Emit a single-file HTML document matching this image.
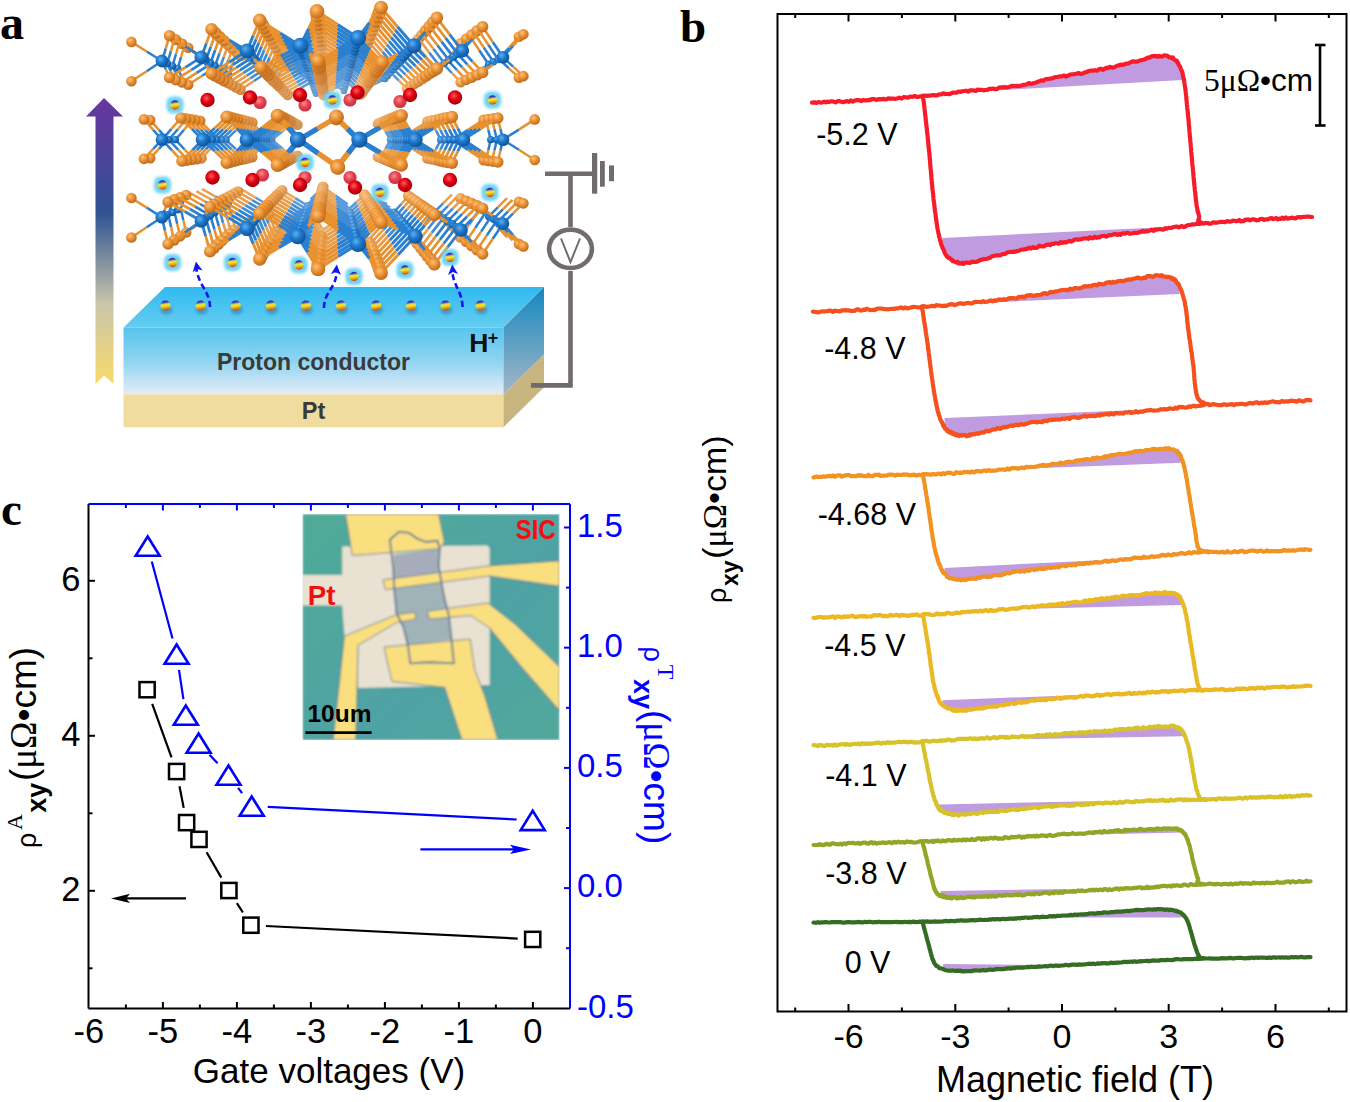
<!DOCTYPE html>
<html><head><meta charset="utf-8"><style>
html,body{margin:0;padding:0;background:#fff;width:1350px;height:1102px;overflow:hidden}
svg{display:block}
.s{font-family:"Liberation Sans",sans-serif}
.sb{font-family:"Liberation Sans",sans-serif;font-weight:bold}
.r{font-family:"Liberation Serif",serif}
.sbf{font-family:"Liberation Serif",serif;font-weight:bold}
text{font-family:"Liberation Sans",sans-serif}
</style></head><body>
<svg width="1350" height="1102" viewBox="0 0 1350 1102">
<defs><filter id="blur2" x="-50%" y="-50%" width="200%" height="200%"><feGaussianBlur stdDeviation="1.5"/></filter><radialGradient id="hp2" cx="0.5" cy="0.42" r="0.6"><stop offset="0" stop-color="#fff59a"/><stop offset="0.35" stop-color="#e8d020"/><stop offset="0.7" stop-color="#c89010"/><stop offset="1" stop-color="#7a3a10"/></radialGradient><linearGradient id="arr" x1="0" y1="0" x2="0" y2="1"><stop offset="0" stop-color="#6a35a0"/><stop offset="0.4" stop-color="#2e5292"/><stop offset="0.72" stop-color="#c9c6aa"/><stop offset="1" stop-color="#f8da6a"/></linearGradient><linearGradient id="topf" x1="0" y1="0" x2="0" y2="1"><stop offset="0" stop-color="#2fbaf0"/><stop offset="1" stop-color="#66cdf2"/></linearGradient><linearGradient id="frontf" x1="0" y1="0" x2="0" y2="1"><stop offset="0" stop-color="#56c4ee"/><stop offset="0.5" stop-color="#8fd4f1"/><stop offset="1" stop-color="#e6ecf6"/></linearGradient><linearGradient id="sidef" x1="0" y1="0" x2="0" y2="1"><stop offset="0" stop-color="#1288c0"/><stop offset="1" stop-color="#a6b6c6"/></linearGradient></defs>
<defs><radialGradient id="go0" cx="0.38" cy="0.35" r="0.7"><stop offset="0" stop-color="#fbc27a"/><stop offset="0.45" stop-color="#ec9336"/><stop offset="1" stop-color="#b8661a"/></radialGradient><radialGradient id="gb0" cx="0.38" cy="0.35" r="0.7"><stop offset="0" stop-color="#5db0f0"/><stop offset="0.45" stop-color="#1f78cc"/><stop offset="1" stop-color="#0f4f90"/></radialGradient><radialGradient id="go1" cx="0.38" cy="0.35" r="0.7"><stop offset="0" stop-color="#fbc888"/><stop offset="0.45" stop-color="#ee9f4c"/><stop offset="1" stop-color="#bf7733"/></radialGradient><radialGradient id="gb1" cx="0.38" cy="0.35" r="0.7"><stop offset="0" stop-color="#6fb8f1"/><stop offset="0.45" stop-color="#3887d1"/><stop offset="1" stop-color="#2a629c"/></radialGradient><radialGradient id="go2" cx="0.38" cy="0.35" r="0.7"><stop offset="0" stop-color="#fbcf97"/><stop offset="0.45" stop-color="#f0ab63"/><stop offset="1" stop-color="#c7884d"/></radialGradient><radialGradient id="gb2" cx="0.38" cy="0.35" r="0.7"><stop offset="0" stop-color="#81c1f3"/><stop offset="0.45" stop-color="#5196d7"/><stop offset="1" stop-color="#4576a8"/></radialGradient><radialGradient id="go3" cx="0.38" cy="0.35" r="0.7"><stop offset="0" stop-color="#fcd6a6"/><stop offset="0.45" stop-color="#f2b779"/><stop offset="1" stop-color="#cf9967"/></radialGradient><radialGradient id="gb3" cx="0.38" cy="0.35" r="0.7"><stop offset="0" stop-color="#93caf5"/><stop offset="0.45" stop-color="#6aa5dd"/><stop offset="1" stop-color="#608ab5"/></radialGradient><radialGradient id="go4" cx="0.38" cy="0.35" r="0.7"><stop offset="0" stop-color="#fcddb5"/><stop offset="0.45" stop-color="#f4c390"/><stop offset="1" stop-color="#d7aa81"/></radialGradient><radialGradient id="gb4" cx="0.38" cy="0.35" r="0.7"><stop offset="0" stop-color="#a5d3f6"/><stop offset="0.45" stop-color="#83b4e2"/><stop offset="1" stop-color="#7b9ec1"/></radialGradient><radialGradient id="gr" cx="0.42" cy="0.38" r="0.7"><stop offset="0" stop-color="#ff5a5a"/><stop offset="0.45" stop-color="#e00010"/><stop offset="1" stop-color="#8a0008"/></radialGradient><radialGradient id="grb" cx="0.42" cy="0.38" r="0.7"><stop offset="0" stop-color="#f89090"/><stop offset="0.45" stop-color="#e84050"/><stop offset="1" stop-color="#b83040"/></radialGradient><linearGradient id="hp" x1="0" y1="0" x2="0.15" y2="1"><stop offset="0" stop-color="#2020d0"/><stop offset="0.22" stop-color="#3a3ac8"/><stop offset="0.42" stop-color="#d8d850"/><stop offset="0.55" stop-color="#f2e62a"/><stop offset="0.78" stop-color="#d8a818"/><stop offset="1" stop-color="#e04818"/></linearGradient></defs>
<g fill="none">
<circle cx="324.8" cy="83.2" r="4.8" fill="url(#go4)"/>
<circle cx="324.4" cy="78.9" r="5.0" fill="url(#go4)"/>
<path d="M344.0,90.9L334.1,84.5" stroke="#71aadf" stroke-width="2.5"/><path d="M334.1,84.5L324.3,78.1" stroke="#efb675" stroke-width="2.5"/>
<circle cx="344.0" cy="90.9" r="3.3" fill="url(#gb3)"/>
<path d="M316.0,93.6L320.0,85.2" stroke="#71aadf" stroke-width="2.4"/><path d="M320.0,85.2L324.1,76.8" stroke="#efb675" stroke-width="2.4"/>
<circle cx="316.0" cy="93.6" r="3.4" fill="url(#gb3)"/>
<circle cx="323.9" cy="74.7" r="5.1" fill="url(#go3)"/>
<path d="M344.9,87.6L334.3,80.8" stroke="#71aadf" stroke-width="2.5"/><path d="M334.3,80.8L323.8,74.0" stroke="#efb675" stroke-width="2.5"/>
<circle cx="344.9" cy="87.6" r="3.4" fill="url(#gb3)"/>
<path d="M314.9,90.4L319.3,81.4" stroke="#71aadf" stroke-width="2.5"/><path d="M319.3,81.4L323.6,72.4" stroke="#efb675" stroke-width="2.5"/>
<circle cx="314.9" cy="90.4" r="3.4" fill="url(#gb3)"/>
<circle cx="323.4" cy="70.5" r="5.3" fill="url(#go3)"/>
<path d="M345.7,84.3L334.5,77.1" stroke="#71aadf" stroke-width="2.6"/><path d="M334.5,77.1L323.4,69.8" stroke="#efb675" stroke-width="2.6"/>
<circle cx="345.7" cy="84.3" r="3.5" fill="url(#gb3)"/>
<path d="M345.9,83.9L352.2,75.5" stroke="#71aadf" stroke-width="2.5"/><path d="M352.2,75.5L358.5,67.2" stroke="#efb675" stroke-width="2.5"/>
<circle cx="358.5" cy="67.2" r="5.0" fill="url(#go3)"/>
<path d="M313.9,87.2L318.5,77.6" stroke="#71aadf" stroke-width="2.5"/><path d="M318.5,77.6L323.2,68.0" stroke="#efb675" stroke-width="2.5"/>
<circle cx="313.9" cy="87.2" r="3.5" fill="url(#gb3)"/>
<path d="M313.6,86.3L318.6,90.6" stroke="#71aadf" stroke-width="2.6"/><path d="M318.6,90.6L323.6,95.0" stroke="#efb675" stroke-width="2.6"/>
<path d="M346.4,81.9L335.0,88.4" stroke="#71aadf" stroke-width="2.6"/><path d="M335.0,88.4L323.6,95.0" stroke="#efb675" stroke-width="2.6"/>
<circle cx="323.6" cy="95.0" r="5.4" fill="url(#go3)"/>
<circle cx="323.0" cy="66.3" r="5.4" fill="url(#go3)"/>
<path d="M346.6,81.0L334.8,73.3" stroke="#71aadf" stroke-width="2.6"/><path d="M334.8,73.3L322.9,65.6" stroke="#efb675" stroke-width="2.6"/>
<path d="M346.6,81.0L353.6,88.0" stroke="#71aadf" stroke-width="2.5"/><path d="M353.6,88.0L360.5,95.0" stroke="#efb675" stroke-width="2.5"/>
<circle cx="346.6" cy="81.0" r="3.6" fill="url(#gb3)"/>
<circle cx="360.5" cy="95.0" r="5.1" fill="url(#go3)"/>
<path d="M346.8,80.4L353.5,71.5" stroke="#71aadf" stroke-width="2.5"/><path d="M353.5,71.5L360.2,62.6" stroke="#efb675" stroke-width="2.5"/>
<circle cx="360.2" cy="62.6" r="5.2" fill="url(#go3)"/>
<path d="M312.8,84.0L317.8,73.9" stroke="#71aadf" stroke-width="2.6"/><path d="M317.8,73.9L322.7,63.7" stroke="#efb675" stroke-width="2.6"/>
<circle cx="312.8" cy="84.0" r="3.6" fill="url(#gb3)"/>
<path d="M312.6,83.2L317.9,87.8" stroke="#71aadf" stroke-width="2.6"/><path d="M317.9,87.8L323.2,92.4" stroke="#efb675" stroke-width="2.6"/>
<path d="M347.3,78.5L335.2,85.5" stroke="#71aadf" stroke-width="2.7"/><path d="M335.2,85.5L323.2,92.4" stroke="#efb675" stroke-width="2.7"/>
<circle cx="323.2" cy="92.4" r="5.5" fill="url(#go3)"/>
<circle cx="322.5" cy="62.1" r="5.6" fill="url(#go3)"/>
<path d="M347.5,77.7L335.0,69.6" stroke="#599bda" stroke-width="2.7"/><path d="M335.0,69.6L322.4,61.5" stroke="#eda95d" stroke-width="2.7"/>
<path d="M347.5,77.7L354.8,85.1" stroke="#599bda" stroke-width="2.6"/><path d="M354.8,85.1L362.2,92.5" stroke="#eda95d" stroke-width="2.6"/>
<circle cx="347.5" cy="77.7" r="3.7" fill="url(#gb2)"/>
<circle cx="362.2" cy="92.5" r="5.3" fill="url(#go2)"/>
<path d="M312.2,82.1L299.7,74.3" stroke="#599bda" stroke-width="2.5"/><path d="M299.7,74.3L287.2,66.5" stroke="#eda95d" stroke-width="2.5"/>
<circle cx="287.2" cy="66.5" r="5.1" fill="url(#go2)"/>
<path d="M310.5,199.6L316.7,193.3" stroke="#599bda" stroke-width="2.6"/><path d="M316.7,193.3L323.0,187.0" stroke="#eda95d" stroke-width="2.6"/>
<path d="M347.7,204.3L335.3,195.6" stroke="#599bda" stroke-width="2.7"/><path d="M335.3,195.6L323.0,187.0" stroke="#eda95d" stroke-width="2.7"/>
<circle cx="323.0" cy="187.0" r="5.6" fill="url(#go2)"/>
<path d="M312.1,81.6L299.9,88.3" stroke="#599bda" stroke-width="2.5"/><path d="M299.9,88.3L287.7,95.0" stroke="#eda95d" stroke-width="2.5"/>
<circle cx="287.7" cy="95.0" r="5.2" fill="url(#go2)"/>
<path d="M347.7,76.8L354.8,67.4" stroke="#599bda" stroke-width="2.6"/><path d="M354.8,67.4L362.0,58.0" stroke="#eda95d" stroke-width="2.6"/>
<circle cx="362.0" cy="58.0" r="5.3" fill="url(#go2)"/>
<circle cx="297.5" cy="124.7" r="5.3" fill="url(#go2)"/>
<circle cx="297.5" cy="155.7" r="5.3" fill="url(#go2)"/>
<path d="M311.8,80.8L317.0,70.1" stroke="#599bda" stroke-width="2.6"/><path d="M317.0,70.1L322.2,59.3" stroke="#eda95d" stroke-width="2.6"/>
<circle cx="311.8" cy="80.8" r="3.7" fill="url(#gb2)"/>
<path d="M311.5,80.0L317.1,84.9" stroke="#599bda" stroke-width="2.7"/><path d="M317.1,84.9L322.7,89.8" stroke="#eda95d" stroke-width="2.7"/>
<path d="M348.2,75.1L335.5,82.5" stroke="#599bda" stroke-width="2.7"/><path d="M335.5,82.5L322.7,89.8" stroke="#eda95d" stroke-width="2.7"/>
<circle cx="322.7" cy="89.8" r="5.7" fill="url(#go2)"/>
<circle cx="322.1" cy="57.8" r="5.7" fill="url(#go2)"/>
<path d="M348.4,74.4L335.2,65.8" stroke="#599bda" stroke-width="2.7"/><path d="M335.2,65.8L322.0,57.3" stroke="#eda95d" stroke-width="2.7"/>
<path d="M348.4,74.4L356.1,82.2" stroke="#599bda" stroke-width="2.6"/><path d="M356.1,82.2L363.8,90.0" stroke="#eda95d" stroke-width="2.6"/>
<circle cx="348.4" cy="74.4" r="3.8" fill="url(#gb2)"/>
<circle cx="363.8" cy="90.0" r="5.4" fill="url(#go2)"/>
<path d="M311.2,79.1L298.1,70.9" stroke="#599bda" stroke-width="2.6"/><path d="M298.1,70.9L284.9,62.7" stroke="#eda95d" stroke-width="2.6"/>
<circle cx="284.9" cy="62.7" r="5.2" fill="url(#go2)"/>
<path d="M384.9,78.8L374.2,66.4" stroke="#599bda" stroke-width="2.5"/><path d="M374.2,66.4L363.4,54.1" stroke="#eda95d" stroke-width="2.5"/>
<path d="M384.9,78.8L374.5,84.2" stroke="#599bda" stroke-width="2.5"/><path d="M374.5,84.2L364.1,89.5" stroke="#eda95d" stroke-width="2.5"/>
<circle cx="384.9" cy="78.8" r="3.5" fill="url(#gb2)"/>
<path d="M276.2,81.8L280.4,71.9" stroke="#599bda" stroke-width="2.5"/><path d="M280.4,71.9L284.5,62.0" stroke="#eda95d" stroke-width="2.5"/>
<path d="M276.2,81.8L280.8,87.2" stroke="#599bda" stroke-width="2.5"/><path d="M280.8,87.2L285.4,92.6" stroke="#eda95d" stroke-width="2.5"/>
<circle cx="276.2" cy="81.8" r="3.5" fill="url(#gb2)"/>
<path d="M309.3,202.9L315.9,196.3" stroke="#599bda" stroke-width="2.7"/><path d="M315.9,196.3L322.5,189.6" stroke="#eda95d" stroke-width="2.7"/>
<path d="M348.6,207.9L335.6,198.7" stroke="#599bda" stroke-width="2.7"/><path d="M335.6,198.7L322.5,189.6" stroke="#eda95d" stroke-width="2.7"/>
<circle cx="322.5" cy="189.6" r="5.8" fill="url(#go2)"/>
<path d="M311.0,78.4L298.1,85.4" stroke="#599bda" stroke-width="2.6"/><path d="M298.1,85.4L285.2,92.5" stroke="#eda95d" stroke-width="2.6"/>
<circle cx="285.2" cy="92.5" r="5.3" fill="url(#go2)"/>
<path d="M348.7,73.3L356.2,63.4" stroke="#599bda" stroke-width="2.6"/><path d="M356.2,63.4L363.7,53.4" stroke="#eda95d" stroke-width="2.6"/>
<circle cx="363.7" cy="53.4" r="5.5" fill="url(#go2)"/>
<circle cx="295.7" cy="123.9" r="5.5" fill="url(#go2)"/>
<circle cx="295.7" cy="156.5" r="5.5" fill="url(#go2)"/>
<path d="M310.8,77.6L316.3,66.3" stroke="#599bda" stroke-width="2.7"/><path d="M316.3,66.3L321.7,55.0" stroke="#eda95d" stroke-width="2.7"/>
<circle cx="310.8" cy="77.6" r="3.8" fill="url(#gb2)"/>
<path d="M349.0,209.3L356.7,202.0" stroke="#599bda" stroke-width="2.6"/><path d="M356.7,202.0L364.3,194.7" stroke="#eda95d" stroke-width="2.6"/>
<path d="M387.2,204.2L375.8,199.4" stroke="#599bda" stroke-width="2.5"/><path d="M375.8,199.4L364.3,194.7" stroke="#eda95d" stroke-width="2.5"/>
<circle cx="364.3" cy="194.7" r="5.5" fill="url(#go2)"/>
<path d="M310.5,76.9L316.4,82.0" stroke="#599bda" stroke-width="2.7"/><path d="M316.4,82.0L322.3,87.2" stroke="#eda95d" stroke-width="2.7"/>
<path d="M349.1,71.8L335.7,79.5" stroke="#599bda" stroke-width="2.8"/><path d="M335.7,79.5L322.3,87.2" stroke="#eda95d" stroke-width="2.8"/>
<circle cx="322.3" cy="87.2" r="5.8" fill="url(#go2)"/>
<circle cx="378.0" cy="123.7" r="5.4" fill="url(#go2)"/>
<circle cx="378.0" cy="156.7" r="5.4" fill="url(#go2)"/>
<circle cx="321.6" cy="53.6" r="5.8" fill="url(#go2)"/>
<path d="M349.2,71.1L335.4,62.1" stroke="#599bda" stroke-width="2.8"/><path d="M335.4,62.1L321.5,53.1" stroke="#eda95d" stroke-width="2.8"/>
<path d="M349.2,71.1L357.4,79.3" stroke="#599bda" stroke-width="2.7"/><path d="M357.4,79.3L365.5,87.4" stroke="#eda95d" stroke-width="2.7"/>
<circle cx="349.2" cy="71.1" r="3.9" fill="url(#gb2)"/>
<circle cx="365.5" cy="87.4" r="5.5" fill="url(#go2)"/>
<path d="M310.2,76.0L296.4,67.4" stroke="#599bda" stroke-width="2.6"/><path d="M296.4,67.4L282.6,58.8" stroke="#eda95d" stroke-width="2.6"/>
<circle cx="282.6" cy="58.8" r="5.4" fill="url(#go2)"/>
<path d="M387.5,75.8L376.3,62.8" stroke="#599bda" stroke-width="2.6"/><path d="M376.3,62.8L365.0,49.8" stroke="#eda95d" stroke-width="2.6"/>
<path d="M387.5,75.8L376.6,81.4" stroke="#599bda" stroke-width="2.6"/><path d="M376.6,81.4L365.7,87.0" stroke="#eda95d" stroke-width="2.6"/>
<circle cx="387.5" cy="75.8" r="3.6" fill="url(#gb2)"/>
<path d="M308.2,206.0L295.2,198.2" stroke="#599bda" stroke-width="2.6"/><path d="M295.2,198.2L282.1,190.3" stroke="#eda95d" stroke-width="2.6"/>
<path d="M308.2,206.0L295.2,213.8" stroke="#599bda" stroke-width="2.6"/><path d="M295.2,213.8L282.1,221.6" stroke="#eda95d" stroke-width="2.6"/>
<path d="M308.2,206.0L315.2,217.3" stroke="#599bda" stroke-width="2.7"/><path d="M315.2,217.3L322.1,228.5" stroke="#eda95d" stroke-width="2.7"/>
<circle cx="308.2" cy="206.0" r="3.9" fill="url(#gb2)"/>
<path d="M273.3,78.7L277.7,68.3" stroke="#599bda" stroke-width="2.5"/><path d="M277.7,68.3L282.0,57.8" stroke="#eda95d" stroke-width="2.5"/>
<path d="M273.3,78.7L278.1,84.4" stroke="#599bda" stroke-width="2.5"/><path d="M278.1,84.4L282.9,90.1" stroke="#eda95d" stroke-width="2.5"/>
<circle cx="273.3" cy="78.7" r="3.6" fill="url(#gb2)"/>
<path d="M273.3,201.0L277.6,195.7" stroke="#599bda" stroke-width="2.5"/><path d="M277.6,195.7L282.0,190.4" stroke="#eda95d" stroke-width="2.5"/>
<circle cx="282.0" cy="190.4" r="5.4" fill="url(#go2)"/>
<path d="M308.2,206.2L315.1,199.3" stroke="#599bda" stroke-width="2.7"/><path d="M315.1,199.3L322.1,192.3" stroke="#eda95d" stroke-width="2.7"/>
<path d="M349.6,211.5L335.8,201.9" stroke="#599bda" stroke-width="2.8"/><path d="M335.8,201.9L322.1,192.3" stroke="#eda95d" stroke-width="2.8"/>
<circle cx="322.1" cy="192.3" r="5.9" fill="url(#go2)"/>
<path d="M309.9,75.1L296.4,82.5" stroke="#599bda" stroke-width="2.6"/><path d="M296.4,82.5L282.8,90.0" stroke="#eda95d" stroke-width="2.6"/>
<circle cx="282.8" cy="90.0" r="5.4" fill="url(#go2)"/>
<path d="M349.6,69.8L357.5,59.3" stroke="#599bda" stroke-width="2.7"/><path d="M357.5,59.3L365.4,48.8" stroke="#eda95d" stroke-width="2.7"/>
<circle cx="365.4" cy="48.8" r="5.6" fill="url(#go2)"/>
<circle cx="293.9" cy="123.1" r="5.6" fill="url(#go2)"/>
<circle cx="293.9" cy="157.4" r="5.6" fill="url(#go2)"/>
<path d="M309.7,74.5L315.5,62.5" stroke="#599bda" stroke-width="2.8"/><path d="M315.5,62.5L321.3,50.6" stroke="#eda95d" stroke-width="2.8"/>
<circle cx="309.7" cy="74.5" r="3.9" fill="url(#gb2)"/>
<path d="M349.9,212.7L358.0,205.1" stroke="#599bda" stroke-width="2.7"/><path d="M358.0,205.1L366.0,197.4" stroke="#eda95d" stroke-width="2.7"/>
<path d="M390.0,207.4L378.0,202.4" stroke="#599bda" stroke-width="2.6"/><path d="M378.0,202.4L366.0,197.4" stroke="#eda95d" stroke-width="2.6"/>
<circle cx="366.0" cy="197.4" r="5.7" fill="url(#go2)"/>
<path d="M350.0,212.9L335.9,221.7" stroke="#599bda" stroke-width="2.8"/><path d="M335.9,221.7L321.9,230.5" stroke="#eda95d" stroke-width="2.8"/>
<path d="M350.0,212.9L358.0,223.1" stroke="#599bda" stroke-width="2.7"/><path d="M358.0,223.1L366.1,233.4" stroke="#eda95d" stroke-width="2.7"/>
<circle cx="350.0" cy="212.9" r="4.0" fill="url(#gb2)"/>
<path d="M309.5,73.8L315.7,79.2" stroke="#599bda" stroke-width="2.8"/><path d="M315.7,79.2L321.9,84.5" stroke="#eda95d" stroke-width="2.8"/>
<path d="M350.0,68.4L335.9,76.5" stroke="#599bda" stroke-width="2.8"/><path d="M335.9,76.5L321.9,84.5" stroke="#eda95d" stroke-width="2.8"/>
<circle cx="321.9" cy="84.5" r="6.0" fill="url(#go2)"/>
<circle cx="380.4" cy="122.9" r="5.5" fill="url(#go2)"/>
<circle cx="380.4" cy="157.6" r="5.5" fill="url(#go2)"/>
<path d="M271.8,139.8L282.6,131.3" stroke="#599bda" stroke-width="2.6"/><path d="M282.6,131.3L293.3,122.8" stroke="#eda95d" stroke-width="2.6"/>
<path d="M271.8,139.8L282.6,148.7" stroke="#599bda" stroke-width="2.6"/><path d="M282.6,148.7L293.3,157.6" stroke="#eda95d" stroke-width="2.6"/>
<circle cx="271.8" cy="139.8" r="3.6" fill="url(#gb2)"/>
<circle cx="321.1" cy="49.4" r="6.0" fill="url(#go2)"/>
<path d="M390.4,139.8L385.5,131.3" stroke="#599bda" stroke-width="2.5"/><path d="M385.5,131.3L380.6,122.8" stroke="#eda95d" stroke-width="2.5"/>
<path d="M390.4,139.8L385.5,148.7" stroke="#599bda" stroke-width="2.5"/><path d="M385.5,148.7L380.6,157.6" stroke="#eda95d" stroke-width="2.5"/>
<circle cx="390.4" cy="139.8" r="3.6" fill="url(#gb2)"/>
<path d="M350.1,67.8L335.6,58.4" stroke="#599bda" stroke-width="2.8"/><path d="M335.6,58.4L321.1,48.9" stroke="#eda95d" stroke-width="2.8"/>
<path d="M350.1,67.8L358.6,76.3" stroke="#599bda" stroke-width="2.7"/><path d="M358.6,76.3L367.1,84.9" stroke="#eda95d" stroke-width="2.7"/>
<circle cx="350.1" cy="67.8" r="4.0" fill="url(#gb2)"/>
<circle cx="367.1" cy="84.9" r="5.7" fill="url(#go2)"/>
<path d="M309.3,73.0L294.8,64.0" stroke="#599bda" stroke-width="2.7"/><path d="M294.8,64.0L280.3,55.0" stroke="#eda95d" stroke-width="2.7"/>
<circle cx="280.3" cy="55.0" r="5.5" fill="url(#go2)"/>
<path d="M390.2,72.8L378.4,59.2" stroke="#599bda" stroke-width="2.6"/><path d="M378.4,59.2L366.6,45.6" stroke="#eda95d" stroke-width="2.6"/>
<path d="M390.2,72.8L378.8,78.7" stroke="#599bda" stroke-width="2.6"/><path d="M378.8,78.7L367.4,84.5" stroke="#eda95d" stroke-width="2.6"/>
<circle cx="390.2" cy="72.8" r="3.7" fill="url(#gb2)"/>
<path d="M390.6,72.3L398.8,62.3" stroke="#599bda" stroke-width="2.5"/><path d="M398.8,62.3L407.0,52.3" stroke="#eda95d" stroke-width="2.5"/>
<path d="M390.6,72.3L398.8,80.5" stroke="#599bda" stroke-width="2.5"/><path d="M398.8,80.5L407.0,88.8" stroke="#eda95d" stroke-width="2.5"/>
<circle cx="407.0" cy="52.3" r="5.2" fill="url(#go2)"/>
<circle cx="407.0" cy="88.8" r="5.2" fill="url(#go2)"/>
<path d="M307.1,209.4L293.3,201.2" stroke="#599bda" stroke-width="2.7"/><path d="M293.3,201.2L279.6,192.9" stroke="#eda95d" stroke-width="2.7"/>
<path d="M307.1,209.4L293.3,217.6" stroke="#599bda" stroke-width="2.7"/><path d="M293.3,217.6L279.6,225.8" stroke="#eda95d" stroke-width="2.7"/>
<path d="M307.1,209.4L314.4,221.2" stroke="#599bda" stroke-width="2.8"/><path d="M314.4,221.2L321.6,233.0" stroke="#eda95d" stroke-width="2.8"/>
<circle cx="307.1" cy="209.4" r="4.0" fill="url(#gb2)"/>
<path d="M270.4,75.6L275.0,64.6" stroke="#599bda" stroke-width="2.6"/><path d="M275.0,64.6L279.5,53.6" stroke="#eda95d" stroke-width="2.6"/>
<path d="M270.4,75.6L275.4,81.6" stroke="#599bda" stroke-width="2.6"/><path d="M275.4,81.6L280.5,87.5" stroke="#eda95d" stroke-width="2.6"/>
<circle cx="270.4" cy="75.6" r="3.7" fill="url(#gb2)"/>
<path d="M270.3,204.0L274.9,198.5" stroke="#599bda" stroke-width="2.6"/><path d="M274.9,198.5L279.5,193.0" stroke="#eda95d" stroke-width="2.6"/>
<circle cx="279.5" cy="193.0" r="5.6" fill="url(#go2)"/>
<path d="M307.0,209.6L314.3,202.2" stroke="#599bda" stroke-width="2.8"/><path d="M314.3,202.2L321.6,194.9" stroke="#eda95d" stroke-width="2.8"/>
<path d="M350.5,215.1L336.1,205.0" stroke="#599bda" stroke-width="2.9"/><path d="M336.1,205.0L321.6,194.9" stroke="#eda95d" stroke-width="2.9"/>
<circle cx="321.6" cy="194.9" r="6.1" fill="url(#go2)"/>
<path d="M308.9,71.8L294.6,79.6" stroke="#599bda" stroke-width="2.7"/><path d="M294.6,79.6L280.4,87.4" stroke="#eda95d" stroke-width="2.7"/>
<circle cx="280.4" cy="87.4" r="5.6" fill="url(#go2)"/>
<path d="M350.5,66.2L358.8,55.3" stroke="#599bda" stroke-width="2.7"/><path d="M358.8,55.3L367.2,44.3" stroke="#eda95d" stroke-width="2.7"/>
<circle cx="367.2" cy="44.3" r="5.7" fill="url(#go2)"/>
<circle cx="292.0" cy="122.2" r="5.7" fill="url(#go2)"/>
<circle cx="292.0" cy="158.2" r="5.7" fill="url(#go2)"/>
<path d="M308.7,71.3L314.7,58.8" stroke="#599bda" stroke-width="2.8"/><path d="M314.7,58.8L320.8,46.3" stroke="#eda95d" stroke-width="2.8"/>
<circle cx="308.7" cy="71.3" r="4.0" fill="url(#gb2)"/>
<path d="M350.8,216.2L359.2,208.2" stroke="#599bda" stroke-width="2.8"/><path d="M359.2,208.2L367.7,200.1" stroke="#eda95d" stroke-width="2.8"/>
<path d="M392.8,210.6L380.3,205.4" stroke="#599bda" stroke-width="2.6"/><path d="M380.3,205.4L367.7,200.1" stroke="#eda95d" stroke-width="2.6"/>
<circle cx="367.7" cy="200.1" r="5.8" fill="url(#go2)"/>
<path d="M350.8,216.4L336.1,225.6" stroke="#599bda" stroke-width="2.9"/><path d="M336.1,225.6L321.4,234.8" stroke="#eda95d" stroke-width="2.9"/>
<path d="M350.8,216.4L359.3,227.1" stroke="#599bda" stroke-width="2.8"/><path d="M359.3,227.1L367.8,237.8" stroke="#eda95d" stroke-width="2.8"/>
<circle cx="350.8" cy="216.4" r="4.1" fill="url(#gb2)"/>
<path d="M308.5,70.7L315.0,76.3" stroke="#599bda" stroke-width="2.8"/><path d="M315.0,76.3L321.4,81.9" stroke="#eda95d" stroke-width="2.8"/>
<path d="M350.8,65.0L336.1,73.5" stroke="#599bda" stroke-width="2.9"/><path d="M336.1,73.5L321.4,81.9" stroke="#eda95d" stroke-width="2.9"/>
<circle cx="321.4" cy="81.9" r="6.1" fill="url(#go2)"/>
<circle cx="382.7" cy="122.1" r="5.6" fill="url(#go2)"/>
<circle cx="382.7" cy="158.4" r="5.6" fill="url(#go2)"/>
<path d="M269.1,139.8L280.3,130.9" stroke="#599bda" stroke-width="2.6"/><path d="M280.3,130.9L291.6,122.0" stroke="#eda95d" stroke-width="2.6"/>
<path d="M269.1,139.8L280.3,149.1" stroke="#599bda" stroke-width="2.6"/><path d="M280.3,149.1L291.6,158.4" stroke="#eda95d" stroke-width="2.6"/>
<circle cx="269.1" cy="139.8" r="3.7" fill="url(#gb2)"/>
<circle cx="320.7" cy="45.2" r="6.1" fill="url(#go2)"/>
<path d="M393.2,139.8L388.0,130.9" stroke="#599bda" stroke-width="2.6"/><path d="M388.0,130.9L382.9,122.0" stroke="#eda95d" stroke-width="2.6"/>
<path d="M393.2,139.8L388.0,149.1" stroke="#599bda" stroke-width="2.6"/><path d="M388.0,149.1L382.9,158.4" stroke="#eda95d" stroke-width="2.6"/>
<circle cx="393.2" cy="139.8" r="3.7" fill="url(#gb2)"/>
<path d="M269.0,205.5L255.3,197.5" stroke="#599bda" stroke-width="2.5"/><path d="M255.3,197.5L241.7,189.4" stroke="#eda95d" stroke-width="2.5"/>
<path d="M269.0,205.5L255.3,213.9" stroke="#599bda" stroke-width="2.5"/><path d="M255.3,213.9L241.7,222.3" stroke="#eda95d" stroke-width="2.5"/>
<path d="M269.0,205.5L273.7,216.6" stroke="#599bda" stroke-width="2.6"/><path d="M273.7,216.6L278.4,227.8" stroke="#eda95d" stroke-width="2.6"/>
<circle cx="269.0" cy="205.5" r="3.7" fill="url(#gb2)"/>
<path d="M351.0,64.5L335.8,54.6" stroke="#418dd5" stroke-width="2.9"/><path d="M335.8,54.6L320.6,44.8" stroke="#ea9d46" stroke-width="2.9"/>
<path d="M351.0,64.5L359.9,73.4" stroke="#418dd5" stroke-width="2.8"/><path d="M359.9,73.4L368.8,82.4" stroke="#ea9d46" stroke-width="2.8"/>
<circle cx="351.0" cy="64.5" r="4.1" fill="url(#gb1)"/>
<circle cx="368.8" cy="82.4" r="5.8" fill="url(#go1)"/>
<path d="M308.3,70.0L293.2,60.5" stroke="#418dd5" stroke-width="2.7"/><path d="M293.2,60.5L278.1,51.1" stroke="#ea9d46" stroke-width="2.7"/>
<circle cx="278.1" cy="51.1" r="5.6" fill="url(#go1)"/>
<path d="M392.8,69.8L380.5,55.6" stroke="#418dd5" stroke-width="2.7"/><path d="M380.5,55.6L368.2,41.4" stroke="#ea9d46" stroke-width="2.7"/>
<path d="M392.8,69.8L380.9,75.9" stroke="#418dd5" stroke-width="2.7"/><path d="M380.9,75.9L369.0,82.1" stroke="#ea9d46" stroke-width="2.7"/>
<circle cx="392.8" cy="69.8" r="3.8" fill="url(#gb1)"/>
<path d="M394.1,212.1L401.3,204.0" stroke="#418dd5" stroke-width="2.5"/><path d="M401.3,204.0L408.4,195.9" stroke="#ea9d46" stroke-width="2.5"/>
<path d="M428.4,207.4L418.4,201.7" stroke="#418dd5" stroke-width="2.4"/><path d="M418.4,201.7L408.4,195.9" stroke="#ea9d46" stroke-width="2.4"/>
<circle cx="408.4" cy="195.9" r="5.4" fill="url(#go1)"/>
<path d="M394.2,212.2L381.4,226.0" stroke="#418dd5" stroke-width="2.7"/><path d="M381.4,226.0L368.5,239.7" stroke="#ea9d46" stroke-width="2.7"/>
<path d="M394.2,212.2L401.3,222.7" stroke="#418dd5" stroke-width="2.5"/><path d="M401.3,222.7L408.5,233.1" stroke="#ea9d46" stroke-width="2.5"/>
<circle cx="394.2" cy="212.2" r="3.8" fill="url(#gb1)"/>
<path d="M393.5,69.0L402.1,58.5" stroke="#418dd5" stroke-width="2.5"/><path d="M402.1,58.5L410.7,48.0" stroke="#ea9d46" stroke-width="2.5"/>
<path d="M393.5,69.0L402.1,77.6" stroke="#418dd5" stroke-width="2.5"/><path d="M402.1,77.6L410.7,86.2" stroke="#ea9d46" stroke-width="2.5"/>
<circle cx="410.7" cy="48.0" r="5.4" fill="url(#go1)"/>
<circle cx="410.7" cy="86.2" r="5.4" fill="url(#go1)"/>
<circle cx="321.2" cy="237.2" r="6.2" fill="url(#go1)"/>
<path d="M305.9,212.8L291.5,204.1" stroke="#418dd5" stroke-width="2.7"/><path d="M291.5,204.1L277.1,195.5" stroke="#ea9d46" stroke-width="2.7"/>
<path d="M305.9,212.8L291.5,221.3" stroke="#418dd5" stroke-width="2.7"/><path d="M291.5,221.3L277.1,229.9" stroke="#ea9d46" stroke-width="2.7"/>
<path d="M305.9,212.8L313.5,225.1" stroke="#418dd5" stroke-width="2.9"/><path d="M313.5,225.1L321.2,237.5" stroke="#ea9d46" stroke-width="2.9"/>
<circle cx="305.9" cy="212.8" r="4.1" fill="url(#gb1)"/>
<path d="M267.5,139.8L259.8,131.2" stroke="#418dd5" stroke-width="2.6"/><path d="M259.8,131.2L252.2,122.5" stroke="#ea9d46" stroke-width="2.6"/>
<path d="M267.5,139.8L259.8,148.4" stroke="#418dd5" stroke-width="2.6"/><path d="M259.8,148.4L252.2,157.1" stroke="#ea9d46" stroke-width="2.6"/>
<circle cx="252.2" cy="122.5" r="5.4" fill="url(#go1)"/>
<circle cx="252.2" cy="157.1" r="5.4" fill="url(#go1)"/>
<path d="M267.5,72.5L272.3,61.0" stroke="#418dd5" stroke-width="2.6"/><path d="M272.3,61.0L277.1,49.5" stroke="#ea9d46" stroke-width="2.6"/>
<path d="M267.5,72.5L272.8,78.8" stroke="#418dd5" stroke-width="2.6"/><path d="M272.8,78.8L278.1,85.0" stroke="#ea9d46" stroke-width="2.6"/>
<circle cx="267.5" cy="72.5" r="3.8" fill="url(#gb1)"/>
<path d="M267.4,207.1L272.2,201.3" stroke="#418dd5" stroke-width="2.6"/><path d="M272.2,201.3L277.0,195.5" stroke="#ea9d46" stroke-width="2.6"/>
<circle cx="277.0" cy="195.5" r="5.7" fill="url(#go1)"/>
<path d="M305.9,212.9L313.5,205.2" stroke="#418dd5" stroke-width="2.9"/><path d="M313.5,205.2L321.2,197.5" stroke="#ea9d46" stroke-width="2.9"/>
<path d="M351.4,218.7L336.3,208.1" stroke="#418dd5" stroke-width="2.9"/><path d="M336.3,208.1L321.2,197.5" stroke="#ea9d46" stroke-width="2.9"/>
<circle cx="321.2" cy="197.5" r="6.2" fill="url(#go1)"/>
<path d="M307.8,68.6L292.9,76.7" stroke="#418dd5" stroke-width="2.7"/><path d="M292.9,76.7L278.0,84.9" stroke="#ea9d46" stroke-width="2.7"/>
<circle cx="278.0" cy="84.9" r="5.7" fill="url(#go1)"/>
<path d="M351.5,62.7L360.2,51.2" stroke="#418dd5" stroke-width="2.8"/><path d="M360.2,51.2L368.9,39.7" stroke="#ea9d46" stroke-width="2.8"/>
<circle cx="368.9" cy="39.7" r="5.9" fill="url(#go1)"/>
<path d="M267.3,72.3L253.8,64.1" stroke="#418dd5" stroke-width="2.5"/><path d="M253.8,64.1L240.4,56.0" stroke="#ea9d46" stroke-width="2.5"/>
<path d="M267.3,72.3L253.8,81.0" stroke="#418dd5" stroke-width="2.5"/><path d="M253.8,81.0L240.4,89.7" stroke="#ea9d46" stroke-width="2.5"/>
<circle cx="240.4" cy="56.0" r="5.3" fill="url(#go1)"/>
<circle cx="240.4" cy="89.7" r="5.3" fill="url(#go1)"/>
<circle cx="290.2" cy="121.4" r="5.9" fill="url(#go1)"/>
<circle cx="290.2" cy="159.1" r="5.9" fill="url(#go1)"/>
<path d="M307.7,68.1L314.0,55.0" stroke="#418dd5" stroke-width="2.9"/><path d="M314.0,55.0L320.3,41.9" stroke="#ea9d46" stroke-width="2.9"/>
<circle cx="307.7" cy="68.1" r="4.1" fill="url(#gb1)"/>
<path d="M351.7,219.7L360.5,211.3" stroke="#418dd5" stroke-width="2.8"/><path d="M360.5,211.3L369.3,202.9" stroke="#ea9d46" stroke-width="2.8"/>
<path d="M395.6,213.8L382.5,208.4" stroke="#418dd5" stroke-width="2.7"/><path d="M382.5,208.4L369.3,202.9" stroke="#ea9d46" stroke-width="2.7"/>
<circle cx="369.3" cy="202.9" r="5.9" fill="url(#go1)"/>
<path d="M351.7,219.8L336.4,229.5" stroke="#418dd5" stroke-width="2.9"/><path d="M336.4,229.5L321.0,239.1" stroke="#ea9d46" stroke-width="2.9"/>
<path d="M351.7,219.8L360.6,231.0" stroke="#418dd5" stroke-width="2.8"/><path d="M360.6,231.0L369.4,242.2" stroke="#ea9d46" stroke-width="2.8"/>
<circle cx="351.7" cy="219.8" r="4.2" fill="url(#gb1)"/>
<path d="M307.5,67.6L314.3,73.4" stroke="#418dd5" stroke-width="2.9"/><path d="M314.3,73.4L321.0,79.3" stroke="#ea9d46" stroke-width="2.9"/>
<path d="M351.7,61.6L336.4,70.5" stroke="#418dd5" stroke-width="2.9"/><path d="M336.4,70.5L321.0,79.3" stroke="#ea9d46" stroke-width="2.9"/>
<circle cx="321.0" cy="79.3" r="6.3" fill="url(#go1)"/>
<circle cx="385.0" cy="121.2" r="5.7" fill="url(#go1)"/>
<circle cx="385.0" cy="159.2" r="5.7" fill="url(#go1)"/>
<path d="M231.3,202.3L234.7,196.9" stroke="#418dd5" stroke-width="2.4"/><path d="M234.7,196.9L238.0,191.5" stroke="#ea9d46" stroke-width="2.4"/>
<circle cx="238.0" cy="191.5" r="5.3" fill="url(#go1)"/>
<circle cx="276.1" cy="231.6" r="5.7" fill="url(#go1)"/>
<path d="M266.3,139.8L278.1,130.5" stroke="#418dd5" stroke-width="2.7"/><path d="M278.1,130.5L289.8,121.2" stroke="#ea9d46" stroke-width="2.7"/>
<path d="M266.3,139.8L278.1,149.5" stroke="#418dd5" stroke-width="2.7"/><path d="M278.1,149.5L289.8,159.2" stroke="#ea9d46" stroke-width="2.7"/>
<circle cx="266.3" cy="139.8" r="3.8" fill="url(#gb1)"/>
<circle cx="320.2" cy="40.9" r="6.3" fill="url(#go1)"/>
<path d="M396.0,139.8L390.6,130.5" stroke="#418dd5" stroke-width="2.6"/><path d="M390.6,130.5L385.2,121.2" stroke="#ea9d46" stroke-width="2.6"/>
<path d="M396.0,139.8L390.6,149.5" stroke="#418dd5" stroke-width="2.6"/><path d="M390.6,149.5L385.2,159.3" stroke="#ea9d46" stroke-width="2.6"/>
<circle cx="396.0" cy="139.8" r="3.8" fill="url(#gb1)"/>
<path d="M266.3,208.4L252.0,200.0" stroke="#418dd5" stroke-width="2.5"/><path d="M252.0,200.0L237.7,191.6" stroke="#ea9d46" stroke-width="2.5"/>
<path d="M266.3,208.4L252.0,217.2" stroke="#418dd5" stroke-width="2.5"/><path d="M252.0,217.2L237.7,225.9" stroke="#ea9d46" stroke-width="2.5"/>
<path d="M266.3,208.4L271.1,220.0" stroke="#418dd5" stroke-width="2.6"/><path d="M271.1,220.0L276.0,231.7" stroke="#ea9d46" stroke-width="2.6"/>
<circle cx="266.3" cy="208.4" r="3.8" fill="url(#gb1)"/>
<path d="M351.9,61.2L336.0,50.9" stroke="#418dd5" stroke-width="3.0"/><path d="M336.0,50.9L320.2,40.6" stroke="#ea9d46" stroke-width="3.0"/>
<path d="M351.9,61.2L361.1,70.5" stroke="#418dd5" stroke-width="2.8"/><path d="M361.1,70.5L370.4,79.9" stroke="#ea9d46" stroke-width="2.8"/>
<circle cx="351.9" cy="61.2" r="4.2" fill="url(#gb1)"/>
<circle cx="370.4" cy="79.9" r="5.9" fill="url(#go1)"/>
<path d="M307.3,66.9L291.5,57.1" stroke="#418dd5" stroke-width="2.8"/><path d="M291.5,57.1L275.8,47.3" stroke="#ea9d46" stroke-width="2.8"/>
<circle cx="275.8" cy="47.3" r="5.8" fill="url(#go1)"/>
<circle cx="369.7" cy="243.0" r="6.0" fill="url(#go1)"/>
<path d="M395.5,66.8L382.6,52.0" stroke="#418dd5" stroke-width="2.7"/><path d="M382.6,52.0L369.8,37.2" stroke="#ea9d46" stroke-width="2.7"/>
<path d="M395.5,66.8L383.0,73.2" stroke="#418dd5" stroke-width="2.7"/><path d="M383.0,73.2L370.6,79.6" stroke="#ea9d46" stroke-width="2.7"/>
<circle cx="395.5" cy="66.8" r="3.8" fill="url(#gb1)"/>
<path d="M396.8,215.1L404.2,206.7" stroke="#418dd5" stroke-width="2.6"/><path d="M404.2,206.7L411.6,198.3" stroke="#ea9d46" stroke-width="2.6"/>
<path d="M432.4,210.2L422.0,204.3" stroke="#418dd5" stroke-width="2.5"/><path d="M422.0,204.3L411.6,198.3" stroke="#ea9d46" stroke-width="2.5"/>
<circle cx="411.6" cy="198.3" r="5.5" fill="url(#go1)"/>
<path d="M396.9,215.2L383.5,229.6" stroke="#418dd5" stroke-width="2.7"/><path d="M383.5,229.6L370.1,243.9" stroke="#ea9d46" stroke-width="2.7"/>
<path d="M396.9,215.2L404.3,226.1" stroke="#418dd5" stroke-width="2.6"/><path d="M404.3,226.1L411.7,237.0" stroke="#ea9d46" stroke-width="2.6"/>
<circle cx="396.9" cy="215.2" r="3.9" fill="url(#gb1)"/>
<path d="M396.4,65.7L405.5,54.7" stroke="#418dd5" stroke-width="2.6"/><path d="M405.5,54.7L414.5,43.7" stroke="#ea9d46" stroke-width="2.6"/>
<path d="M396.4,65.7L405.5,74.7" stroke="#418dd5" stroke-width="2.6"/><path d="M405.5,74.7L414.5,83.7" stroke="#ea9d46" stroke-width="2.6"/>
<circle cx="414.5" cy="43.7" r="5.5" fill="url(#go1)"/>
<circle cx="414.5" cy="83.7" r="5.5" fill="url(#go1)"/>
<circle cx="320.8" cy="241.7" r="6.4" fill="url(#go1)"/>
<path d="M228.7,74.7L232.7,63.6" stroke="#418dd5" stroke-width="2.5"/><path d="M232.7,63.6L236.7,52.6" stroke="#ea9d46" stroke-width="2.5"/>
<path d="M228.7,74.7L232.7,81.2" stroke="#418dd5" stroke-width="2.5"/><path d="M232.7,81.2L236.7,87.7" stroke="#ea9d46" stroke-width="2.5"/>
<circle cx="228.7" cy="74.7" r="3.6" fill="url(#gb1)"/>
<path d="M304.8,216.1L289.7,207.1" stroke="#418dd5" stroke-width="2.8"/><path d="M289.7,207.1L274.6,198.0" stroke="#ea9d46" stroke-width="2.8"/>
<path d="M304.8,216.1L289.7,225.1" stroke="#418dd5" stroke-width="2.8"/><path d="M289.7,225.1L274.6,234.1" stroke="#ea9d46" stroke-width="2.8"/>
<path d="M304.8,216.1L312.7,229.1" stroke="#418dd5" stroke-width="2.9"/><path d="M312.7,229.1L320.7,242.0" stroke="#ea9d46" stroke-width="2.9"/>
<circle cx="304.8" cy="216.1" r="4.2" fill="url(#gb1)"/>
<path d="M228.4,204.0L215.3,196.5" stroke="#418dd5" stroke-width="2.4"/><path d="M215.3,196.5L202.1,189.0" stroke="#ea9d46" stroke-width="2.4"/>
<path d="M228.4,204.0L215.3,213.1" stroke="#418dd5" stroke-width="2.4"/><path d="M215.3,213.1L202.1,222.2" stroke="#ea9d46" stroke-width="2.4"/>
<path d="M228.4,204.0L231.9,216.1" stroke="#418dd5" stroke-width="2.5"/><path d="M231.9,216.1L235.3,228.2" stroke="#ea9d46" stroke-width="2.5"/>
<path d="M264.6,139.8L256.5,130.7" stroke="#418dd5" stroke-width="2.6"/><path d="M256.5,130.7L248.5,121.7" stroke="#ea9d46" stroke-width="2.6"/>
<path d="M264.6,139.8L256.5,148.8" stroke="#418dd5" stroke-width="2.6"/><path d="M256.5,148.8L248.5,157.9" stroke="#ea9d46" stroke-width="2.6"/>
<circle cx="228.4" cy="204.0" r="3.6" fill="url(#gb1)"/>
<circle cx="248.5" cy="121.7" r="5.5" fill="url(#go1)"/>
<circle cx="248.5" cy="157.9" r="5.5" fill="url(#go1)"/>
<path d="M264.5,69.4L269.6,57.4" stroke="#418dd5" stroke-width="2.7"/><path d="M269.6,57.4L274.6,45.3" stroke="#ea9d46" stroke-width="2.7"/>
<path d="M264.5,69.4L270.1,76.0" stroke="#418dd5" stroke-width="2.7"/><path d="M270.1,76.0L275.6,82.5" stroke="#ea9d46" stroke-width="2.7"/>
<circle cx="264.5" cy="69.4" r="3.9" fill="url(#gb1)"/>
<path d="M264.5,210.2L269.5,204.2" stroke="#418dd5" stroke-width="2.7"/><path d="M269.5,204.2L274.6,198.1" stroke="#ea9d46" stroke-width="2.7"/>
<circle cx="274.6" cy="198.1" r="5.8" fill="url(#go1)"/>
<path d="M304.7,216.3L312.7,208.2" stroke="#418dd5" stroke-width="2.9"/><path d="M312.7,208.2L320.7,200.2" stroke="#ea9d46" stroke-width="2.9"/>
<path d="M352.4,222.3L336.5,211.2" stroke="#418dd5" stroke-width="3.0"/><path d="M336.5,211.2L320.7,200.2" stroke="#ea9d46" stroke-width="3.0"/>
<circle cx="320.7" cy="200.2" r="6.4" fill="url(#go1)"/>
<path d="M306.8,65.3L291.2,73.9" stroke="#418dd5" stroke-width="2.8"/><path d="M291.2,73.9L275.5,82.4" stroke="#ea9d46" stroke-width="2.8"/>
<circle cx="275.5" cy="82.4" r="5.8" fill="url(#go1)"/>
<path d="M352.4,59.2L361.5,47.1" stroke="#418dd5" stroke-width="2.8"/><path d="M361.5,47.1L370.6,35.1" stroke="#ea9d46" stroke-width="2.8"/>
<circle cx="370.6" cy="35.1" r="6.0" fill="url(#go1)"/>
<path d="M264.4,69.3L250.3,60.7" stroke="#418dd5" stroke-width="2.6"/><path d="M250.3,60.7L236.2,52.1" stroke="#ea9d46" stroke-width="2.6"/>
<path d="M264.4,69.3L250.3,78.3" stroke="#418dd5" stroke-width="2.6"/><path d="M250.3,78.3L236.2,87.4" stroke="#ea9d46" stroke-width="2.6"/>
<circle cx="236.2" cy="52.1" r="5.4" fill="url(#go1)"/>
<circle cx="236.2" cy="87.4" r="5.4" fill="url(#go1)"/>
<path d="M435.2,69.2L425.2,56.1" stroke="#418dd5" stroke-width="2.5"/><path d="M425.2,56.1L415.1,43.0" stroke="#ea9d46" stroke-width="2.5"/>
<path d="M435.2,69.2L425.2,76.2" stroke="#418dd5" stroke-width="2.5"/><path d="M425.2,76.2L415.1,83.3" stroke="#ea9d46" stroke-width="2.5"/>
<circle cx="435.2" cy="69.2" r="3.6" fill="url(#gb1)"/>
<circle cx="288.4" cy="120.6" r="6.0" fill="url(#go1)"/>
<circle cx="288.4" cy="159.9" r="6.0" fill="url(#go1)"/>
<path d="M306.6,64.9L313.2,51.2" stroke="#418dd5" stroke-width="2.9"/><path d="M313.2,51.2L319.8,37.5" stroke="#ea9d46" stroke-width="2.9"/>
<circle cx="306.6" cy="64.9" r="4.2" fill="url(#gb1)"/>
<path d="M434.7,211.8L443.3,203.1" stroke="#418dd5" stroke-width="2.4"/><path d="M443.3,203.1L451.9,194.5" stroke="#ea9d46" stroke-width="2.4"/>
<path d="M434.7,211.8L424.0,225.4" stroke="#418dd5" stroke-width="2.5"/><path d="M424.0,225.4L413.4,239.1" stroke="#ea9d46" stroke-width="2.5"/>
<path d="M434.7,211.8L443.3,221.4" stroke="#418dd5" stroke-width="2.4"/><path d="M443.3,221.4L451.9,230.9" stroke="#ea9d46" stroke-width="2.4"/>
<circle cx="434.7" cy="211.8" r="3.6" fill="url(#gb1)"/>
<path d="M398.3,139.8L413.0,130.7" stroke="#418dd5" stroke-width="2.6"/><path d="M413.0,130.7L427.6,121.6" stroke="#ea9d46" stroke-width="2.6"/>
<path d="M398.3,139.8L413.0,149.1" stroke="#418dd5" stroke-width="2.6"/><path d="M413.0,149.1L427.6,158.4" stroke="#ea9d46" stroke-width="2.6"/>
<circle cx="427.6" cy="121.6" r="5.4" fill="url(#go1)"/>
<circle cx="427.6" cy="158.4" r="5.4" fill="url(#go1)"/>
<path d="M352.6,223.1L361.8,214.4" stroke="#418dd5" stroke-width="2.9"/><path d="M361.8,214.4L371.0,205.6" stroke="#ea9d46" stroke-width="2.9"/>
<path d="M398.4,217.0L384.7,211.3" stroke="#418dd5" stroke-width="2.7"/><path d="M384.7,211.3L371.0,205.6" stroke="#ea9d46" stroke-width="2.7"/>
<circle cx="371.0" cy="205.6" r="6.1" fill="url(#go1)"/>
<path d="M352.6,223.3L336.6,233.3" stroke="#418dd5" stroke-width="3.0"/><path d="M336.6,233.3L320.6,243.4" stroke="#ea9d46" stroke-width="3.0"/>
<path d="M352.6,223.3L361.8,234.9" stroke="#418dd5" stroke-width="2.9"/><path d="M361.8,234.9L371.1,246.6" stroke="#ea9d46" stroke-width="2.9"/>
<path d="M306.5,64.4L313.5,70.6" stroke="#418dd5" stroke-width="2.9"/><path d="M313.5,70.6L320.6,76.7" stroke="#ea9d46" stroke-width="2.9"/>
<path d="M352.6,58.3L336.6,67.5" stroke="#418dd5" stroke-width="3.0"/><path d="M336.6,67.5L320.6,76.7" stroke="#ea9d46" stroke-width="3.0"/>
<circle cx="352.6" cy="223.3" r="4.3" fill="url(#gb1)"/>
<circle cx="320.6" cy="76.7" r="6.4" fill="url(#go1)"/>
<circle cx="387.3" cy="120.4" r="5.9" fill="url(#go1)"/>
<circle cx="387.3" cy="160.0" r="5.9" fill="url(#go1)"/>
<path d="M227.0,204.9L230.5,199.3" stroke="#418dd5" stroke-width="2.5"/><path d="M230.5,199.3L234.0,193.7" stroke="#ea9d46" stroke-width="2.5"/>
<circle cx="234.0" cy="193.7" r="5.4" fill="url(#go1)"/>
<circle cx="413.8" cy="239.6" r="5.6" fill="url(#go1)"/>
<circle cx="273.8" cy="235.5" r="5.9" fill="url(#go1)"/>
<path d="M263.6,139.8L275.8,130.1" stroke="#418dd5" stroke-width="2.7"/><path d="M275.8,130.1L288.1,120.4" stroke="#ea9d46" stroke-width="2.7"/>
<path d="M263.6,139.8L275.8,149.9" stroke="#418dd5" stroke-width="2.7"/><path d="M275.8,149.9L288.1,160.1" stroke="#ea9d46" stroke-width="2.7"/>
<circle cx="263.6" cy="139.8" r="3.9" fill="url(#gb1)"/>
<circle cx="319.8" cy="36.7" r="6.4" fill="url(#go1)"/>
<path d="M398.7,139.8L393.1,130.1" stroke="#418dd5" stroke-width="2.7"/><path d="M393.1,130.1L387.5,120.4" stroke="#ea9d46" stroke-width="2.7"/>
<path d="M398.7,139.8L393.1,149.9" stroke="#418dd5" stroke-width="2.7"/><path d="M393.1,149.9L387.5,160.1" stroke="#ea9d46" stroke-width="2.7"/>
<circle cx="398.7" cy="139.8" r="3.9" fill="url(#gb1)"/>
<path d="M263.5,211.3L248.6,202.6" stroke="#418dd5" stroke-width="2.6"/><path d="M248.6,202.6L233.8,193.8" stroke="#ea9d46" stroke-width="2.6"/>
<path d="M263.5,211.3L248.6,220.4" stroke="#418dd5" stroke-width="2.6"/><path d="M248.6,220.4L233.8,229.6" stroke="#ea9d46" stroke-width="2.6"/>
<path d="M263.5,211.3L268.6,223.4" stroke="#418dd5" stroke-width="2.7"/><path d="M268.6,223.4L273.7,235.6" stroke="#ea9d46" stroke-width="2.7"/>
<circle cx="263.5" cy="211.3" r="3.9" fill="url(#gb1)"/>
<path d="M352.7,57.9L336.2,47.1" stroke="#418dd5" stroke-width="3.0"/><path d="M336.2,47.1L319.7,36.4" stroke="#ea9d46" stroke-width="3.0"/>
<path d="M352.7,57.8L362.4,67.6" stroke="#418dd5" stroke-width="2.9"/><path d="M362.4,67.6L372.1,77.3" stroke="#ea9d46" stroke-width="2.9"/>
<circle cx="352.7" cy="57.9" r="4.3" fill="url(#gb1)"/>
<circle cx="372.1" cy="77.3" r="6.1" fill="url(#go1)"/>
<circle cx="233.5" cy="229.8" r="5.4" fill="url(#go1)"/>
<path d="M306.3,63.9L289.9,53.7" stroke="#418dd5" stroke-width="2.8"/><path d="M289.9,53.7L273.5,43.4" stroke="#ea9d46" stroke-width="2.8"/>
<circle cx="273.5" cy="43.4" r="5.9" fill="url(#go1)"/>
<circle cx="371.3" cy="247.3" r="6.1" fill="url(#go1)"/>
<path d="M398.1,63.8L384.8,48.4" stroke="#418dd5" stroke-width="2.7"/><path d="M384.8,48.4L371.4,32.9" stroke="#ea9d46" stroke-width="2.7"/>
<path d="M398.1,63.8L385.2,70.4" stroke="#418dd5" stroke-width="2.7"/><path d="M385.2,70.4L372.2,77.1" stroke="#ea9d46" stroke-width="2.7"/>
<circle cx="398.1" cy="63.8" r="3.9" fill="url(#gb1)"/>
<path d="M399.4,218.2L407.1,209.4" stroke="#418dd5" stroke-width="2.6"/><path d="M407.1,209.4L414.9,200.6" stroke="#ea9d46" stroke-width="2.6"/>
<path d="M436.5,213.1L425.7,206.8" stroke="#418dd5" stroke-width="2.5"/><path d="M425.7,206.8L414.9,200.6" stroke="#ea9d46" stroke-width="2.5"/>
<circle cx="414.9" cy="200.6" r="5.6" fill="url(#go1)"/>
<path d="M399.5,218.2L385.6,233.2" stroke="#418dd5" stroke-width="2.8"/><path d="M385.6,233.2L371.6,248.1" stroke="#ea9d46" stroke-width="2.8"/>
<path d="M399.5,218.2L407.2,229.6" stroke="#418dd5" stroke-width="2.6"/><path d="M407.2,229.6L414.9,240.9" stroke="#ea9d46" stroke-width="2.6"/>
<circle cx="399.5" cy="218.2" r="3.9" fill="url(#gb1)"/>
<path d="M226.0,139.8L235.9,130.4" stroke="#418dd5" stroke-width="2.5"/><path d="M235.9,130.4L245.7,121.1" stroke="#ea9d46" stroke-width="2.5"/>
<path d="M226.0,139.8L235.9,149.1" stroke="#418dd5" stroke-width="2.5"/><path d="M235.9,149.1L245.7,158.5" stroke="#ea9d46" stroke-width="2.5"/>
<circle cx="226.0" cy="139.8" r="3.7" fill="url(#gb1)"/>
<path d="M399.4,62.3L408.8,50.8" stroke="#418dd5" stroke-width="2.7"/><path d="M408.8,50.8L418.2,39.4" stroke="#ea9d46" stroke-width="2.7"/>
<path d="M399.4,62.3L408.8,71.8" stroke="#418dd5" stroke-width="2.7"/><path d="M408.8,71.8L418.2,81.2" stroke="#ea9d46" stroke-width="2.7"/>
<circle cx="418.2" cy="39.4" r="5.6" fill="url(#go1)"/>
<circle cx="418.2" cy="81.2" r="5.6" fill="url(#go1)"/>
<circle cx="320.3" cy="246.3" r="6.5" fill="url(#go1)"/>
<path d="M224.1,71.8L228.3,60.2" stroke="#418dd5" stroke-width="2.5"/><path d="M228.3,60.2L232.5,48.7" stroke="#ea9d46" stroke-width="2.5"/>
<path d="M224.1,71.8L228.3,78.6" stroke="#418dd5" stroke-width="2.5"/><path d="M228.3,78.6L232.5,85.4" stroke="#ea9d46" stroke-width="2.5"/>
<circle cx="224.1" cy="71.8" r="3.7" fill="url(#gb1)"/>
<path d="M303.6,219.5L287.9,210.0" stroke="#418dd5" stroke-width="2.8"/><path d="M287.9,210.0L272.1,200.6" stroke="#ea9d46" stroke-width="2.8"/>
<path d="M303.6,219.5L287.9,228.9" stroke="#418dd5" stroke-width="2.8"/><path d="M287.9,228.9L272.1,238.2" stroke="#ea9d46" stroke-width="2.8"/>
<path d="M303.6,219.5L311.9,233.0" stroke="#418dd5" stroke-width="3.0"/><path d="M311.9,233.0L320.3,246.5" stroke="#ea9d46" stroke-width="3.0"/>
<circle cx="303.6" cy="219.5" r="4.3" fill="url(#gb1)"/>
<path d="M223.9,206.9L210.2,199.0" stroke="#418dd5" stroke-width="2.4"/><path d="M210.2,199.0L196.4,191.2" stroke="#ea9d46" stroke-width="2.4"/>
<path d="M223.9,206.9L210.2,216.4" stroke="#418dd5" stroke-width="2.4"/><path d="M210.2,216.4L196.4,225.9" stroke="#ea9d46" stroke-width="2.4"/>
<path d="M223.9,206.9L227.5,219.5" stroke="#418dd5" stroke-width="2.5"/><path d="M227.5,219.5L231.1,232.1" stroke="#ea9d46" stroke-width="2.5"/>
<path d="M261.6,139.8L253.3,130.3" stroke="#418dd5" stroke-width="2.7"/><path d="M253.3,130.3L244.9,120.9" stroke="#ea9d46" stroke-width="2.7"/>
<path d="M261.6,139.8L253.3,149.2" stroke="#418dd5" stroke-width="2.7"/><path d="M253.3,149.2L244.9,158.7" stroke="#ea9d46" stroke-width="2.7"/>
<circle cx="223.9" cy="206.9" r="3.7" fill="url(#gb1)"/>
<circle cx="244.9" cy="120.9" r="5.7" fill="url(#go1)"/>
<circle cx="244.9" cy="158.7" r="5.7" fill="url(#go1)"/>
<path d="M261.6,66.3L266.9,53.7" stroke="#418dd5" stroke-width="2.7"/><path d="M266.9,53.7L272.1,41.1" stroke="#ea9d46" stroke-width="2.7"/>
<path d="M261.6,66.3L267.4,73.1" stroke="#418dd5" stroke-width="2.7"/><path d="M267.4,73.1L273.2,79.9" stroke="#ea9d46" stroke-width="2.7"/>
<circle cx="261.6" cy="66.3" r="4.0" fill="url(#gb1)"/>
<path d="M261.6,213.3L266.8,207.0" stroke="#418dd5" stroke-width="2.7"/><path d="M266.8,207.0L272.1,200.6" stroke="#ea9d46" stroke-width="2.7"/>
<circle cx="272.1" cy="200.6" r="6.0" fill="url(#go1)"/>
<path d="M303.6,219.6L311.9,211.2" stroke="#418dd5" stroke-width="3.0"/><path d="M311.9,211.2L320.3,202.8" stroke="#ea9d46" stroke-width="3.0"/>
<path d="M353.3,225.9L336.8,214.3" stroke="#418dd5" stroke-width="3.0"/><path d="M336.8,214.3L320.3,202.8" stroke="#ea9d46" stroke-width="3.0"/>
<circle cx="320.3" cy="202.8" r="6.5" fill="url(#go1)"/>
<path d="M305.7,62.0L289.4,71.0" stroke="#418dd5" stroke-width="2.8"/><path d="M289.4,71.0L273.1,79.9" stroke="#ea9d46" stroke-width="2.8"/>
<circle cx="273.1" cy="79.9" r="6.0" fill="url(#go1)"/>
<path d="M353.3,55.7L362.8,43.1" stroke="#418dd5" stroke-width="2.9"/><path d="M362.8,43.1L372.3,30.5" stroke="#ea9d46" stroke-width="2.9"/>
<circle cx="372.3" cy="30.5" r="6.2" fill="url(#go1)"/>
<path d="M261.5,66.2L246.8,57.2" stroke="#418dd5" stroke-width="2.6"/><path d="M246.8,57.2L232.1,48.3" stroke="#ea9d46" stroke-width="2.6"/>
<path d="M261.5,66.2L246.8,75.7" stroke="#418dd5" stroke-width="2.6"/><path d="M246.8,75.7L232.1,85.1" stroke="#ea9d46" stroke-width="2.6"/>
<circle cx="232.1" cy="48.3" r="5.5" fill="url(#go1)"/>
<circle cx="232.1" cy="85.1" r="5.5" fill="url(#go1)"/>
<path d="M440.7,139.8L435.9,130.3" stroke="#418dd5" stroke-width="2.5"/><path d="M435.9,130.3L431.2,120.9" stroke="#ea9d46" stroke-width="2.5"/>
<path d="M440.7,139.8L435.9,149.4" stroke="#418dd5" stroke-width="2.5"/><path d="M435.9,149.4L431.2,159.0" stroke="#ea9d46" stroke-width="2.5"/>
<circle cx="440.7" cy="139.8" r="3.7" fill="url(#gb1)"/>
<path d="M439.7,66.1L429.2,52.5" stroke="#418dd5" stroke-width="2.6"/><path d="M429.2,52.5L418.7,38.8" stroke="#ea9d46" stroke-width="2.6"/>
<path d="M439.7,66.1L429.2,73.5" stroke="#418dd5" stroke-width="2.6"/><path d="M429.2,73.5L418.7,80.9" stroke="#ea9d46" stroke-width="2.6"/>
<circle cx="439.7" cy="66.1" r="3.7" fill="url(#gb1)"/>
<circle cx="286.6" cy="119.7" r="6.2" fill="url(#go1)"/>
<circle cx="286.6" cy="160.8" r="6.2" fill="url(#go1)"/>
<path d="M305.6,61.7L312.5,47.4" stroke="#418dd5" stroke-width="3.0"/><path d="M312.5,47.4L319.4,33.2" stroke="#ea9d46" stroke-width="3.0"/>
<circle cx="305.6" cy="61.7" r="4.3" fill="url(#gb1)"/>
<path d="M439.1,214.8L448.1,205.8" stroke="#418dd5" stroke-width="2.5"/><path d="M448.1,205.8L457.0,196.8" stroke="#ea9d46" stroke-width="2.5"/>
<path d="M439.1,214.8L428.0,229.0" stroke="#418dd5" stroke-width="2.6"/><path d="M428.0,229.0L416.9,243.3" stroke="#ea9d46" stroke-width="2.6"/>
<path d="M439.1,214.8L448.1,224.8" stroke="#418dd5" stroke-width="2.5"/><path d="M448.1,224.8L457.0,234.8" stroke="#ea9d46" stroke-width="2.5"/>
<circle cx="439.1" cy="214.8" r="3.7" fill="url(#gb1)"/>
<path d="M401.1,139.8L416.4,130.3" stroke="#418dd5" stroke-width="2.6"/><path d="M416.4,130.3L431.7,120.8" stroke="#ea9d46" stroke-width="2.6"/>
<path d="M401.1,139.8L416.4,149.4" stroke="#418dd5" stroke-width="2.6"/><path d="M416.4,149.4L431.7,159.1" stroke="#ea9d46" stroke-width="2.6"/>
<circle cx="431.7" cy="120.8" r="5.5" fill="url(#go1)"/>
<circle cx="431.7" cy="159.1" r="5.5" fill="url(#go1)"/>
<path d="M353.5,226.6L363.1,217.5" stroke="#418dd5" stroke-width="2.9"/><path d="M363.1,217.5L372.7,208.3" stroke="#ea9d46" stroke-width="2.9"/>
<path d="M401.3,220.3L387.0,214.3" stroke="#418dd5" stroke-width="2.8"/><path d="M387.0,214.3L372.7,208.3" stroke="#ea9d46" stroke-width="2.8"/>
<circle cx="372.7" cy="208.3" r="6.2" fill="url(#go1)"/>
<path d="M353.5,226.7L336.8,237.2" stroke="#418dd5" stroke-width="3.1"/><path d="M336.8,237.2L320.2,247.6" stroke="#ea9d46" stroke-width="3.1"/>
<path d="M353.5,226.7L363.1,238.8" stroke="#418dd5" stroke-width="2.9"/><path d="M363.1,238.8L372.7,251.0" stroke="#ea9d46" stroke-width="2.9"/>
<path d="M305.5,61.3L312.8,67.7" stroke="#418dd5" stroke-width="3.0"/><path d="M312.8,67.7L320.2,74.1" stroke="#ea9d46" stroke-width="3.0"/>
<path d="M353.5,54.9L336.8,64.5" stroke="#418dd5" stroke-width="3.1"/><path d="M336.8,64.5L320.2,74.1" stroke="#ea9d46" stroke-width="3.1"/>
<circle cx="353.5" cy="226.7" r="4.4" fill="url(#gb1)"/>
<circle cx="320.2" cy="74.1" r="6.6" fill="url(#go1)"/>
<circle cx="389.7" cy="119.6" r="6.0" fill="url(#go1)"/>
<circle cx="389.7" cy="160.9" r="6.0" fill="url(#go1)"/>
<path d="M222.7,207.6L226.4,201.8" stroke="#418dd5" stroke-width="2.5"/><path d="M226.4,201.8L230.0,195.9" stroke="#ea9d46" stroke-width="2.5"/>
<circle cx="230.0" cy="195.9" r="5.5" fill="url(#go1)"/>
<circle cx="417.2" cy="243.7" r="5.7" fill="url(#go1)"/>
<circle cx="271.4" cy="239.4" r="6.0" fill="url(#go1)"/>
<path d="M260.8,139.7L273.5,129.7" stroke="#418dd5" stroke-width="2.8"/><path d="M273.5,129.7L286.3,119.6" stroke="#ea9d46" stroke-width="2.8"/>
<path d="M260.8,139.7L273.5,150.3" stroke="#418dd5" stroke-width="2.8"/><path d="M273.5,150.3L286.3,160.9" stroke="#ea9d46" stroke-width="2.8"/>
<circle cx="260.8" cy="139.7" r="4.0" fill="url(#gb1)"/>
<circle cx="319.3" cy="32.5" r="6.6" fill="url(#go1)"/>
<path d="M401.5,139.7L395.6,129.7" stroke="#418dd5" stroke-width="2.7"/><path d="M395.6,129.7L389.8,119.6" stroke="#ea9d46" stroke-width="2.7"/>
<path d="M401.5,139.7L395.6,150.3" stroke="#418dd5" stroke-width="2.7"/><path d="M395.6,150.3L389.8,160.9" stroke="#ea9d46" stroke-width="2.7"/>
<circle cx="401.5" cy="139.7" r="4.0" fill="url(#gb1)"/>
<path d="M260.8,214.2L245.3,205.1" stroke="#418dd5" stroke-width="2.6"/><path d="M245.3,205.1L229.8,196.0" stroke="#ea9d46" stroke-width="2.6"/>
<path d="M260.8,214.2L245.3,223.7" stroke="#418dd5" stroke-width="2.6"/><path d="M245.3,223.7L229.8,233.2" stroke="#ea9d46" stroke-width="2.6"/>
<path d="M260.8,214.2L266.1,226.8" stroke="#418dd5" stroke-width="2.7"/><path d="M266.1,226.8L271.4,239.5" stroke="#ea9d46" stroke-width="2.7"/>
<circle cx="260.8" cy="214.2" r="4.0" fill="url(#gb1)"/>
<path d="M353.6,54.5L336.4,43.4" stroke="#418dd5" stroke-width="3.1"/><path d="M336.4,43.4L319.3,32.3" stroke="#ea9d46" stroke-width="3.1"/>
<path d="M353.6,54.5L363.7,64.7" stroke="#418dd5" stroke-width="2.9"/><path d="M363.7,64.7L373.7,74.8" stroke="#ea9d46" stroke-width="2.9"/>
<circle cx="353.6" cy="54.5" r="4.4" fill="url(#gb1)"/>
<circle cx="373.7" cy="74.8" r="6.2" fill="url(#go1)"/>
<circle cx="229.6" cy="233.4" r="5.5" fill="url(#go1)"/>
<path d="M305.3,60.9L288.2,50.2" stroke="#418dd5" stroke-width="2.9"/><path d="M288.2,50.2L271.2,39.6" stroke="#ea9d46" stroke-width="2.9"/>
<circle cx="271.2" cy="39.6" r="6.0" fill="url(#go1)"/>
<circle cx="373.0" cy="251.6" r="6.2" fill="url(#go1)"/>
<path d="M400.8,60.7L386.9,44.7" stroke="#418dd5" stroke-width="2.8"/><path d="M386.9,44.7L373.0,28.7" stroke="#ea9d46" stroke-width="2.8"/>
<path d="M400.8,60.7L387.3,67.7" stroke="#418dd5" stroke-width="2.8"/><path d="M387.3,67.7L373.9,74.6" stroke="#ea9d46" stroke-width="2.8"/>
<circle cx="400.8" cy="60.7" r="4.0" fill="url(#gb1)"/>
<path d="M402.1,221.2L410.1,212.1" stroke="#418dd5" stroke-width="2.7"/><path d="M410.1,212.1L418.1,203.0" stroke="#ea9d46" stroke-width="2.7"/>
<path d="M440.6,215.9L429.3,209.4" stroke="#418dd5" stroke-width="2.6"/><path d="M429.3,209.4L418.1,203.0" stroke="#ea9d46" stroke-width="2.6"/>
<circle cx="418.1" cy="203.0" r="5.7" fill="url(#go1)"/>
<path d="M402.1,221.3L387.7,236.7" stroke="#418dd5" stroke-width="2.8"/><path d="M387.7,236.7L373.2,252.2" stroke="#ea9d46" stroke-width="2.8"/>
<path d="M402.1,221.3L410.1,233.0" stroke="#418dd5" stroke-width="2.7"/><path d="M410.1,233.0L418.2,244.8" stroke="#ea9d46" stroke-width="2.7"/>
<circle cx="402.1" cy="221.3" r="4.0" fill="url(#gb1)"/>
<path d="M221.4,139.7L231.6,130.0" stroke="#418dd5" stroke-width="2.6"/><path d="M231.6,130.0L241.9,120.3" stroke="#ea9d46" stroke-width="2.6"/>
<path d="M221.4,139.7L231.6,149.5" stroke="#418dd5" stroke-width="2.6"/><path d="M231.6,149.5L241.9,159.3" stroke="#ea9d46" stroke-width="2.6"/>
<circle cx="221.4" cy="139.7" r="3.8" fill="url(#gb1)"/>
<path d="M443.2,63.8L451.9,53.5" stroke="#418dd5" stroke-width="2.5"/><path d="M451.9,53.5L460.6,43.2" stroke="#ea9d46" stroke-width="2.5"/>
<path d="M443.2,63.8L451.9,73.0" stroke="#418dd5" stroke-width="2.5"/><path d="M451.9,73.0L460.6,82.2" stroke="#ea9d46" stroke-width="2.5"/>
<path d="M478.0,211.5L469.3,204.9" stroke="#418dd5" stroke-width="2.4"/><path d="M469.3,204.9L460.6,198.4" stroke="#ea9d46" stroke-width="2.4"/>
<path d="M478.0,211.5L469.3,224.5" stroke="#418dd5" stroke-width="2.4"/><path d="M469.3,224.5L460.6,237.4" stroke="#ea9d46" stroke-width="2.4"/>
<circle cx="460.6" cy="43.2" r="5.3" fill="url(#go1)"/>
<circle cx="460.6" cy="82.2" r="5.3" fill="url(#go1)"/>
<circle cx="460.6" cy="198.4" r="5.3" fill="url(#go1)"/>
<circle cx="460.6" cy="237.4" r="5.3" fill="url(#go1)"/>
<path d="M402.3,59.0L412.1,47.0" stroke="#418dd5" stroke-width="2.7"/><path d="M412.1,47.0L422.0,35.0" stroke="#ea9d46" stroke-width="2.7"/>
<path d="M402.3,59.0L412.1,68.8" stroke="#418dd5" stroke-width="2.7"/><path d="M412.1,68.8L422.0,78.7" stroke="#ea9d46" stroke-width="2.7"/>
<circle cx="422.0" cy="35.0" r="5.8" fill="url(#go1)"/>
<circle cx="422.0" cy="78.7" r="5.8" fill="url(#go1)"/>
<circle cx="319.8" cy="250.8" r="6.7" fill="url(#go1)"/>
<path d="M219.5,68.8L223.9,56.8" stroke="#418dd5" stroke-width="2.6"/><path d="M223.9,56.8L228.3,44.8" stroke="#ea9d46" stroke-width="2.6"/>
<path d="M219.5,68.8L223.9,75.9" stroke="#418dd5" stroke-width="2.6"/><path d="M223.9,75.9L228.3,83.0" stroke="#ea9d46" stroke-width="2.6"/>
<circle cx="219.5" cy="68.8" r="3.8" fill="url(#gb1)"/>
<path d="M302.4,222.9L286.0,213.0" stroke="#418dd5" stroke-width="2.9"/><path d="M286.0,213.0L269.7,203.2" stroke="#ea9d46" stroke-width="2.9"/>
<path d="M302.4,222.9L286.0,232.6" stroke="#418dd5" stroke-width="2.9"/><path d="M286.0,232.6L269.7,242.4" stroke="#ea9d46" stroke-width="2.9"/>
<path d="M302.4,222.9L311.1,236.9" stroke="#418dd5" stroke-width="3.0"/><path d="M311.1,236.9L319.8,251.0" stroke="#ea9d46" stroke-width="3.0"/>
<circle cx="302.4" cy="222.9" r="4.4" fill="url(#gb1)"/>
<path d="M219.4,209.7L205.1,201.5" stroke="#418dd5" stroke-width="2.5"/><path d="M205.1,201.5L190.7,193.4" stroke="#ea9d46" stroke-width="2.5"/>
<path d="M219.4,209.7L205.1,219.6" stroke="#418dd5" stroke-width="2.5"/><path d="M205.1,219.6L190.7,229.5" stroke="#ea9d46" stroke-width="2.5"/>
<path d="M219.4,209.7L223.1,222.8" stroke="#418dd5" stroke-width="2.6"/><path d="M223.1,222.8L226.9,235.9" stroke="#ea9d46" stroke-width="2.6"/>
<path d="M258.7,139.7L250.0,129.9" stroke="#418dd5" stroke-width="2.7"/><path d="M250.0,129.9L241.2,120.1" stroke="#ea9d46" stroke-width="2.7"/>
<path d="M258.7,139.7L250.0,149.6" stroke="#418dd5" stroke-width="2.7"/><path d="M250.0,149.6L241.2,159.4" stroke="#ea9d46" stroke-width="2.7"/>
<circle cx="219.4" cy="209.7" r="3.8" fill="url(#gb1)"/>
<circle cx="241.2" cy="120.1" r="5.8" fill="url(#go1)"/>
<circle cx="241.2" cy="159.4" r="5.8" fill="url(#go1)"/>
<path d="M258.7,63.2L264.2,50.1" stroke="#418dd5" stroke-width="2.8"/><path d="M264.2,50.1L269.6,37.0" stroke="#ea9d46" stroke-width="2.8"/>
<path d="M258.7,63.2L264.7,70.3" stroke="#418dd5" stroke-width="2.8"/><path d="M264.7,70.3L270.7,77.4" stroke="#ea9d46" stroke-width="2.8"/>
<circle cx="258.7" cy="63.2" r="4.1" fill="url(#gb1)"/>
<path d="M258.7,216.4L264.1,209.8" stroke="#418dd5" stroke-width="2.8"/><path d="M264.1,209.8L269.6,203.2" stroke="#ea9d46" stroke-width="2.8"/>
<circle cx="269.6" cy="203.2" r="6.1" fill="url(#go1)"/>
<path d="M302.4,222.9L311.1,214.2" stroke="#418dd5" stroke-width="3.0"/><path d="M311.1,214.2L319.8,205.5" stroke="#ea9d46" stroke-width="3.0"/>
<path d="M354.3,229.5L337.0,217.5" stroke="#418dd5" stroke-width="3.1"/><path d="M337.0,217.5L319.8,205.5" stroke="#ea9d46" stroke-width="3.1"/>
<circle cx="319.8" cy="205.5" r="6.7" fill="url(#go1)"/>
<path d="M304.6,58.8L287.7,68.1" stroke="#418dd5" stroke-width="2.9"/><path d="M287.7,68.1L270.7,77.4" stroke="#ea9d46" stroke-width="2.9"/>
<path d="M354.3,52.1L364.2,39.0" stroke="#418dd5" stroke-width="3.0"/><path d="M364.2,39.0L374.1,25.9" stroke="#ea9d46" stroke-width="3.0"/>
<circle cx="270.7" cy="77.4" r="6.1" fill="url(#go1)"/>
<circle cx="374.1" cy="25.9" r="6.3" fill="url(#go1)"/>
<path d="M258.6,63.1L243.3,53.8" stroke="#418dd5" stroke-width="2.7"/><path d="M243.3,53.8L228.0,44.5" stroke="#ea9d46" stroke-width="2.7"/>
<path d="M258.6,63.1L243.3,73.0" stroke="#418dd5" stroke-width="2.7"/><path d="M243.3,73.0L228.0,82.8" stroke="#ea9d46" stroke-width="2.7"/>
<circle cx="228.0" cy="44.5" r="5.6" fill="url(#go1)"/>
<circle cx="228.0" cy="82.8" r="5.6" fill="url(#go1)"/>
<path d="M445.3,139.7L440.3,129.9" stroke="#418dd5" stroke-width="2.6"/><path d="M440.3,129.9L435.3,120.1" stroke="#ea9d46" stroke-width="2.6"/>
<path d="M445.3,139.7L440.3,149.8" stroke="#418dd5" stroke-width="2.6"/><path d="M440.3,149.8L435.3,159.8" stroke="#ea9d46" stroke-width="2.6"/>
<circle cx="445.3" cy="139.7" r="3.7" fill="url(#gb1)"/>
<path d="M444.3,63.1L433.3,48.8" stroke="#418dd5" stroke-width="2.6"/><path d="M433.3,48.8L422.3,34.6" stroke="#ea9d46" stroke-width="2.6"/>
<path d="M444.3,63.1L433.3,70.7" stroke="#418dd5" stroke-width="2.6"/><path d="M433.3,70.7L422.3,78.4" stroke="#ea9d46" stroke-width="2.6"/>
<circle cx="444.3" cy="63.1" r="3.8" fill="url(#gb1)"/>
<circle cx="284.8" cy="118.9" r="6.3" fill="url(#go1)"/>
<circle cx="284.8" cy="161.6" r="6.3" fill="url(#go1)"/>
<path d="M304.5,58.5L311.7,43.7" stroke="#418dd5" stroke-width="3.0"/><path d="M311.7,43.7L318.9,28.8" stroke="#ea9d46" stroke-width="3.0"/>
<circle cx="304.5" cy="58.5" r="4.4" fill="url(#gb1)"/>
<path d="M443.5,217.9L452.8,208.5" stroke="#418dd5" stroke-width="2.5"/><path d="M452.8,208.5L462.1,199.1" stroke="#ea9d46" stroke-width="2.5"/>
<path d="M443.5,217.9L431.9,232.6" stroke="#418dd5" stroke-width="2.6"/><path d="M431.9,232.6L420.4,247.4" stroke="#ea9d46" stroke-width="2.6"/>
<path d="M443.5,217.9L452.8,228.2" stroke="#418dd5" stroke-width="2.5"/><path d="M452.8,228.2L462.1,238.6" stroke="#ea9d46" stroke-width="2.5"/>
<circle cx="443.5" cy="217.9" r="3.8" fill="url(#gb1)"/>
<path d="M404.0,139.7L419.9,129.9" stroke="#418dd5" stroke-width="2.7"/><path d="M419.9,129.9L435.7,120.0" stroke="#ea9d46" stroke-width="2.7"/>
<path d="M404.0,139.7L419.9,149.8" stroke="#418dd5" stroke-width="2.7"/><path d="M419.9,149.8L435.7,159.9" stroke="#ea9d46" stroke-width="2.7"/>
<circle cx="435.7" cy="120.0" r="5.6" fill="url(#go1)"/>
<circle cx="435.7" cy="159.9" r="5.6" fill="url(#go1)"/>
<path d="M354.4,230.1L364.4,220.6" stroke="#418dd5" stroke-width="3.0"/><path d="M364.4,220.6L374.3,211.1" stroke="#ea9d46" stroke-width="3.0"/>
<path d="M404.1,223.5L389.2,217.3" stroke="#418dd5" stroke-width="2.8"/><path d="M389.2,217.3L374.3,211.1" stroke="#ea9d46" stroke-width="2.8"/>
<circle cx="374.3" cy="211.1" r="6.3" fill="url(#go1)"/>
<path d="M354.4,230.1L337.1,241.0" stroke="#418dd5" stroke-width="3.1"/><path d="M337.1,241.0L319.7,251.9" stroke="#ea9d46" stroke-width="3.1"/>
<path d="M354.4,230.1L364.4,242.8" stroke="#418dd5" stroke-width="3.0"/><path d="M364.4,242.8L374.4,255.4" stroke="#ea9d46" stroke-width="3.0"/>
<path d="M304.5,58.2L312.1,64.8" stroke="#418dd5" stroke-width="3.0"/><path d="M312.1,64.8L319.7,71.5" stroke="#ea9d46" stroke-width="3.0"/>
<path d="M354.4,51.5L337.1,61.5" stroke="#418dd5" stroke-width="3.1"/><path d="M337.1,61.5L319.7,71.5" stroke="#ea9d46" stroke-width="3.1"/>
<circle cx="354.4" cy="230.1" r="4.5" fill="url(#gb1)"/>
<circle cx="319.7" cy="71.5" r="6.7" fill="url(#go1)"/>
<path d="M218.4,210.3L222.2,204.2" stroke="#418dd5" stroke-width="2.6"/><path d="M222.2,204.2L226.0,198.1" stroke="#ea9d46" stroke-width="2.6"/>
<circle cx="392.0" cy="118.8" r="6.1" fill="url(#go1)"/>
<circle cx="392.0" cy="161.7" r="6.1" fill="url(#go1)"/>
<circle cx="226.0" cy="198.1" r="5.7" fill="url(#go1)"/>
<circle cx="420.7" cy="247.8" r="5.8" fill="url(#go1)"/>
<circle cx="269.1" cy="243.3" r="6.1" fill="url(#go1)"/>
<path d="M258.0,139.7L271.3,129.3" stroke="#418dd5" stroke-width="2.8"/><path d="M271.3,129.3L284.5,118.8" stroke="#ea9d46" stroke-width="2.8"/>
<path d="M258.0,139.7L271.3,150.7" stroke="#418dd5" stroke-width="2.8"/><path d="M271.3,150.7L284.5,161.7" stroke="#ea9d46" stroke-width="2.8"/>
<circle cx="258.0" cy="139.7" r="4.1" fill="url(#gb1)"/>
<circle cx="318.8" cy="28.3" r="6.7" fill="url(#go1)"/>
<path d="M404.2,139.7L398.2,129.3" stroke="#418dd5" stroke-width="2.8"/><path d="M398.2,129.3L392.1,118.8" stroke="#ea9d46" stroke-width="2.8"/>
<path d="M404.2,139.7L398.2,150.7" stroke="#418dd5" stroke-width="2.8"/><path d="M398.2,150.7L392.1,161.7" stroke="#ea9d46" stroke-width="2.8"/>
<circle cx="404.2" cy="139.7" r="4.1" fill="url(#gb1)"/>
<path d="M258.0,217.1L241.9,207.7" stroke="#418dd5" stroke-width="2.7"/><path d="M241.9,207.7L225.8,198.2" stroke="#ea9d46" stroke-width="2.7"/>
<path d="M258.0,217.1L241.9,227.0" stroke="#418dd5" stroke-width="2.7"/><path d="M241.9,227.0L225.8,236.9" stroke="#ea9d46" stroke-width="2.7"/>
<path d="M258.0,217.1L263.5,230.2" stroke="#418dd5" stroke-width="2.8"/><path d="M263.5,230.2L269.0,243.4" stroke="#ea9d46" stroke-width="2.8"/>
<circle cx="258.0" cy="217.1" r="4.1" fill="url(#gb1)"/>
<path d="M219.3,139.7L210.3,149.0" stroke="#418dd5" stroke-width="2.5"/><path d="M210.3,149.0L201.4,158.3" stroke="#ea9d46" stroke-width="2.5"/>
<circle cx="201.4" cy="158.3" r="5.4" fill="url(#go1)"/>
<path d="M354.5,51.2L336.7,39.7" stroke="#2a7fd0" stroke-width="3.1"/><path d="M336.7,39.7L318.8,28.1" stroke="#e8912f" stroke-width="3.1"/>
<path d="M354.5,51.2L364.9,61.8" stroke="#2a7fd0" stroke-width="3.0"/><path d="M364.9,61.8L375.4,72.3" stroke="#e8912f" stroke-width="3.0"/>
<circle cx="354.5" cy="51.2" r="4.5" fill="url(#gb0)"/>
<circle cx="375.4" cy="72.3" r="6.3" fill="url(#go0)"/>
<circle cx="225.7" cy="237.0" r="5.7" fill="url(#go0)"/>
<path d="M304.3,57.8L286.6,46.8" stroke="#2a7fd0" stroke-width="2.9"/><path d="M286.6,46.8L268.9,35.7" stroke="#e8912f" stroke-width="2.9"/>
<circle cx="268.9" cy="35.7" r="6.1" fill="url(#go0)"/>
<circle cx="374.6" cy="255.9" r="6.4" fill="url(#go0)"/>
<path d="M403.4,57.7L389.0,41.1" stroke="#2a7fd0" stroke-width="2.8"/><path d="M389.0,41.1L374.6,24.5" stroke="#e8912f" stroke-width="2.8"/>
<path d="M403.4,57.7L389.4,64.9" stroke="#2a7fd0" stroke-width="2.8"/><path d="M389.4,64.9L375.5,72.1" stroke="#e8912f" stroke-width="2.8"/>
<circle cx="403.4" cy="57.7" r="4.1" fill="url(#gb0)"/>
<path d="M219.0,139.7L209.5,130.3" stroke="#2a7fd0" stroke-width="2.5"/><path d="M209.5,130.3L200.1,120.8" stroke="#e8912f" stroke-width="2.5"/>
<circle cx="200.1" cy="120.8" r="5.4" fill="url(#go0)"/>
<path d="M404.7,224.2L413.0,214.8" stroke="#2a7fd0" stroke-width="2.7"/><path d="M413.0,214.8L421.3,205.3" stroke="#e8912f" stroke-width="2.7"/>
<path d="M444.7,218.7L433.0,212.0" stroke="#2a7fd0" stroke-width="2.6"/><path d="M433.0,212.0L421.3,205.3" stroke="#e8912f" stroke-width="2.6"/>
<circle cx="421.3" cy="205.3" r="5.8" fill="url(#go0)"/>
<path d="M404.8,224.3L389.8,240.3" stroke="#2a7fd0" stroke-width="2.8"/><path d="M389.8,240.3L374.7,256.4" stroke="#e8912f" stroke-width="2.8"/>
<path d="M404.8,224.3L413.1,236.5" stroke="#2a7fd0" stroke-width="2.7"/><path d="M413.1,236.5L421.4,248.7" stroke="#e8912f" stroke-width="2.7"/>
<circle cx="404.8" cy="224.3" r="4.1" fill="url(#gb0)"/>
<path d="M216.3,66.8L202.2,57.2" stroke="#2a7fd0" stroke-width="2.5"/><path d="M202.2,57.2L188.2,47.7" stroke="#e8912f" stroke-width="2.5"/>
<path d="M216.3,66.8L202.2,75.7" stroke="#2a7fd0" stroke-width="2.5"/><path d="M202.2,75.7L188.2,84.7" stroke="#e8912f" stroke-width="2.5"/>
<circle cx="188.2" cy="47.7" r="5.3" fill="url(#go0)"/>
<circle cx="188.2" cy="84.7" r="5.3" fill="url(#go0)"/>
<path d="M180.7,208.6L183.4,201.9" stroke="#2a7fd0" stroke-width="2.4"/><path d="M183.4,201.9L186.1,195.1" stroke="#e8912f" stroke-width="2.4"/>
<path d="M180.7,208.6L183.4,220.5" stroke="#2a7fd0" stroke-width="2.4"/><path d="M183.4,220.5L186.1,232.5" stroke="#e8912f" stroke-width="2.4"/>
<circle cx="186.1" cy="195.1" r="5.3" fill="url(#go0)"/>
<circle cx="186.1" cy="232.5" r="5.3" fill="url(#go0)"/>
<path d="M216.7,139.7L227.4,129.6" stroke="#2a7fd0" stroke-width="2.6"/><path d="M227.4,129.6L238.1,119.4" stroke="#e8912f" stroke-width="2.6"/>
<path d="M216.7,139.7L227.4,149.9" stroke="#2a7fd0" stroke-width="2.6"/><path d="M227.4,149.9L238.1,160.1" stroke="#e8912f" stroke-width="2.6"/>
<circle cx="216.7" cy="139.7" r="3.8" fill="url(#gb0)"/>
<path d="M448.0,60.5L457.0,49.8" stroke="#2a7fd0" stroke-width="2.5"/><path d="M457.0,49.8L466.1,39.0" stroke="#e8912f" stroke-width="2.5"/>
<path d="M448.0,60.5L457.0,70.1" stroke="#2a7fd0" stroke-width="2.5"/><path d="M457.0,70.1L466.1,79.8" stroke="#e8912f" stroke-width="2.5"/>
<path d="M484.3,214.5L475.2,207.7" stroke="#2a7fd0" stroke-width="2.4"/><path d="M475.2,207.7L466.1,200.9" stroke="#e8912f" stroke-width="2.4"/>
<path d="M484.3,214.5L475.2,228.0" stroke="#2a7fd0" stroke-width="2.4"/><path d="M475.2,228.0L466.1,241.6" stroke="#e8912f" stroke-width="2.4"/>
<circle cx="466.1" cy="39.0" r="5.4" fill="url(#go0)"/>
<circle cx="466.1" cy="79.8" r="5.4" fill="url(#go0)"/>
<circle cx="466.1" cy="200.9" r="5.4" fill="url(#go0)"/>
<circle cx="466.1" cy="241.6" r="5.4" fill="url(#go0)"/>
<path d="M405.2,55.7L415.5,43.2" stroke="#2a7fd0" stroke-width="2.8"/><path d="M415.5,43.2L425.7,30.7" stroke="#e8912f" stroke-width="2.8"/>
<path d="M405.2,55.7L415.5,65.9" stroke="#2a7fd0" stroke-width="2.8"/><path d="M415.5,65.9L425.7,76.2" stroke="#e8912f" stroke-width="2.8"/>
<circle cx="425.7" cy="30.7" r="5.9" fill="url(#go0)"/>
<circle cx="425.7" cy="76.2" r="5.9" fill="url(#go0)"/>
<circle cx="319.4" cy="255.4" r="6.8" fill="url(#go0)"/>
<path d="M215.0,65.9L219.5,53.4" stroke="#2a7fd0" stroke-width="2.6"/><path d="M219.5,53.4L224.1,40.9" stroke="#e8912f" stroke-width="2.6"/>
<path d="M215.0,65.9L219.5,73.3" stroke="#2a7fd0" stroke-width="2.6"/><path d="M219.5,73.3L224.1,80.7" stroke="#e8912f" stroke-width="2.6"/>
<circle cx="215.0" cy="65.9" r="3.8" fill="url(#gb0)"/>
<path d="M301.3,226.2L284.2,216.0" stroke="#2a7fd0" stroke-width="2.9"/><path d="M284.2,216.0L267.2,205.7" stroke="#e8912f" stroke-width="2.9"/>
<path d="M301.3,226.2L284.2,236.4" stroke="#2a7fd0" stroke-width="2.9"/><path d="M284.2,236.4L267.2,246.5" stroke="#e8912f" stroke-width="2.9"/>
<path d="M301.3,226.2L310.3,240.9" stroke="#2a7fd0" stroke-width="3.1"/><path d="M310.3,240.9L319.4,255.5" stroke="#e8912f" stroke-width="3.1"/>
<path d="M214.9,212.5L200.0,204.0" stroke="#2a7fd0" stroke-width="2.5"/><path d="M200.0,204.0L185.1,195.5" stroke="#e8912f" stroke-width="2.5"/>
<path d="M214.9,212.5L200.0,222.8" stroke="#2a7fd0" stroke-width="2.5"/><path d="M200.0,222.8L185.1,233.1" stroke="#e8912f" stroke-width="2.5"/>
<path d="M214.9,212.5L218.8,226.2" stroke="#2a7fd0" stroke-width="2.6"/><path d="M218.8,226.2L222.7,239.8" stroke="#e8912f" stroke-width="2.6"/>
<circle cx="301.3" cy="226.2" r="4.5" fill="url(#gb0)"/>
<path d="M255.8,139.7L246.7,129.5" stroke="#2a7fd0" stroke-width="2.8"/><path d="M246.7,129.5L237.6,119.3" stroke="#e8912f" stroke-width="2.8"/>
<path d="M255.8,139.7L246.7,150.0" stroke="#2a7fd0" stroke-width="2.8"/><path d="M246.7,150.0L237.6,160.2" stroke="#e8912f" stroke-width="2.8"/>
<circle cx="214.9" cy="212.5" r="3.8" fill="url(#gb0)"/>
<circle cx="237.6" cy="119.3" r="5.9" fill="url(#go0)"/>
<circle cx="237.6" cy="160.2" r="5.9" fill="url(#go0)"/>
<path d="M255.8,60.1L261.5,46.5" stroke="#2a7fd0" stroke-width="2.8"/><path d="M261.5,46.5L267.1,32.8" stroke="#e8912f" stroke-width="2.8"/>
<path d="M255.8,60.1L262.0,67.5" stroke="#2a7fd0" stroke-width="2.8"/><path d="M262.0,67.5L268.3,74.9" stroke="#e8912f" stroke-width="2.8"/>
<circle cx="255.8" cy="60.1" r="4.2" fill="url(#gb0)"/>
<path d="M255.8,219.5L261.4,212.6" stroke="#2a7fd0" stroke-width="2.8"/><path d="M261.4,212.6L267.1,205.7" stroke="#e8912f" stroke-width="2.8"/>
<circle cx="267.1" cy="205.7" r="6.2" fill="url(#go0)"/>
<path d="M301.3,226.3L310.3,217.2" stroke="#2a7fd0" stroke-width="3.1"/><path d="M310.3,217.2L319.4,208.1" stroke="#e8912f" stroke-width="3.1"/>
<path d="M355.2,233.1L337.3,220.6" stroke="#2a7fd0" stroke-width="3.2"/><path d="M337.3,220.6L319.4,208.1" stroke="#e8912f" stroke-width="3.2"/>
<circle cx="319.4" cy="208.1" r="6.8" fill="url(#go0)"/>
<path d="M303.6,55.5L285.9,65.2" stroke="#2a7fd0" stroke-width="3.0"/><path d="M285.9,65.2L268.3,74.9" stroke="#e8912f" stroke-width="3.0"/>
<path d="M355.2,48.6L365.5,35.0" stroke="#2a7fd0" stroke-width="3.0"/><path d="M365.5,35.0L375.8,21.3" stroke="#e8912f" stroke-width="3.0"/>
<circle cx="268.3" cy="74.9" r="6.3" fill="url(#go0)"/>
<circle cx="375.8" cy="21.3" r="6.5" fill="url(#go0)"/>
<path d="M255.7,60.0L239.8,50.3" stroke="#2a7fd0" stroke-width="2.7"/><path d="M239.8,50.3L223.9,40.7" stroke="#e8912f" stroke-width="2.7"/>
<path d="M255.7,60.0L239.8,70.3" stroke="#2a7fd0" stroke-width="2.7"/><path d="M239.8,70.3L223.9,80.6" stroke="#e8912f" stroke-width="2.7"/>
<circle cx="223.9" cy="40.7" r="5.8" fill="url(#go0)"/>
<circle cx="223.9" cy="80.6" r="5.8" fill="url(#go0)"/>
<path d="M449.8,139.7L444.7,129.5" stroke="#2a7fd0" stroke-width="2.6"/><path d="M444.7,129.5L439.5,119.3" stroke="#e8912f" stroke-width="2.6"/>
<path d="M449.8,139.7L444.7,150.2" stroke="#2a7fd0" stroke-width="2.6"/><path d="M444.7,150.2L439.5,160.6" stroke="#e8912f" stroke-width="2.6"/>
<circle cx="449.8" cy="139.7" r="3.8" fill="url(#gb0)"/>
<path d="M448.8,60.0L437.4,45.2" stroke="#2a7fd0" stroke-width="2.6"/><path d="M437.4,45.2L426.0,30.4" stroke="#e8912f" stroke-width="2.6"/>
<path d="M448.8,60.0L437.4,68.0" stroke="#2a7fd0" stroke-width="2.6"/><path d="M437.4,68.0L426.0,76.0" stroke="#e8912f" stroke-width="2.6"/>
<circle cx="448.8" cy="60.0" r="3.8" fill="url(#gb0)"/>
<circle cx="283.0" cy="118.1" r="6.4" fill="url(#go0)"/>
<circle cx="283.0" cy="162.5" r="6.4" fill="url(#go0)"/>
<path d="M303.5,55.3L311.0,39.9" stroke="#2a7fd0" stroke-width="3.1"/><path d="M311.0,39.9L318.4,24.5" stroke="#e8912f" stroke-width="3.1"/>
<circle cx="303.5" cy="55.3" r="4.5" fill="url(#gb0)"/>
<path d="M447.8,220.9L457.6,211.1" stroke="#2a7fd0" stroke-width="2.5"/><path d="M457.6,211.1L467.3,201.4" stroke="#e8912f" stroke-width="2.5"/>
<path d="M447.8,220.9L435.8,236.3" stroke="#2a7fd0" stroke-width="2.7"/><path d="M435.8,236.3L423.8,251.6" stroke="#e8912f" stroke-width="2.7"/>
<path d="M447.8,220.9L457.6,231.7" stroke="#2a7fd0" stroke-width="2.5"/><path d="M457.6,231.7L467.3,242.5" stroke="#e8912f" stroke-width="2.5"/>
<circle cx="447.8" cy="220.9" r="3.9" fill="url(#gb0)"/>
<path d="M406.8,139.7L423.3,129.5" stroke="#2a7fd0" stroke-width="2.7"/><path d="M423.3,129.5L439.8,119.2" stroke="#e8912f" stroke-width="2.7"/>
<path d="M406.8,139.7L423.3,150.2" stroke="#2a7fd0" stroke-width="2.7"/><path d="M423.3,150.2L439.8,160.7" stroke="#e8912f" stroke-width="2.7"/>
<circle cx="439.8" cy="119.2" r="5.8" fill="url(#go0)"/>
<circle cx="439.8" cy="160.7" r="5.8" fill="url(#go0)"/>
<path d="M355.3,233.5L365.7,223.7" stroke="#2a7fd0" stroke-width="3.0"/><path d="M365.7,223.7L376.0,213.8" stroke="#e8912f" stroke-width="3.0"/>
<path d="M406.9,226.7L391.4,220.2" stroke="#2a7fd0" stroke-width="2.9"/><path d="M391.4,220.2L376.0,213.8" stroke="#e8912f" stroke-width="2.9"/>
<circle cx="376.0" cy="213.8" r="6.5" fill="url(#go0)"/>
<path d="M355.3,233.6L337.3,244.9" stroke="#2a7fd0" stroke-width="3.2"/><path d="M337.3,244.9L319.3,256.2" stroke="#e8912f" stroke-width="3.2"/>
<path d="M355.3,233.6L365.7,246.7" stroke="#2a7fd0" stroke-width="3.0"/><path d="M365.7,246.7L376.0,259.8" stroke="#e8912f" stroke-width="3.0"/>
<path d="M303.4,55.1L311.4,62.0" stroke="#2a7fd0" stroke-width="3.1"/><path d="M311.4,62.0L319.3,68.8" stroke="#e8912f" stroke-width="3.1"/>
<path d="M355.3,48.1L337.3,58.5" stroke="#2a7fd0" stroke-width="3.2"/><path d="M337.3,58.5L319.3,68.8" stroke="#e8912f" stroke-width="3.2"/>
<circle cx="355.3" cy="233.6" r="4.6" fill="url(#gb0)"/>
<circle cx="319.3" cy="68.8" r="6.8" fill="url(#go0)"/>
<path d="M214.2,213.0L218.1,206.7" stroke="#2a7fd0" stroke-width="2.6"/><path d="M218.1,206.7L222.0,200.4" stroke="#e8912f" stroke-width="2.6"/>
<circle cx="394.3" cy="118.0" r="6.3" fill="url(#go0)"/>
<circle cx="394.3" cy="162.5" r="6.3" fill="url(#go0)"/>
<circle cx="222.0" cy="200.4" r="5.8" fill="url(#go0)"/>
<circle cx="424.1" cy="251.9" r="5.9" fill="url(#go0)"/>
<circle cx="266.7" cy="247.2" r="6.3" fill="url(#go0)"/>
<path d="M255.3,139.7L269.0,128.9" stroke="#2a7fd0" stroke-width="2.9"/><path d="M269.0,128.9L282.8,118.0" stroke="#e8912f" stroke-width="2.9"/>
<path d="M255.3,139.7L269.0,151.1" stroke="#2a7fd0" stroke-width="2.9"/><path d="M269.0,151.1L282.8,162.5" stroke="#e8912f" stroke-width="2.9"/>
<circle cx="255.3" cy="139.7" r="4.2" fill="url(#gb0)"/>
<circle cx="318.4" cy="24.1" r="6.8" fill="url(#go0)"/>
<path d="M407.0,139.7L400.7,128.9" stroke="#2a7fd0" stroke-width="2.8"/><path d="M400.7,128.9L394.4,118.0" stroke="#e8912f" stroke-width="2.8"/>
<path d="M407.0,139.7L400.7,151.1" stroke="#2a7fd0" stroke-width="2.8"/><path d="M400.7,151.1L394.4,162.5" stroke="#e8912f" stroke-width="2.8"/>
<circle cx="407.0" cy="139.7" r="4.2" fill="url(#gb0)"/>
<path d="M255.3,220.0L238.6,210.2" stroke="#2a7fd0" stroke-width="2.7"/><path d="M238.6,210.2L221.9,200.4" stroke="#e8912f" stroke-width="2.7"/>
<path d="M255.3,220.0L238.6,230.3" stroke="#2a7fd0" stroke-width="2.7"/><path d="M238.6,230.3L221.9,240.5" stroke="#e8912f" stroke-width="2.7"/>
<path d="M255.3,220.0L261.0,233.6" stroke="#2a7fd0" stroke-width="2.8"/><path d="M261.0,233.6L266.7,247.3" stroke="#e8912f" stroke-width="2.8"/>
<circle cx="255.3" cy="220.0" r="4.2" fill="url(#gb0)"/>
<path d="M215.1,139.7L205.8,149.3" stroke="#2a7fd0" stroke-width="2.6"/><path d="M205.8,149.3L196.5,159.0" stroke="#e8912f" stroke-width="2.6"/>
<circle cx="196.5" cy="159.0" r="5.5" fill="url(#go0)"/>
<path d="M355.4,47.9L336.9,35.9" stroke="#2a7fd0" stroke-width="3.2"/><path d="M336.9,35.9L318.4,23.9" stroke="#e8912f" stroke-width="3.2"/>
<path d="M355.4,47.9L366.2,58.8" stroke="#2a7fd0" stroke-width="3.0"/><path d="M366.2,58.8L377.0,69.8" stroke="#e8912f" stroke-width="3.0"/>
<circle cx="355.4" cy="47.9" r="4.6" fill="url(#gb0)"/>
<circle cx="377.0" cy="69.8" r="6.5" fill="url(#go0)"/>
<circle cx="221.8" cy="240.7" r="5.8" fill="url(#go0)"/>
<path d="M303.4,54.8L285.0,43.3" stroke="#2a7fd0" stroke-width="3.0"/><path d="M285.0,43.3L266.6,31.9" stroke="#e8912f" stroke-width="3.0"/>
<circle cx="266.6" cy="31.9" r="6.3" fill="url(#go0)"/>
<circle cx="376.2" cy="260.2" r="6.5" fill="url(#go0)"/>
<path d="M406.1,54.7L391.1,37.5" stroke="#2a7fd0" stroke-width="2.9"/><path d="M391.1,37.5L376.2,20.3" stroke="#e8912f" stroke-width="2.9"/>
<path d="M406.1,54.7L391.6,62.2" stroke="#2a7fd0" stroke-width="2.9"/><path d="M391.6,62.2L377.1,69.6" stroke="#e8912f" stroke-width="2.9"/>
<circle cx="406.1" cy="54.7" r="4.2" fill="url(#gb0)"/>
<path d="M214.9,139.7L205.1,129.9" stroke="#2a7fd0" stroke-width="2.6"/><path d="M205.1,129.9L195.3,120.1" stroke="#e8912f" stroke-width="2.6"/>
<circle cx="195.3" cy="120.1" r="5.5" fill="url(#go0)"/>
<path d="M407.4,227.2L416.0,217.5" stroke="#2a7fd0" stroke-width="2.8"/><path d="M416.0,217.5L424.6,207.7" stroke="#e8912f" stroke-width="2.8"/>
<path d="M448.8,221.5L436.7,214.6" stroke="#2a7fd0" stroke-width="2.7"/><path d="M436.7,214.6L424.6,207.7" stroke="#e8912f" stroke-width="2.7"/>
<circle cx="424.6" cy="207.7" r="6.0" fill="url(#go0)"/>
<path d="M407.4,227.3L391.9,243.9" stroke="#2a7fd0" stroke-width="2.9"/><path d="M391.9,243.9L376.3,260.5" stroke="#e8912f" stroke-width="2.9"/>
<path d="M407.4,227.3L416.0,239.9" stroke="#2a7fd0" stroke-width="2.8"/><path d="M416.0,239.9L424.6,252.6" stroke="#e8912f" stroke-width="2.8"/>
<circle cx="407.4" cy="227.3" r="4.2" fill="url(#gb0)"/>
<path d="M177.7,68.3L181.1,56.8" stroke="#2a7fd0" stroke-width="2.4"/><path d="M181.1,56.8L184.5,45.3" stroke="#e8912f" stroke-width="2.4"/>
<path d="M177.7,68.3L181.1,75.8" stroke="#2a7fd0" stroke-width="2.4"/><path d="M181.1,75.8L184.5,83.3" stroke="#e8912f" stroke-width="2.4"/>
<circle cx="177.7" cy="68.3" r="3.6" fill="url(#gb0)"/>
<circle cx="177.6" cy="210.0" r="3.6" fill="url(#gb0)"/>
<path d="M452.3,139.7L468.0,129.8" stroke="#2a7fd0" stroke-width="2.5"/><path d="M468.0,129.8L483.7,119.9" stroke="#e8912f" stroke-width="2.5"/>
<path d="M452.3,139.7L468.0,149.9" stroke="#2a7fd0" stroke-width="2.5"/><path d="M468.0,149.9L483.7,160.1" stroke="#e8912f" stroke-width="2.5"/>
<circle cx="483.7" cy="119.9" r="5.4" fill="url(#go0)"/>
<circle cx="483.7" cy="160.1" r="5.4" fill="url(#go0)"/>
<path d="M488.6,64.2L479.2,50.2" stroke="#2a7fd0" stroke-width="2.5"/><path d="M479.2,50.2L469.9,36.2" stroke="#e8912f" stroke-width="2.5"/>
<path d="M488.6,64.2L479.2,71.1" stroke="#2a7fd0" stroke-width="2.5"/><path d="M479.2,71.1L469.9,78.1" stroke="#e8912f" stroke-width="2.5"/>
<path d="M488.6,216.6L497.8,207.3" stroke="#2a7fd0" stroke-width="2.4"/><path d="M497.8,207.3L507.1,198.0" stroke="#e8912f" stroke-width="2.4"/>
<path d="M488.6,216.6L497.8,227.0" stroke="#2a7fd0" stroke-width="2.4"/><path d="M497.8,227.0L507.1,237.5" stroke="#e8912f" stroke-width="2.4"/>
<circle cx="488.6" cy="64.2" r="3.6" fill="url(#gb0)"/>
<circle cx="488.6" cy="216.6" r="3.6" fill="url(#gb0)"/>
<path d="M175.4,139.7L184.1,129.7" stroke="#2a7fd0" stroke-width="2.5"/><path d="M184.1,129.7L192.9,119.7" stroke="#e8912f" stroke-width="2.5"/>
<path d="M175.4,139.7L184.6,149.5" stroke="#2a7fd0" stroke-width="2.5"/><path d="M184.6,149.5L193.8,159.3" stroke="#e8912f" stroke-width="2.5"/>
<circle cx="175.4" cy="139.7" r="3.6" fill="url(#gb0)"/>
<path d="M211.3,63.6L196.6,53.6" stroke="#2a7fd0" stroke-width="2.6"/><path d="M196.6,53.6L181.9,43.6" stroke="#e8912f" stroke-width="2.6"/>
<path d="M211.3,63.6L196.6,72.9" stroke="#2a7fd0" stroke-width="2.6"/><path d="M196.6,72.9L181.9,82.3" stroke="#e8912f" stroke-width="2.6"/>
<circle cx="181.9" cy="43.6" r="5.4" fill="url(#go0)"/>
<circle cx="181.9" cy="82.3" r="5.4" fill="url(#go0)"/>
<path d="M174.4,211.5L177.2,204.4" stroke="#2a7fd0" stroke-width="2.5"/><path d="M177.2,204.4L180.1,197.4" stroke="#e8912f" stroke-width="2.5"/>
<path d="M174.4,211.5L177.2,223.9" stroke="#2a7fd0" stroke-width="2.5"/><path d="M177.2,223.9L180.1,236.3" stroke="#e8912f" stroke-width="2.5"/>
<circle cx="180.1" cy="197.4" r="5.4" fill="url(#go0)"/>
<circle cx="180.1" cy="236.3" r="5.4" fill="url(#go0)"/>
<path d="M212.0,139.7L223.1,129.2" stroke="#2a7fd0" stroke-width="2.7"/><path d="M223.1,129.2L234.3,118.6" stroke="#e8912f" stroke-width="2.7"/>
<path d="M212.0,139.7L223.1,150.3" stroke="#2a7fd0" stroke-width="2.7"/><path d="M223.1,150.3L234.3,160.9" stroke="#e8912f" stroke-width="2.7"/>
<circle cx="212.0" cy="139.7" r="3.9" fill="url(#gb0)"/>
<path d="M452.8,57.3L462.2,46.1" stroke="#2a7fd0" stroke-width="2.6"/><path d="M462.2,46.1L471.6,34.9" stroke="#e8912f" stroke-width="2.6"/>
<path d="M452.8,57.3L462.2,67.3" stroke="#2a7fd0" stroke-width="2.6"/><path d="M462.2,67.3L471.6,77.3" stroke="#e8912f" stroke-width="2.6"/>
<path d="M490.5,217.5L481.1,210.4" stroke="#2a7fd0" stroke-width="2.5"/><path d="M481.1,210.4L471.6,203.3" stroke="#e8912f" stroke-width="2.5"/>
<path d="M490.5,217.5L481.1,231.6" stroke="#2a7fd0" stroke-width="2.5"/><path d="M481.1,231.6L471.6,245.7" stroke="#e8912f" stroke-width="2.5"/>
<circle cx="471.6" cy="34.9" r="5.6" fill="url(#go0)"/>
<circle cx="471.6" cy="77.3" r="5.6" fill="url(#go0)"/>
<circle cx="471.6" cy="203.3" r="5.6" fill="url(#go0)"/>
<circle cx="471.6" cy="245.7" r="5.6" fill="url(#go0)"/>
<path d="M490.7,139.7L488.3,129.6" stroke="#2a7fd0" stroke-width="2.5"/><path d="M488.3,129.6L485.9,119.6" stroke="#e8912f" stroke-width="2.5"/>
<path d="M490.7,139.7L488.3,150.1" stroke="#2a7fd0" stroke-width="2.5"/><path d="M488.3,150.1L485.9,160.4" stroke="#e8912f" stroke-width="2.5"/>
<circle cx="490.7" cy="139.7" r="3.6" fill="url(#gb0)"/>
<path d="M408.1,52.4L418.8,39.4" stroke="#2a7fd0" stroke-width="2.8"/><path d="M418.8,39.4L429.4,26.4" stroke="#e8912f" stroke-width="2.8"/>
<path d="M408.1,52.4L418.8,63.0" stroke="#2a7fd0" stroke-width="2.8"/><path d="M418.8,63.0L429.4,73.6" stroke="#e8912f" stroke-width="2.8"/>
<circle cx="429.4" cy="26.4" r="6.0" fill="url(#go0)"/>
<circle cx="429.4" cy="73.6" r="6.0" fill="url(#go0)"/>
<circle cx="318.9" cy="259.9" r="7.0" fill="url(#go0)"/>
<path d="M210.4,63.0L215.2,50.0" stroke="#2a7fd0" stroke-width="2.7"/><path d="M215.2,50.0L219.9,37.0" stroke="#e8912f" stroke-width="2.7"/>
<path d="M210.4,63.0L215.2,70.7" stroke="#2a7fd0" stroke-width="2.7"/><path d="M215.2,70.7L219.9,78.4" stroke="#e8912f" stroke-width="2.7"/>
<circle cx="210.4" cy="63.0" r="3.9" fill="url(#gb0)"/>
<path d="M300.1,229.6L282.4,218.9" stroke="#2a7fd0" stroke-width="3.0"/><path d="M282.4,218.9L264.7,208.3" stroke="#e8912f" stroke-width="3.0"/>
<path d="M300.1,229.6L282.4,240.1" stroke="#2a7fd0" stroke-width="3.0"/><path d="M282.4,240.1L264.7,250.7" stroke="#e8912f" stroke-width="3.0"/>
<path d="M300.1,229.6L309.5,244.8" stroke="#2a7fd0" stroke-width="3.1"/><path d="M309.5,244.8L318.9,260.0" stroke="#e8912f" stroke-width="3.1"/>
<path d="M210.3,215.3L194.9,206.5" stroke="#2a7fd0" stroke-width="2.6"/><path d="M194.9,206.5L179.4,197.7" stroke="#e8912f" stroke-width="2.6"/>
<path d="M210.3,215.3L194.9,226.0" stroke="#2a7fd0" stroke-width="2.6"/><path d="M194.9,226.0L179.4,236.7" stroke="#e8912f" stroke-width="2.6"/>
<path d="M210.3,215.3L214.4,229.5" stroke="#2a7fd0" stroke-width="2.7"/><path d="M214.4,229.5L218.4,243.7" stroke="#e8912f" stroke-width="2.7"/>
<path d="M252.9,139.7L243.4,129.1" stroke="#2a7fd0" stroke-width="2.8"/><path d="M243.4,129.1L234.0,118.5" stroke="#e8912f" stroke-width="2.8"/>
<path d="M252.9,139.7L243.4,150.4" stroke="#2a7fd0" stroke-width="2.8"/><path d="M243.4,150.4L234.0,161.0" stroke="#e8912f" stroke-width="2.8"/>
<circle cx="300.1" cy="229.6" r="4.6" fill="url(#gb0)"/>
<circle cx="210.3" cy="215.3" r="3.9" fill="url(#gb0)"/>
<circle cx="234.0" cy="118.5" r="6.1" fill="url(#go0)"/>
<circle cx="234.0" cy="161.0" r="6.1" fill="url(#go0)"/>
<path d="M252.8,57.0L258.8,42.8" stroke="#2a7fd0" stroke-width="2.9"/><path d="M258.8,42.8L264.7,28.6" stroke="#e8912f" stroke-width="2.9"/>
<path d="M252.8,57.0L259.4,64.7" stroke="#2a7fd0" stroke-width="2.9"/><path d="M259.4,64.7L265.9,72.4" stroke="#e8912f" stroke-width="2.9"/>
<circle cx="252.8" cy="57.0" r="4.2" fill="url(#gb0)"/>
<path d="M252.8,222.5L258.7,215.4" stroke="#2a7fd0" stroke-width="2.9"/><path d="M258.7,215.4L264.7,208.3" stroke="#e8912f" stroke-width="2.9"/>
<circle cx="264.7" cy="208.3" r="6.4" fill="url(#go0)"/>
<path d="M300.1,229.6L309.5,220.2" stroke="#2a7fd0" stroke-width="3.1"/><path d="M309.5,220.2L318.9,210.7" stroke="#e8912f" stroke-width="3.1"/>
<path d="M356.1,236.7L337.5,223.7" stroke="#2a7fd0" stroke-width="3.2"/><path d="M337.5,223.7L318.9,210.7" stroke="#e8912f" stroke-width="3.2"/>
<circle cx="318.9" cy="210.7" r="7.0" fill="url(#go0)"/>
<path d="M302.5,52.2L284.2,62.3" stroke="#2a7fd0" stroke-width="3.0"/><path d="M284.2,62.3L265.8,72.3" stroke="#e8912f" stroke-width="3.0"/>
<path d="M356.1,45.1L366.8,30.9" stroke="#2a7fd0" stroke-width="3.1"/><path d="M366.8,30.9L377.5,16.8" stroke="#e8912f" stroke-width="3.1"/>
<circle cx="265.8" cy="72.3" r="6.4" fill="url(#go0)"/>
<circle cx="377.5" cy="16.8" r="6.6" fill="url(#go0)"/>
<path d="M252.8,57.0L236.3,46.9" stroke="#2a7fd0" stroke-width="2.8"/><path d="M236.3,46.9L219.7,36.8" stroke="#e8912f" stroke-width="2.8"/>
<path d="M252.8,57.0L236.3,67.6" stroke="#2a7fd0" stroke-width="2.8"/><path d="M236.3,67.6L219.7,78.3" stroke="#e8912f" stroke-width="2.8"/>
<circle cx="219.7" cy="36.8" r="5.9" fill="url(#go0)"/>
<circle cx="219.7" cy="78.3" r="5.9" fill="url(#go0)"/>
<path d="M454.4,139.7L449.0,129.1" stroke="#2a7fd0" stroke-width="2.7"/><path d="M449.0,129.1L443.7,118.5" stroke="#e8912f" stroke-width="2.7"/>
<path d="M454.4,139.7L449.0,150.6" stroke="#2a7fd0" stroke-width="2.7"/><path d="M449.0,150.6L443.7,161.4" stroke="#e8912f" stroke-width="2.7"/>
<circle cx="454.4" cy="139.7" r="3.9" fill="url(#gb0)"/>
<path d="M453.3,56.9L441.5,41.6" stroke="#2a7fd0" stroke-width="2.7"/><path d="M441.5,41.6L429.6,26.2" stroke="#e8912f" stroke-width="2.7"/>
<path d="M453.3,56.9L441.5,65.2" stroke="#2a7fd0" stroke-width="2.7"/><path d="M441.5,65.2L429.6,73.5" stroke="#e8912f" stroke-width="2.7"/>
<circle cx="453.3" cy="56.9" r="3.9" fill="url(#gb0)"/>
<circle cx="281.1" cy="117.3" r="6.6" fill="url(#go0)"/>
<circle cx="281.1" cy="163.3" r="6.6" fill="url(#go0)"/>
<path d="M302.5,52.1L310.2,36.1" stroke="#2a7fd0" stroke-width="3.1"/><path d="M310.2,36.1L317.9,20.1" stroke="#e8912f" stroke-width="3.1"/>
<circle cx="302.5" cy="52.1" r="4.6" fill="url(#gb0)"/>
<path d="M452.2,223.9L462.3,213.8" stroke="#2a7fd0" stroke-width="2.6"/><path d="M462.3,213.8L472.4,203.7" stroke="#e8912f" stroke-width="2.6"/>
<path d="M452.2,223.9L439.8,239.9" stroke="#2a7fd0" stroke-width="2.7"/><path d="M439.8,239.9L427.3,255.8" stroke="#e8912f" stroke-width="2.7"/>
<path d="M452.2,223.9L462.3,235.1" stroke="#2a7fd0" stroke-width="2.6"/><path d="M462.3,235.1L472.4,246.3" stroke="#e8912f" stroke-width="2.6"/>
<circle cx="452.2" cy="223.9" r="3.9" fill="url(#gb0)"/>
<path d="M409.6,139.7L426.8,129.1" stroke="#2a7fd0" stroke-width="2.8"/><path d="M426.8,129.1L443.9,118.5" stroke="#e8912f" stroke-width="2.8"/>
<path d="M409.6,139.7L426.8,150.6" stroke="#2a7fd0" stroke-width="2.8"/><path d="M426.8,150.6L443.9,161.5" stroke="#e8912f" stroke-width="2.8"/>
<circle cx="443.9" cy="118.5" r="5.9" fill="url(#go0)"/>
<circle cx="443.9" cy="161.5" r="5.9" fill="url(#go0)"/>
<path d="M356.2,237.0L366.9,226.8" stroke="#2a7fd0" stroke-width="3.1"/><path d="M366.9,226.8L377.7,216.5" stroke="#e8912f" stroke-width="3.1"/>
<path d="M409.7,229.9L393.7,223.2" stroke="#2a7fd0" stroke-width="2.9"/><path d="M393.7,223.2L377.7,216.5" stroke="#e8912f" stroke-width="2.9"/>
<circle cx="377.7" cy="216.5" r="6.6" fill="url(#go0)"/>
<path d="M356.2,237.0L337.5,248.7" stroke="#2a7fd0" stroke-width="3.2"/><path d="M337.5,248.7L318.9,260.5" stroke="#e8912f" stroke-width="3.2"/>
<path d="M356.2,237.0L366.9,250.6" stroke="#2a7fd0" stroke-width="3.1"/><path d="M366.9,250.6L377.7,264.2" stroke="#e8912f" stroke-width="3.1"/>
<path d="M302.4,51.9L310.6,59.1" stroke="#2a7fd0" stroke-width="3.1"/><path d="M310.6,59.1L318.9,66.2" stroke="#e8912f" stroke-width="3.1"/>
<path d="M356.2,44.8L337.5,55.5" stroke="#2a7fd0" stroke-width="3.2"/><path d="M337.5,55.5L318.9,66.2" stroke="#e8912f" stroke-width="3.2"/>
<circle cx="356.2" cy="237.0" r="4.7" fill="url(#gb0)"/>
<circle cx="318.9" cy="66.2" r="7.0" fill="url(#go0)"/>
<path d="M209.9,215.6L213.9,209.1" stroke="#2a7fd0" stroke-width="2.7"/><path d="M213.9,209.1L218.0,202.6" stroke="#e8912f" stroke-width="2.7"/>
<circle cx="396.6" cy="117.2" r="6.4" fill="url(#go0)"/>
<circle cx="396.6" cy="163.3" r="6.4" fill="url(#go0)"/>
<circle cx="218.0" cy="202.6" r="5.9" fill="url(#go0)"/>
<circle cx="427.5" cy="256.0" r="6.1" fill="url(#go0)"/>
<circle cx="264.4" cy="251.2" r="6.4" fill="url(#go0)"/>
<path d="M252.5,139.7L266.8,128.5" stroke="#2a7fd0" stroke-width="2.9"/><path d="M266.8,128.5L281.0,117.2" stroke="#e8912f" stroke-width="2.9"/>
<path d="M252.5,139.7L266.8,151.5" stroke="#2a7fd0" stroke-width="2.9"/><path d="M266.8,151.5L281.0,163.4" stroke="#e8912f" stroke-width="2.9"/>
<circle cx="252.5" cy="139.7" r="4.3" fill="url(#gb0)"/>
<path d="M409.8,139.7L403.2,128.5" stroke="#2a7fd0" stroke-width="2.9"/><path d="M403.2,128.5L396.7,117.2" stroke="#e8912f" stroke-width="2.9"/>
<path d="M409.8,139.7L403.2,151.5" stroke="#2a7fd0" stroke-width="2.9"/><path d="M403.2,151.5L396.7,163.4" stroke="#e8912f" stroke-width="2.9"/>
<circle cx="317.9" cy="19.8" r="7.0" fill="url(#go0)"/>
<path d="M252.5,222.9L235.2,212.8" stroke="#2a7fd0" stroke-width="2.8"/><path d="M235.2,212.8L217.9,202.6" stroke="#e8912f" stroke-width="2.8"/>
<path d="M252.5,222.9L235.2,233.5" stroke="#2a7fd0" stroke-width="2.8"/><path d="M235.2,233.5L217.9,244.2" stroke="#e8912f" stroke-width="2.8"/>
<path d="M252.5,222.9L258.4,237.0" stroke="#2a7fd0" stroke-width="2.9"/><path d="M258.4,237.0L264.4,251.2" stroke="#e8912f" stroke-width="2.9"/>
<circle cx="409.8" cy="139.7" r="4.3" fill="url(#gb0)"/>
<circle cx="252.5" cy="222.9" r="4.3" fill="url(#gb0)"/>
<path d="M210.9,139.7L201.3,149.7" stroke="#2a7fd0" stroke-width="2.6"/><path d="M201.3,149.7L191.7,159.6" stroke="#e8912f" stroke-width="2.6"/>
<circle cx="191.7" cy="159.6" r="5.6" fill="url(#go0)"/>
<path d="M356.2,44.6L337.1,32.2" stroke="#2a7fd0" stroke-width="3.2"/><path d="M337.1,32.2L317.9,19.7" stroke="#e8912f" stroke-width="3.2"/>
<path d="M356.2,44.6L367.5,55.9" stroke="#2a7fd0" stroke-width="3.1"/><path d="M367.5,55.9L378.7,67.2" stroke="#e8912f" stroke-width="3.1"/>
<circle cx="356.2" cy="44.6" r="4.7" fill="url(#gb0)"/>
<circle cx="378.7" cy="67.2" r="6.6" fill="url(#go0)"/>
<circle cx="217.8" cy="244.3" r="5.9" fill="url(#go0)"/>
<path d="M302.4,51.8L283.3,39.9" stroke="#2a7fd0" stroke-width="3.0"/><path d="M283.3,39.9L264.3,28.0" stroke="#e8912f" stroke-width="3.0"/>
<circle cx="264.3" cy="28.0" r="6.4" fill="url(#go0)"/>
<circle cx="377.8" cy="264.4" r="6.6" fill="url(#go0)"/>
<path d="M408.7,51.7L393.3,33.9" stroke="#2a7fd0" stroke-width="2.9"/><path d="M393.3,33.9L377.8,16.0" stroke="#e8912f" stroke-width="2.9"/>
<path d="M408.7,51.7L393.7,59.4" stroke="#2a7fd0" stroke-width="2.9"/><path d="M393.7,59.4L378.7,67.2" stroke="#e8912f" stroke-width="2.9"/>
<path d="M210.8,139.7L200.7,129.6" stroke="#2a7fd0" stroke-width="2.6"/><path d="M200.7,129.6L190.6,119.4" stroke="#e8912f" stroke-width="2.6"/>
<circle cx="408.7" cy="51.7" r="4.3" fill="url(#gb0)"/>
<circle cx="190.6" cy="119.4" r="5.6" fill="url(#go0)"/>
<path d="M410.0,230.3L418.9,220.1" stroke="#2a7fd0" stroke-width="2.8"/><path d="M418.9,220.1L427.8,210.0" stroke="#e8912f" stroke-width="2.8"/>
<path d="M452.8,224.4L440.3,217.2" stroke="#2a7fd0" stroke-width="2.7"/><path d="M440.3,217.2L427.8,210.0" stroke="#e8912f" stroke-width="2.7"/>
<circle cx="427.8" cy="210.0" r="6.1" fill="url(#go0)"/>
<path d="M410.0,230.3L394.0,247.5" stroke="#2a7fd0" stroke-width="2.9"/><path d="M394.0,247.5L377.9,264.7" stroke="#e8912f" stroke-width="2.9"/>
<path d="M410.0,230.3L418.9,243.4" stroke="#2a7fd0" stroke-width="2.8"/><path d="M418.9,243.4L427.8,256.4" stroke="#e8912f" stroke-width="2.8"/>
<circle cx="410.0" cy="230.3" r="4.3" fill="url(#gb0)"/>
<path d="M172.5,65.9L176.0,54.0" stroke="#2a7fd0" stroke-width="2.5"/><path d="M176.0,54.0L179.5,42.1" stroke="#e8912f" stroke-width="2.5"/>
<path d="M172.5,65.9L176.0,73.6" stroke="#2a7fd0" stroke-width="2.5"/><path d="M176.0,73.6L179.5,81.4" stroke="#e8912f" stroke-width="2.5"/>
<circle cx="172.5" cy="65.9" r="3.7" fill="url(#gb0)"/>
<circle cx="172.4" cy="212.4" r="3.7" fill="url(#gb0)"/>
<path d="M299.8,139.7L290.3,128.4" stroke="#2a7fd0" stroke-width="4.2"/><path d="M290.3,128.4L280.7,117.1" stroke="#e8912f" stroke-width="4.2"/>
<path d="M299.8,139.7L318.0,129.0" stroke="#2a7fd0" stroke-width="4.2"/><path d="M318.0,129.0L336.2,118.3" stroke="#e8912f" stroke-width="4.2"/>
<path d="M299.8,139.7L290.3,151.6" stroke="#2a7fd0" stroke-width="4.2"/><path d="M290.3,151.6L280.7,163.5" stroke="#e8912f" stroke-width="4.2"/>
<path d="M299.8,139.7L318.6,152.9" stroke="#2a7fd0" stroke-width="4.2"/><path d="M318.6,152.9L337.4,166.0" stroke="#e8912f" stroke-width="4.2"/>
<path d="M357.7,139.7L346.9,129.0" stroke="#2a7fd0" stroke-width="4.2"/><path d="M346.9,129.0L336.2,118.3" stroke="#e8912f" stroke-width="4.2"/>
<path d="M357.7,139.7L377.4,128.4" stroke="#2a7fd0" stroke-width="4.2"/><path d="M377.4,128.4L397.1,117.1" stroke="#e8912f" stroke-width="4.2"/>
<path d="M357.7,139.7L347.5,152.9" stroke="#2a7fd0" stroke-width="4.2"/><path d="M347.5,152.9L337.4,166.0" stroke="#e8912f" stroke-width="4.2"/>
<path d="M357.7,139.7L377.4,151.6" stroke="#2a7fd0" stroke-width="4.2"/><path d="M377.4,151.6L397.1,163.5" stroke="#e8912f" stroke-width="4.2"/>
<circle cx="299.8" cy="139.7" r="4.6" fill="url(#gb0)"/>
<circle cx="357.7" cy="139.7" r="4.7" fill="url(#gb0)"/>
<circle cx="336.2" cy="118.3" r="7.1" fill="url(#go0)"/>
<circle cx="337.4" cy="166.0" r="7.1" fill="url(#go0)"/>
<path d="M456.0,139.7L472.2,129.5" stroke="#2a7fd0" stroke-width="2.6"/><path d="M472.2,129.5L488.4,119.2" stroke="#e8912f" stroke-width="2.6"/>
<path d="M456.0,139.7L472.2,150.2" stroke="#2a7fd0" stroke-width="2.6"/><path d="M472.2,150.2L488.4,160.8" stroke="#e8912f" stroke-width="2.6"/>
<circle cx="488.4" cy="119.2" r="5.5" fill="url(#go0)"/>
<circle cx="488.4" cy="160.8" r="5.5" fill="url(#go0)"/>
<path d="M493.4,61.8L483.7,47.4" stroke="#2a7fd0" stroke-width="2.5"/><path d="M483.7,47.4L474.1,33.0" stroke="#e8912f" stroke-width="2.5"/>
<path d="M493.4,61.8L483.7,69.0" stroke="#2a7fd0" stroke-width="2.5"/><path d="M483.7,69.0L474.1,76.2" stroke="#e8912f" stroke-width="2.5"/>
<path d="M493.4,218.9L502.9,209.3" stroke="#2a7fd0" stroke-width="2.4"/><path d="M502.9,209.3L512.5,199.8" stroke="#e8912f" stroke-width="2.4"/>
<path d="M493.4,218.9L502.9,229.7" stroke="#2a7fd0" stroke-width="2.4"/><path d="M502.9,229.7L512.5,240.4" stroke="#e8912f" stroke-width="2.4"/>
<circle cx="493.4" cy="61.8" r="3.7" fill="url(#gb0)"/>
<circle cx="493.4" cy="218.9" r="3.7" fill="url(#gb0)"/>
<path d="M168.7,139.7L177.8,129.3" stroke="#2a7fd0" stroke-width="2.5"/><path d="M177.8,129.3L186.9,118.9" stroke="#e8912f" stroke-width="2.5"/>
<path d="M168.7,139.7L178.3,149.9" stroke="#2a7fd0" stroke-width="2.5"/><path d="M178.3,149.9L187.9,160.2" stroke="#e8912f" stroke-width="2.5"/>
<circle cx="168.7" cy="139.7" r="3.7" fill="url(#gb0)"/>
<path d="M206.3,60.4L191.0,50.0" stroke="#2a7fd0" stroke-width="2.6"/><path d="M191.0,50.0L175.7,39.6" stroke="#e8912f" stroke-width="2.6"/>
<path d="M206.3,60.4L191.0,70.1" stroke="#2a7fd0" stroke-width="2.6"/><path d="M191.0,70.1L175.7,79.9" stroke="#e8912f" stroke-width="2.6"/>
<circle cx="175.7" cy="39.6" r="5.6" fill="url(#go0)"/>
<circle cx="175.7" cy="79.9" r="5.6" fill="url(#go0)"/>
<path d="M168.2,214.3L171.1,207.0" stroke="#2a7fd0" stroke-width="2.5"/><path d="M171.1,207.0L174.0,199.7" stroke="#e8912f" stroke-width="2.5"/>
<path d="M168.2,214.3L171.1,227.2" stroke="#2a7fd0" stroke-width="2.5"/><path d="M171.1,227.2L174.0,240.2" stroke="#e8912f" stroke-width="2.5"/>
<circle cx="174.0" cy="199.7" r="5.6" fill="url(#go0)"/>
<circle cx="174.0" cy="240.2" r="5.6" fill="url(#go0)"/>
<path d="M207.3,139.7L218.9,128.7" stroke="#2a7fd0" stroke-width="2.8"/><path d="M218.9,128.7L230.5,117.7" stroke="#e8912f" stroke-width="2.8"/>
<path d="M207.3,139.7L218.9,150.7" stroke="#2a7fd0" stroke-width="2.8"/><path d="M218.9,150.7L230.5,161.8" stroke="#e8912f" stroke-width="2.8"/>
<circle cx="207.3" cy="139.7" r="4.0" fill="url(#gb0)"/>
<path d="M457.5,54.0L467.3,42.4" stroke="#2a7fd0" stroke-width="2.6"/><path d="M467.3,42.4L477.1,30.8" stroke="#e8912f" stroke-width="2.6"/>
<path d="M457.5,54.0L467.3,64.4" stroke="#2a7fd0" stroke-width="2.6"/><path d="M467.3,64.4L477.1,74.9" stroke="#e8912f" stroke-width="2.6"/>
<path d="M496.8,220.6L486.9,213.2" stroke="#2a7fd0" stroke-width="2.5"/><path d="M486.9,213.2L477.1,205.8" stroke="#e8912f" stroke-width="2.5"/>
<path d="M496.8,220.6L486.9,235.2" stroke="#2a7fd0" stroke-width="2.5"/><path d="M486.9,235.2L477.1,249.9" stroke="#e8912f" stroke-width="2.5"/>
<circle cx="477.1" cy="30.8" r="5.7" fill="url(#go0)"/>
<circle cx="477.1" cy="74.9" r="5.7" fill="url(#go0)"/>
<circle cx="477.1" cy="205.8" r="5.7" fill="url(#go0)"/>
<circle cx="477.1" cy="249.9" r="5.7" fill="url(#go0)"/>
<path d="M496.9,139.7L494.4,129.2" stroke="#2a7fd0" stroke-width="2.5"/><path d="M494.4,129.2L491.8,118.8" stroke="#e8912f" stroke-width="2.5"/>
<path d="M496.9,139.7L494.4,150.5" stroke="#2a7fd0" stroke-width="2.5"/><path d="M494.4,150.5L491.8,161.2" stroke="#e8912f" stroke-width="2.5"/>
<circle cx="496.9" cy="139.7" r="3.7" fill="url(#gb0)"/>
<path d="M411.1,49.0L422.1,35.6" stroke="#2a7fd0" stroke-width="2.9"/><path d="M422.1,35.6L433.2,22.1" stroke="#e8912f" stroke-width="2.9"/>
<path d="M411.1,49.0L422.1,60.1" stroke="#2a7fd0" stroke-width="2.9"/><path d="M422.1,60.1L433.2,71.1" stroke="#e8912f" stroke-width="2.9"/>
<circle cx="433.2" cy="22.1" r="6.2" fill="url(#go0)"/>
<circle cx="433.2" cy="71.1" r="6.2" fill="url(#go0)"/>
<circle cx="318.5" cy="264.5" r="7.1" fill="url(#go0)"/>
<path d="M205.9,60.1L210.8,46.6" stroke="#2a7fd0" stroke-width="2.7"/><path d="M210.8,46.6L215.7,33.1" stroke="#e8912f" stroke-width="2.7"/>
<path d="M205.9,60.1L210.8,68.1" stroke="#2a7fd0" stroke-width="2.7"/><path d="M210.8,68.1L215.7,76.0" stroke="#e8912f" stroke-width="2.7"/>
<circle cx="205.9" cy="60.1" r="4.0" fill="url(#gb0)"/>
<path d="M299.0,232.9L280.6,221.9" stroke="#2a7fd0" stroke-width="3.1"/><path d="M280.6,221.9L262.2,210.8" stroke="#e8912f" stroke-width="3.1"/>
<path d="M299.0,232.9L280.6,243.9" stroke="#2a7fd0" stroke-width="3.1"/><path d="M280.6,243.9L262.2,254.8" stroke="#e8912f" stroke-width="3.1"/>
<path d="M299.0,232.9L308.7,248.7" stroke="#2a7fd0" stroke-width="3.2"/><path d="M308.7,248.7L318.5,264.5" stroke="#e8912f" stroke-width="3.2"/>
<path d="M205.8,218.2L189.8,209.0" stroke="#2a7fd0" stroke-width="2.6"/><path d="M189.8,209.0L173.7,199.8" stroke="#e8912f" stroke-width="2.6"/>
<path d="M205.8,218.2L189.8,229.3" stroke="#2a7fd0" stroke-width="2.6"/><path d="M189.8,229.3L173.7,240.4" stroke="#e8912f" stroke-width="2.6"/>
<path d="M205.8,218.2L210.0,232.9" stroke="#2a7fd0" stroke-width="2.7"/><path d="M210.0,232.9L214.2,247.6" stroke="#e8912f" stroke-width="2.7"/>
<path d="M249.9,139.7L240.1,128.7" stroke="#2a7fd0" stroke-width="2.9"/><path d="M240.1,128.7L230.3,117.7" stroke="#e8912f" stroke-width="2.9"/>
<path d="M249.9,139.7L240.1,150.8" stroke="#2a7fd0" stroke-width="2.9"/><path d="M240.1,150.8L230.3,161.8" stroke="#e8912f" stroke-width="2.9"/>
<circle cx="299.0" cy="232.9" r="4.7" fill="url(#gb0)"/>
<path d="M249.9,53.9L256.1,39.2" stroke="#2a7fd0" stroke-width="2.9"/><path d="M256.1,39.2L262.2,24.5" stroke="#e8912f" stroke-width="2.9"/>
<path d="M249.9,53.9L256.7,61.9" stroke="#2a7fd0" stroke-width="2.9"/><path d="M256.7,61.9L263.4,69.8" stroke="#e8912f" stroke-width="2.9"/>
<circle cx="205.8" cy="218.2" r="4.0" fill="url(#gb0)"/>
<circle cx="230.3" cy="117.7" r="6.2" fill="url(#go0)"/>
<circle cx="230.3" cy="161.8" r="6.2" fill="url(#go0)"/>
<path d="M249.9,225.6L256.0,218.2" stroke="#2a7fd0" stroke-width="2.9"/><path d="M256.0,218.2L262.2,210.8" stroke="#e8912f" stroke-width="2.9"/>
<circle cx="249.9" cy="53.9" r="4.3" fill="url(#gb0)"/>
<path d="M299.0,233.0L308.7,223.2" stroke="#2a7fd0" stroke-width="3.2"/><path d="M308.7,223.2L318.5,213.4" stroke="#e8912f" stroke-width="3.2"/>
<path d="M357.1,240.3L337.8,226.8" stroke="#2a7fd0" stroke-width="3.3"/><path d="M337.8,226.8L318.5,213.4" stroke="#e8912f" stroke-width="3.3"/>
<circle cx="262.2" cy="210.8" r="6.5" fill="url(#go0)"/>
<path d="M301.5,49.0L282.4,59.4" stroke="#2a7fd0" stroke-width="3.1"/><path d="M282.4,59.4L263.4,69.8" stroke="#e8912f" stroke-width="3.1"/>
<path d="M357.1,41.5L368.2,26.9" stroke="#2a7fd0" stroke-width="3.1"/><path d="M368.2,26.9L379.3,12.2" stroke="#e8912f" stroke-width="3.1"/>
<circle cx="318.5" cy="213.4" r="7.1" fill="url(#go0)"/>
<circle cx="263.4" cy="69.8" r="6.5" fill="url(#go0)"/>
<circle cx="379.3" cy="12.2" r="6.7" fill="url(#go0)"/>
<path d="M249.9,53.9L232.8,43.4" stroke="#2a7fd0" stroke-width="2.8"/><path d="M232.8,43.4L215.6,33.0" stroke="#e8912f" stroke-width="2.8"/>
<path d="M249.9,53.9L232.8,64.9" stroke="#2a7fd0" stroke-width="2.8"/><path d="M232.8,64.9L215.6,76.0" stroke="#e8912f" stroke-width="2.8"/>
<path d="M458.9,139.7L453.4,128.7" stroke="#2a7fd0" stroke-width="2.7"/><path d="M453.4,128.7L447.8,117.7" stroke="#e8912f" stroke-width="2.7"/>
<path d="M458.9,139.7L453.4,151.0" stroke="#2a7fd0" stroke-width="2.7"/><path d="M453.4,151.0L447.8,162.2" stroke="#e8912f" stroke-width="2.7"/>
<circle cx="215.6" cy="33.0" r="6.0" fill="url(#go0)"/>
<circle cx="215.6" cy="76.0" r="6.0" fill="url(#go0)"/>
<path d="M457.8,53.9L445.5,37.9" stroke="#2a7fd0" stroke-width="2.7"/><path d="M445.5,37.9L433.3,22.0" stroke="#e8912f" stroke-width="2.7"/>
<path d="M457.8,53.9L445.5,62.5" stroke="#2a7fd0" stroke-width="2.7"/><path d="M445.5,62.5L433.3,71.1" stroke="#e8912f" stroke-width="2.7"/>
<circle cx="458.9" cy="139.7" r="4.0" fill="url(#gb0)"/>
<circle cx="457.8" cy="53.9" r="4.0" fill="url(#gb0)"/>
<path d="M301.4,48.9L309.5,32.3" stroke="#2a7fd0" stroke-width="3.2"/><path d="M309.5,32.3L317.5,15.8" stroke="#e8912f" stroke-width="3.2"/>
<circle cx="279.3" cy="116.4" r="6.7" fill="url(#go0)"/>
<circle cx="279.3" cy="164.2" r="6.7" fill="url(#go0)"/>
<circle cx="301.4" cy="48.9" r="4.7" fill="url(#gb0)"/>
<path d="M456.6,227.0L467.1,216.5" stroke="#2a7fd0" stroke-width="2.6"/><path d="M467.1,216.5L477.5,206.0" stroke="#e8912f" stroke-width="2.6"/>
<path d="M456.6,227.0L443.7,243.5" stroke="#2a7fd0" stroke-width="2.8"/><path d="M443.7,243.5L430.8,260.0" stroke="#e8912f" stroke-width="2.8"/>
<path d="M456.6,227.0L467.1,238.6" stroke="#2a7fd0" stroke-width="2.6"/><path d="M467.1,238.6L477.5,250.2" stroke="#e8912f" stroke-width="2.6"/>
<circle cx="456.6" cy="227.0" r="4.0" fill="url(#gb0)"/>
<path d="M412.5,139.7L430.2,128.7" stroke="#2a7fd0" stroke-width="2.8"/><path d="M430.2,128.7L447.9,117.7" stroke="#e8912f" stroke-width="2.8"/>
<path d="M412.5,139.7L430.2,151.0" stroke="#2a7fd0" stroke-width="2.8"/><path d="M430.2,151.0L447.9,162.2" stroke="#e8912f" stroke-width="2.8"/>
<circle cx="447.9" cy="117.7" r="6.0" fill="url(#go0)"/>
<circle cx="447.9" cy="162.2" r="6.0" fill="url(#go0)"/>
<path d="M357.1,240.4L368.2,229.9" stroke="#2a7fd0" stroke-width="3.1"/><path d="M368.2,229.9L379.3,219.3" stroke="#e8912f" stroke-width="3.1"/>
<path d="M412.5,233.1L395.9,226.2" stroke="#2a7fd0" stroke-width="3.0"/><path d="M395.9,226.2L379.3,219.3" stroke="#e8912f" stroke-width="3.0"/>
<circle cx="379.3" cy="219.3" r="6.8" fill="url(#go0)"/>
<path d="M167.6,139.7L158.9,129.9" stroke="#2a7fd0" stroke-width="2.5"/><path d="M158.9,129.9L150.2,120.1" stroke="#e8912f" stroke-width="2.5"/>
<path d="M167.6,139.7L158.9,148.9" stroke="#2a7fd0" stroke-width="2.5"/><path d="M158.9,148.9L150.2,158.2" stroke="#e8912f" stroke-width="2.5"/>
<path d="M357.1,240.5L337.8,252.6" stroke="#2a7fd0" stroke-width="3.3"/><path d="M337.8,252.6L318.4,264.7" stroke="#e8912f" stroke-width="3.3"/>
<path d="M357.1,240.5L368.2,254.5" stroke="#2a7fd0" stroke-width="3.1"/><path d="M368.2,254.5L379.3,268.6" stroke="#e8912f" stroke-width="3.1"/>
<path d="M301.4,48.8L309.9,56.2" stroke="#2a7fd0" stroke-width="3.2"/><path d="M309.9,56.2L318.4,63.6" stroke="#e8912f" stroke-width="3.2"/>
<path d="M357.1,41.4L337.8,52.5" stroke="#2a7fd0" stroke-width="3.3"/><path d="M337.8,52.5L318.4,63.6" stroke="#e8912f" stroke-width="3.3"/>
<path d="M205.6,218.3L209.8,211.6" stroke="#2a7fd0" stroke-width="2.7"/><path d="M209.8,211.6L214.0,204.8" stroke="#e8912f" stroke-width="2.7"/>
<circle cx="150.2" cy="120.1" r="5.3" fill="url(#go0)"/>
<circle cx="150.2" cy="158.2" r="5.3" fill="url(#go0)"/>
<circle cx="357.1" cy="240.5" r="4.7" fill="url(#gb0)"/>
<circle cx="318.4" cy="63.6" r="7.1" fill="url(#go0)"/>
<circle cx="399.0" cy="116.4" r="6.5" fill="url(#go0)"/>
<circle cx="399.0" cy="164.2" r="6.5" fill="url(#go0)"/>
<circle cx="214.0" cy="204.8" r="6.0" fill="url(#go0)"/>
<circle cx="430.9" cy="260.1" r="6.2" fill="url(#go0)"/>
<path d="M249.8,139.7L264.5,128.1" stroke="#2a7fd0" stroke-width="3.0"/><path d="M264.5,128.1L279.3,116.4" stroke="#e8912f" stroke-width="3.0"/>
<path d="M249.8,139.7L264.5,151.9" stroke="#2a7fd0" stroke-width="3.0"/><path d="M264.5,151.9L279.3,164.2" stroke="#e8912f" stroke-width="3.0"/>
<circle cx="262.0" cy="255.1" r="6.5" fill="url(#go0)"/>
<path d="M412.5,139.7L405.8,128.1" stroke="#2a7fd0" stroke-width="2.9"/><path d="M405.8,128.1L399.0,116.4" stroke="#e8912f" stroke-width="2.9"/>
<path d="M412.5,139.7L405.8,151.9" stroke="#2a7fd0" stroke-width="2.9"/><path d="M405.8,151.9L399.0,164.2" stroke="#e8912f" stroke-width="2.9"/>
<circle cx="249.8" cy="139.7" r="4.3" fill="url(#gb0)"/>
<path d="M249.8,225.8L231.9,215.3" stroke="#2a7fd0" stroke-width="2.8"/><path d="M231.9,215.3L214.0,204.8" stroke="#e8912f" stroke-width="2.8"/>
<path d="M249.8,225.8L231.9,236.8" stroke="#2a7fd0" stroke-width="2.8"/><path d="M231.9,236.8L214.0,247.8" stroke="#e8912f" stroke-width="2.8"/>
<path d="M249.8,225.8L255.9,240.4" stroke="#2a7fd0" stroke-width="2.9"/><path d="M255.9,240.4L262.0,255.1" stroke="#e8912f" stroke-width="2.9"/>
<circle cx="317.5" cy="15.6" r="7.1" fill="url(#go0)"/>
<circle cx="412.5" cy="139.7" r="4.3" fill="url(#gb0)"/>
<circle cx="249.8" cy="225.8" r="4.3" fill="url(#gb0)"/>
<path d="M206.8,139.7L196.8,150.0" stroke="#2a7fd0" stroke-width="2.7"/><path d="M196.8,150.0L186.8,160.3" stroke="#e8912f" stroke-width="2.7"/>
<path d="M357.1,41.3L337.3,28.4" stroke="#2a7fd0" stroke-width="3.3"/><path d="M337.3,28.4L317.5,15.6" stroke="#e8912f" stroke-width="3.3"/>
<path d="M357.1,41.3L368.7,53.0" stroke="#2a7fd0" stroke-width="3.1"/><path d="M368.7,53.0L380.3,64.7" stroke="#e8912f" stroke-width="3.1"/>
<circle cx="186.8" cy="160.3" r="5.7" fill="url(#go0)"/>
<circle cx="357.1" cy="41.3" r="4.8" fill="url(#gb0)"/>
<circle cx="380.3" cy="64.7" r="6.7" fill="url(#go0)"/>
<circle cx="213.9" cy="247.9" r="6.0" fill="url(#go0)"/>
<path d="M301.4,48.7L281.7,36.4" stroke="#2a7fd0" stroke-width="3.1"/><path d="M281.7,36.4L262.0,24.2" stroke="#e8912f" stroke-width="3.1"/>
<circle cx="262.0" cy="24.2" r="6.5" fill="url(#go0)"/>
<circle cx="379.4" cy="268.7" r="6.8" fill="url(#go0)"/>
<path d="M411.4,48.7L395.4,30.3" stroke="#2a7fd0" stroke-width="3.0"/><path d="M395.4,30.3L379.4,11.8" stroke="#e8912f" stroke-width="3.0"/>
<path d="M411.4,48.7L395.9,56.7" stroke="#2a7fd0" stroke-width="3.0"/><path d="M395.9,56.7L380.4,64.7" stroke="#e8912f" stroke-width="3.0"/>
<path d="M206.7,139.7L196.2,129.2" stroke="#2a7fd0" stroke-width="2.6"/><path d="M196.2,129.2L185.8,118.7" stroke="#e8912f" stroke-width="2.6"/>
<circle cx="411.4" cy="48.7" r="4.4" fill="url(#gb0)"/>
<circle cx="185.8" cy="118.7" r="5.7" fill="url(#go0)"/>
<path d="M412.7,233.3L421.9,222.8" stroke="#2a7fd0" stroke-width="2.9"/><path d="M421.9,222.8L431.1,212.4" stroke="#e8912f" stroke-width="2.9"/>
<path d="M456.9,227.2L444.0,219.8" stroke="#2a7fd0" stroke-width="2.8"/><path d="M444.0,219.8L431.1,212.4" stroke="#e8912f" stroke-width="2.8"/>
<circle cx="431.1" cy="212.4" r="6.2" fill="url(#go0)"/>
<path d="M412.7,233.3L396.1,251.1" stroke="#2a7fd0" stroke-width="3.0"/><path d="M396.1,251.1L379.4,268.8" stroke="#e8912f" stroke-width="3.0"/>
<path d="M412.7,233.3L421.9,246.8" stroke="#2a7fd0" stroke-width="2.9"/><path d="M421.9,246.8L431.1,260.3" stroke="#e8912f" stroke-width="2.9"/>
<circle cx="412.7" cy="233.3" r="4.3" fill="url(#gb0)"/>
<path d="M167.2,63.4L170.9,51.1" stroke="#2a7fd0" stroke-width="2.5"/><path d="M170.9,51.1L174.5,38.8" stroke="#e8912f" stroke-width="2.5"/>
<path d="M167.2,63.4L170.9,71.4" stroke="#2a7fd0" stroke-width="2.5"/><path d="M170.9,71.4L174.5,79.4" stroke="#e8912f" stroke-width="2.5"/>
<circle cx="167.2" cy="63.4" r="3.8" fill="url(#gb0)"/>
<circle cx="167.1" cy="214.8" r="3.8" fill="url(#gb0)"/>
<path d="M298.8,139.7L289.0,128.0" stroke="#2a7fd0" stroke-width="4.2"/><path d="M289.0,128.0L279.1,116.3" stroke="#e8912f" stroke-width="4.2"/>
<path d="M298.8,139.7L317.6,128.7" stroke="#2a7fd0" stroke-width="4.2"/><path d="M317.6,128.7L336.3,117.6" stroke="#e8912f" stroke-width="4.2"/>
<path d="M298.8,139.7L289.0,152.0" stroke="#2a7fd0" stroke-width="4.2"/><path d="M289.0,152.0L279.1,164.2" stroke="#e8912f" stroke-width="4.2"/>
<path d="M298.8,139.7L318.2,153.3" stroke="#2a7fd0" stroke-width="4.2"/><path d="M318.2,153.3L337.6,166.9" stroke="#e8912f" stroke-width="4.2"/>
<path d="M358.5,139.7L347.4,128.7" stroke="#2a7fd0" stroke-width="4.2"/><path d="M347.4,128.7L336.3,117.6" stroke="#e8912f" stroke-width="4.2"/>
<path d="M358.5,139.7L378.9,128.0" stroke="#2a7fd0" stroke-width="4.2"/><path d="M378.9,128.0L399.2,116.3" stroke="#e8912f" stroke-width="4.2"/>
<path d="M358.5,139.7L348.1,153.3" stroke="#2a7fd0" stroke-width="4.2"/><path d="M348.1,153.3L337.6,166.9" stroke="#e8912f" stroke-width="4.2"/>
<path d="M358.5,139.7L378.9,152.0" stroke="#2a7fd0" stroke-width="4.2"/><path d="M378.9,152.0L399.2,164.2" stroke="#e8912f" stroke-width="4.2"/>
<circle cx="298.8" cy="139.7" r="4.7" fill="url(#gb0)"/>
<circle cx="358.5" cy="139.7" r="4.7" fill="url(#gb0)"/>
<circle cx="336.3" cy="117.6" r="7.2" fill="url(#go0)"/>
<circle cx="337.6" cy="166.9" r="7.2" fill="url(#go0)"/>
<path d="M459.8,139.7L476.4,129.2" stroke="#2a7fd0" stroke-width="2.6"/><path d="M476.4,129.2L493.1,118.6" stroke="#e8912f" stroke-width="2.6"/>
<path d="M459.8,139.7L476.4,150.5" stroke="#2a7fd0" stroke-width="2.6"/><path d="M476.4,150.5L493.1,161.4" stroke="#e8912f" stroke-width="2.6"/>
<circle cx="493.1" cy="118.6" r="5.6" fill="url(#go0)"/>
<circle cx="493.1" cy="161.4" r="5.6" fill="url(#go0)"/>
<path d="M498.2,59.5L488.3,44.7" stroke="#2a7fd0" stroke-width="2.5"/><path d="M488.3,44.7L478.4,29.9" stroke="#e8912f" stroke-width="2.5"/>
<path d="M498.2,59.5L488.3,66.9" stroke="#2a7fd0" stroke-width="2.5"/><path d="M488.3,66.9L478.4,74.3" stroke="#e8912f" stroke-width="2.5"/>
<path d="M498.2,221.3L508.0,211.4" stroke="#2a7fd0" stroke-width="2.5"/><path d="M508.0,211.4L517.9,201.5" stroke="#e8912f" stroke-width="2.5"/>
<path d="M498.2,221.3L508.0,232.3" stroke="#2a7fd0" stroke-width="2.5"/><path d="M508.0,232.3L517.9,243.4" stroke="#e8912f" stroke-width="2.5"/>
<circle cx="498.2" cy="59.5" r="3.7" fill="url(#gb0)"/>
<circle cx="498.2" cy="221.3" r="3.7" fill="url(#gb0)"/>
<path d="M499.0,59.1L508.9,47.9" stroke="#2a7fd0" stroke-width="2.5"/><path d="M508.9,47.9L518.9,36.7" stroke="#e8912f" stroke-width="2.5"/>
<path d="M499.0,59.1L508.9,68.4" stroke="#2a7fd0" stroke-width="2.5"/><path d="M508.9,68.4L518.9,77.7" stroke="#e8912f" stroke-width="2.5"/>
<circle cx="518.9" cy="36.7" r="5.3" fill="url(#go0)"/>
<circle cx="518.9" cy="77.7" r="5.3" fill="url(#go0)"/>
<circle cx="518.9" cy="201.8" r="5.3" fill="url(#go0)"/>
<circle cx="518.9" cy="243.9" r="5.3" fill="url(#go0)"/>
<path d="M162.0,61.0L146.7,51.5" stroke="#2a7fd0" stroke-width="2.5"/><path d="M146.7,51.5L131.4,41.9" stroke="#e8912f" stroke-width="2.5"/>
<path d="M162.0,61.0L165.8,48.3" stroke="#2a7fd0" stroke-width="2.6"/><path d="M165.8,48.3L169.5,35.6" stroke="#e8912f" stroke-width="2.6"/>
<path d="M162.0,61.0L146.7,71.2" stroke="#2a7fd0" stroke-width="2.5"/><path d="M146.7,71.2L131.4,81.3" stroke="#e8912f" stroke-width="2.5"/>
<path d="M162.0,61.0L165.8,69.2" stroke="#2a7fd0" stroke-width="2.6"/><path d="M165.8,69.2L169.5,77.5" stroke="#e8912f" stroke-width="2.6"/>
<path d="M201.3,57.2L185.4,46.4" stroke="#2a7fd0" stroke-width="2.7"/><path d="M185.4,46.4L169.5,35.6" stroke="#e8912f" stroke-width="2.7"/>
<path d="M201.3,57.2L206.4,43.2" stroke="#2a7fd0" stroke-width="2.8"/><path d="M206.4,43.2L211.5,29.2" stroke="#e8912f" stroke-width="2.8"/>
<path d="M201.3,57.2L185.4,67.3" stroke="#2a7fd0" stroke-width="2.7"/><path d="M185.4,67.3L169.5,77.5" stroke="#e8912f" stroke-width="2.7"/>
<path d="M201.3,57.2L206.4,65.5" stroke="#2a7fd0" stroke-width="2.8"/><path d="M206.4,65.5L211.5,73.7" stroke="#e8912f" stroke-width="2.8"/>
<path d="M247.0,50.8L229.2,40.0" stroke="#2a7fd0" stroke-width="2.9"/><path d="M229.2,40.0L211.5,29.2" stroke="#e8912f" stroke-width="2.9"/>
<path d="M247.0,50.8L253.3,35.5" stroke="#2a7fd0" stroke-width="3.0"/><path d="M253.3,35.5L259.7,20.3" stroke="#e8912f" stroke-width="3.0"/>
<path d="M247.0,50.8L229.2,62.2" stroke="#2a7fd0" stroke-width="2.9"/><path d="M229.2,62.2L211.5,73.7" stroke="#e8912f" stroke-width="2.9"/>
<path d="M247.0,50.8L254.0,59.0" stroke="#2a7fd0" stroke-width="3.0"/><path d="M254.0,59.0L261.0,67.3" stroke="#e8912f" stroke-width="3.0"/>
<path d="M300.4,45.7L280.0,33.0" stroke="#2a7fd0" stroke-width="3.1"/><path d="M280.0,33.0L259.7,20.3" stroke="#e8912f" stroke-width="3.1"/>
<path d="M300.4,45.7L308.7,28.6" stroke="#2a7fd0" stroke-width="3.3"/><path d="M308.7,28.6L317.0,11.4" stroke="#e8912f" stroke-width="3.3"/>
<path d="M300.4,45.7L280.7,56.5" stroke="#2a7fd0" stroke-width="3.1"/><path d="M280.7,56.5L261.0,67.3" stroke="#e8912f" stroke-width="3.1"/>
<path d="M300.4,45.7L309.2,53.4" stroke="#2a7fd0" stroke-width="3.3"/><path d="M309.2,53.4L318.0,61.0" stroke="#e8912f" stroke-width="3.3"/>
<path d="M358.0,38.0L337.5,24.7" stroke="#2a7fd0" stroke-width="3.3"/><path d="M337.5,24.7L317.0,11.4" stroke="#e8912f" stroke-width="3.3"/>
<path d="M358.0,38.0L369.5,22.8" stroke="#2a7fd0" stroke-width="3.2"/><path d="M369.5,22.8L381.0,7.6" stroke="#e8912f" stroke-width="3.2"/>
<path d="M358.0,38.0L338.0,49.5" stroke="#2a7fd0" stroke-width="3.3"/><path d="M338.0,49.5L318.0,61.0" stroke="#e8912f" stroke-width="3.3"/>
<path d="M358.0,38.0L370.0,50.1" stroke="#2a7fd0" stroke-width="3.2"/><path d="M370.0,50.1L382.0,62.2" stroke="#e8912f" stroke-width="3.2"/>
<path d="M414.0,45.7L397.5,26.7" stroke="#2a7fd0" stroke-width="3.0"/><path d="M397.5,26.7L381.0,7.6" stroke="#e8912f" stroke-width="3.0"/>
<path d="M414.0,45.7L425.4,31.8" stroke="#2a7fd0" stroke-width="2.9"/><path d="M425.4,31.8L436.9,17.8" stroke="#e8912f" stroke-width="2.9"/>
<path d="M414.0,45.7L398.0,54.0" stroke="#2a7fd0" stroke-width="3.0"/><path d="M398.0,54.0L382.0,62.2" stroke="#e8912f" stroke-width="3.0"/>
<path d="M414.0,45.7L425.4,57.1" stroke="#2a7fd0" stroke-width="2.9"/><path d="M425.4,57.1L436.9,68.6" stroke="#e8912f" stroke-width="2.9"/>
<path d="M462.3,50.8L449.6,34.3" stroke="#2a7fd0" stroke-width="2.8"/><path d="M449.6,34.3L436.9,17.8" stroke="#e8912f" stroke-width="2.8"/>
<path d="M462.3,50.8L472.5,38.8" stroke="#2a7fd0" stroke-width="2.7"/><path d="M472.5,38.8L482.6,26.7" stroke="#e8912f" stroke-width="2.7"/>
<path d="M462.3,50.8L449.6,59.7" stroke="#2a7fd0" stroke-width="2.8"/><path d="M449.6,59.7L436.9,68.6" stroke="#e8912f" stroke-width="2.8"/>
<path d="M462.3,50.8L472.5,61.6" stroke="#2a7fd0" stroke-width="2.7"/><path d="M472.5,61.6L482.6,72.4" stroke="#e8912f" stroke-width="2.7"/>
<path d="M503.0,57.2L492.8,42.0" stroke="#2a7fd0" stroke-width="2.6"/><path d="M492.8,42.0L482.6,26.7" stroke="#e8912f" stroke-width="2.6"/>
<path d="M503.0,57.2L513.1,45.8" stroke="#2a7fd0" stroke-width="2.5"/><path d="M513.1,45.8L523.3,34.3" stroke="#e8912f" stroke-width="2.5"/>
<path d="M503.0,57.2L492.8,64.8" stroke="#2a7fd0" stroke-width="2.6"/><path d="M492.8,64.8L482.6,72.4" stroke="#e8912f" stroke-width="2.6"/>
<path d="M503.0,57.2L513.1,66.7" stroke="#2a7fd0" stroke-width="2.5"/><path d="M513.1,66.7L523.3,76.2" stroke="#e8912f" stroke-width="2.5"/>
<path d="M162.0,139.7L153.0,129.6" stroke="#2a7fd0" stroke-width="2.5"/><path d="M153.0,129.6L144.0,119.4" stroke="#e8912f" stroke-width="2.5"/>
<path d="M162.0,139.7L171.5,128.8" stroke="#2a7fd0" stroke-width="2.6"/><path d="M171.5,128.8L181.0,118.0" stroke="#e8912f" stroke-width="2.6"/>
<path d="M162.0,139.7L153.0,149.2" stroke="#2a7fd0" stroke-width="2.5"/><path d="M153.0,149.2L144.0,158.8" stroke="#e8912f" stroke-width="2.5"/>
<path d="M162.0,139.7L172.0,150.3" stroke="#2a7fd0" stroke-width="2.6"/><path d="M172.0,150.3L182.0,161.0" stroke="#e8912f" stroke-width="2.6"/>
<path d="M202.6,139.7L191.8,128.8" stroke="#2a7fd0" stroke-width="2.7"/><path d="M191.8,128.8L181.0,118.0" stroke="#e8912f" stroke-width="2.7"/>
<path d="M202.6,139.7L214.6,128.3" stroke="#2a7fd0" stroke-width="2.8"/><path d="M214.6,128.3L226.7,116.9" stroke="#e8912f" stroke-width="2.8"/>
<path d="M202.6,139.7L192.3,150.3" stroke="#2a7fd0" stroke-width="2.7"/><path d="M192.3,150.3L182.0,161.0" stroke="#e8912f" stroke-width="2.7"/>
<path d="M202.6,139.7L214.6,151.1" stroke="#2a7fd0" stroke-width="2.8"/><path d="M214.6,151.1L226.7,162.6" stroke="#e8912f" stroke-width="2.8"/>
<path d="M247.0,139.7L236.8,128.3" stroke="#2a7fd0" stroke-width="2.9"/><path d="M236.8,128.3L226.7,116.9" stroke="#e8912f" stroke-width="2.9"/>
<path d="M247.0,139.7L262.2,127.6" stroke="#2a7fd0" stroke-width="3.0"/><path d="M262.2,127.6L277.5,115.6" stroke="#e8912f" stroke-width="3.0"/>
<path d="M247.0,139.7L236.8,151.1" stroke="#2a7fd0" stroke-width="2.9"/><path d="M236.8,151.1L226.7,162.6" stroke="#e8912f" stroke-width="2.9"/>
<path d="M247.0,139.7L262.2,152.3" stroke="#2a7fd0" stroke-width="3.0"/><path d="M262.2,152.3L277.5,165.0" stroke="#e8912f" stroke-width="3.0"/>
<path d="M297.8,139.7L287.6,127.6" stroke="#2a7fd0" stroke-width="4.2"/><path d="M287.6,127.6L277.5,115.6" stroke="#e8912f" stroke-width="4.2"/>
<path d="M297.8,139.7L317.1,128.3" stroke="#2a7fd0" stroke-width="4.2"/><path d="M317.1,128.3L336.5,116.9" stroke="#e8912f" stroke-width="4.2"/>
<path d="M297.8,139.7L287.6,152.3" stroke="#2a7fd0" stroke-width="4.2"/><path d="M287.6,152.3L277.5,165.0" stroke="#e8912f" stroke-width="4.2"/>
<path d="M297.8,139.7L317.8,153.7" stroke="#2a7fd0" stroke-width="4.2"/><path d="M317.8,153.7L337.8,167.7" stroke="#e8912f" stroke-width="4.2"/>
<path d="M359.4,139.7L347.9,128.3" stroke="#2a7fd0" stroke-width="4.2"/><path d="M347.9,128.3L336.5,116.9" stroke="#e8912f" stroke-width="4.2"/>
<path d="M359.4,139.7L380.4,127.6" stroke="#2a7fd0" stroke-width="4.2"/><path d="M380.4,127.6L401.3,115.6" stroke="#e8912f" stroke-width="4.2"/>
<path d="M359.4,139.7L348.6,153.7" stroke="#2a7fd0" stroke-width="4.2"/><path d="M348.6,153.7L337.8,167.7" stroke="#e8912f" stroke-width="4.2"/>
<path d="M359.4,139.7L380.4,152.3" stroke="#2a7fd0" stroke-width="4.2"/><path d="M380.4,152.3L401.3,165.0" stroke="#e8912f" stroke-width="4.2"/>
<path d="M415.3,139.7L408.3,127.6" stroke="#2a7fd0" stroke-width="3.0"/><path d="M408.3,127.6L401.3,115.6" stroke="#e8912f" stroke-width="3.0"/>
<path d="M415.3,139.7L433.6,128.3" stroke="#2a7fd0" stroke-width="2.9"/><path d="M433.6,128.3L452.0,116.9" stroke="#e8912f" stroke-width="2.9"/>
<path d="M415.3,139.7L408.3,152.3" stroke="#2a7fd0" stroke-width="3.0"/><path d="M408.3,152.3L401.3,165.0" stroke="#e8912f" stroke-width="3.0"/>
<path d="M415.3,139.7L433.6,151.3" stroke="#2a7fd0" stroke-width="2.9"/><path d="M433.6,151.3L452.0,163.0" stroke="#e8912f" stroke-width="2.9"/>
<path d="M463.5,139.7L457.8,128.3" stroke="#2a7fd0" stroke-width="2.8"/><path d="M457.8,128.3L452.0,116.9" stroke="#e8912f" stroke-width="2.8"/>
<path d="M463.5,139.7L480.6,128.8" stroke="#2a7fd0" stroke-width="2.6"/><path d="M480.6,128.8L497.8,118.0" stroke="#e8912f" stroke-width="2.6"/>
<path d="M463.5,139.7L457.8,151.3" stroke="#2a7fd0" stroke-width="2.8"/><path d="M457.8,151.3L452.0,163.0" stroke="#e8912f" stroke-width="2.8"/>
<path d="M463.5,139.7L480.6,150.8" stroke="#2a7fd0" stroke-width="2.6"/><path d="M480.6,150.8L497.8,162.0" stroke="#e8912f" stroke-width="2.6"/>
<path d="M503.0,139.7L500.4,128.8" stroke="#2a7fd0" stroke-width="2.5"/><path d="M500.4,128.8L497.8,118.0" stroke="#e8912f" stroke-width="2.5"/>
<path d="M503.0,139.7L518.9,129.6" stroke="#2a7fd0" stroke-width="2.5"/><path d="M518.9,129.6L534.7,119.4" stroke="#e8912f" stroke-width="2.5"/>
<path d="M503.0,139.7L500.4,150.8" stroke="#2a7fd0" stroke-width="2.5"/><path d="M500.4,150.8L497.8,162.0" stroke="#e8912f" stroke-width="2.5"/>
<path d="M503.0,139.7L518.9,149.8" stroke="#2a7fd0" stroke-width="2.5"/><path d="M518.9,149.8L534.7,160.0" stroke="#e8912f" stroke-width="2.5"/>
<path d="M161.9,217.2L146.7,207.6" stroke="#2a7fd0" stroke-width="2.5"/><path d="M146.7,207.6L131.4,198.0" stroke="#e8912f" stroke-width="2.5"/>
<path d="M161.9,217.2L164.9,209.6" stroke="#2a7fd0" stroke-width="2.6"/><path d="M164.9,209.6L168.0,202.0" stroke="#e8912f" stroke-width="2.6"/>
<path d="M161.9,217.2L146.7,227.3" stroke="#2a7fd0" stroke-width="2.5"/><path d="M146.7,227.3L131.4,237.5" stroke="#e8912f" stroke-width="2.5"/>
<path d="M161.9,217.2L164.9,230.6" stroke="#2a7fd0" stroke-width="2.6"/><path d="M164.9,230.6L168.0,244.0" stroke="#e8912f" stroke-width="2.6"/>
<path d="M201.3,221.0L184.7,211.5" stroke="#2a7fd0" stroke-width="2.7"/><path d="M184.7,211.5L168.0,202.0" stroke="#e8912f" stroke-width="2.7"/>
<path d="M201.3,221.0L205.7,214.0" stroke="#2a7fd0" stroke-width="2.8"/><path d="M205.7,214.0L210.0,207.0" stroke="#e8912f" stroke-width="2.8"/>
<path d="M201.3,221.0L184.7,232.5" stroke="#2a7fd0" stroke-width="2.7"/><path d="M184.7,232.5L168.0,244.0" stroke="#e8912f" stroke-width="2.7"/>
<path d="M201.3,221.0L205.7,236.2" stroke="#2a7fd0" stroke-width="2.8"/><path d="M205.7,236.2L210.0,251.5" stroke="#e8912f" stroke-width="2.8"/>
<path d="M247.0,228.7L228.5,217.8" stroke="#2a7fd0" stroke-width="2.9"/><path d="M228.5,217.8L210.0,207.0" stroke="#e8912f" stroke-width="2.9"/>
<path d="M247.0,228.7L253.3,221.1" stroke="#2a7fd0" stroke-width="3.0"/><path d="M253.3,221.1L259.7,213.4" stroke="#e8912f" stroke-width="3.0"/>
<path d="M247.0,228.7L228.5,240.1" stroke="#2a7fd0" stroke-width="2.9"/><path d="M228.5,240.1L210.0,251.5" stroke="#e8912f" stroke-width="2.9"/>
<path d="M247.0,228.7L253.3,243.8" stroke="#2a7fd0" stroke-width="3.0"/><path d="M253.3,243.8L259.7,259.0" stroke="#e8912f" stroke-width="3.0"/>
<path d="M297.8,236.3L278.8,224.9" stroke="#2a7fd0" stroke-width="3.1"/><path d="M278.8,224.9L259.7,213.4" stroke="#e8912f" stroke-width="3.1"/>
<path d="M297.8,236.3L307.9,226.2" stroke="#2a7fd0" stroke-width="3.2"/><path d="M307.9,226.2L318.0,216.0" stroke="#e8912f" stroke-width="3.2"/>
<path d="M297.8,236.3L278.8,247.7" stroke="#2a7fd0" stroke-width="3.1"/><path d="M278.8,247.7L259.7,259.0" stroke="#e8912f" stroke-width="3.1"/>
<path d="M297.8,236.3L307.9,252.7" stroke="#2a7fd0" stroke-width="3.2"/><path d="M307.9,252.7L318.0,269.0" stroke="#e8912f" stroke-width="3.2"/>
<path d="M358.0,243.9L338.0,229.9" stroke="#2a7fd0" stroke-width="3.3"/><path d="M338.0,229.9L318.0,216.0" stroke="#e8912f" stroke-width="3.3"/>
<path d="M358.0,243.9L369.5,232.9" stroke="#2a7fd0" stroke-width="3.2"/><path d="M369.5,232.9L381.0,222.0" stroke="#e8912f" stroke-width="3.2"/>
<path d="M358.0,243.9L338.0,256.4" stroke="#2a7fd0" stroke-width="3.3"/><path d="M338.0,256.4L318.0,269.0" stroke="#e8912f" stroke-width="3.3"/>
<path d="M358.0,243.9L369.5,258.4" stroke="#2a7fd0" stroke-width="3.2"/><path d="M369.5,258.4L381.0,273.0" stroke="#e8912f" stroke-width="3.2"/>
<path d="M415.3,236.3L398.1,229.2" stroke="#2a7fd0" stroke-width="3.0"/><path d="M398.1,229.2L381.0,222.0" stroke="#e8912f" stroke-width="3.0"/>
<path d="M415.3,236.3L424.8,225.5" stroke="#2a7fd0" stroke-width="2.9"/><path d="M424.8,225.5L434.3,214.7" stroke="#e8912f" stroke-width="2.9"/>
<path d="M415.3,236.3L398.1,254.7" stroke="#2a7fd0" stroke-width="3.0"/><path d="M398.1,254.7L381.0,273.0" stroke="#e8912f" stroke-width="3.0"/>
<path d="M415.3,236.3L424.8,250.2" stroke="#2a7fd0" stroke-width="2.9"/><path d="M424.8,250.2L434.3,264.2" stroke="#e8912f" stroke-width="2.9"/>
<path d="M461.0,230.0L447.6,222.3" stroke="#2a7fd0" stroke-width="2.8"/><path d="M447.6,222.3L434.3,214.7" stroke="#e8912f" stroke-width="2.8"/>
<path d="M461.0,230.0L471.8,219.2" stroke="#2a7fd0" stroke-width="2.7"/><path d="M471.8,219.2L482.6,208.3" stroke="#e8912f" stroke-width="2.7"/>
<path d="M461.0,230.0L447.6,247.1" stroke="#2a7fd0" stroke-width="2.8"/><path d="M447.6,247.1L434.3,264.2" stroke="#e8912f" stroke-width="2.8"/>
<path d="M461.0,230.0L471.8,242.0" stroke="#2a7fd0" stroke-width="2.7"/><path d="M471.8,242.0L482.6,254.0" stroke="#e8912f" stroke-width="2.7"/>
<path d="M503.0,223.6L492.8,215.9" stroke="#2a7fd0" stroke-width="2.6"/><path d="M492.8,215.9L482.6,208.3" stroke="#e8912f" stroke-width="2.6"/>
<path d="M503.0,223.6L513.1,213.4" stroke="#2a7fd0" stroke-width="2.5"/><path d="M513.1,213.4L523.3,203.3" stroke="#e8912f" stroke-width="2.5"/>
<path d="M503.0,223.6L492.8,238.8" stroke="#2a7fd0" stroke-width="2.6"/><path d="M492.8,238.8L482.6,254.0" stroke="#e8912f" stroke-width="2.6"/>
<path d="M503.0,223.6L513.1,235.0" stroke="#2a7fd0" stroke-width="2.5"/><path d="M513.1,235.0L523.3,246.4" stroke="#e8912f" stroke-width="2.5"/>
<circle cx="162.0" cy="61.0" r="6.4" fill="url(#gb0)"/>
<circle cx="201.3" cy="57.2" r="6.8" fill="url(#gb0)"/>
<circle cx="247.0" cy="50.8" r="7.4" fill="url(#gb0)"/>
<circle cx="300.4" cy="45.7" r="8.0" fill="url(#gb0)"/>
<circle cx="358.0" cy="38.0" r="8.1" fill="url(#gb0)"/>
<circle cx="414.0" cy="45.7" r="7.4" fill="url(#gb0)"/>
<circle cx="462.3" cy="50.8" r="6.8" fill="url(#gb0)"/>
<circle cx="503.0" cy="57.2" r="6.3" fill="url(#gb0)"/>
<circle cx="131.4" cy="41.9" r="5.3" fill="url(#go0)"/>
<circle cx="169.5" cy="35.6" r="5.7" fill="url(#go0)"/>
<circle cx="211.5" cy="29.2" r="6.2" fill="url(#go0)"/>
<circle cx="259.7" cy="20.3" r="6.7" fill="url(#go0)"/>
<circle cx="317.0" cy="11.4" r="7.3" fill="url(#go0)"/>
<circle cx="381.0" cy="7.6" r="6.9" fill="url(#go0)"/>
<circle cx="436.9" cy="17.8" r="6.3" fill="url(#go0)"/>
<circle cx="482.6" cy="26.7" r="5.8" fill="url(#go0)"/>
<circle cx="523.3" cy="34.3" r="5.4" fill="url(#go0)"/>
<circle cx="131.4" cy="81.3" r="5.3" fill="url(#go0)"/>
<circle cx="169.5" cy="77.5" r="5.7" fill="url(#go0)"/>
<circle cx="211.5" cy="73.7" r="6.2" fill="url(#go0)"/>
<circle cx="261.0" cy="67.3" r="6.7" fill="url(#go0)"/>
<circle cx="318.0" cy="61.0" r="7.3" fill="url(#go0)"/>
<circle cx="382.0" cy="62.2" r="6.9" fill="url(#go0)"/>
<circle cx="436.9" cy="68.6" r="6.3" fill="url(#go0)"/>
<circle cx="482.6" cy="72.4" r="5.8" fill="url(#go0)"/>
<circle cx="523.3" cy="76.2" r="5.4" fill="url(#go0)"/>
<circle cx="162.0" cy="139.7" r="6.4" fill="url(#gb0)"/>
<circle cx="202.6" cy="139.7" r="6.9" fill="url(#gb0)"/>
<circle cx="247.0" cy="139.7" r="7.4" fill="url(#gb0)"/>
<circle cx="297.8" cy="139.7" r="8.0" fill="url(#gb0)"/>
<circle cx="359.4" cy="139.7" r="8.1" fill="url(#gb0)"/>
<circle cx="415.3" cy="139.7" r="7.4" fill="url(#gb0)"/>
<circle cx="463.5" cy="139.7" r="6.8" fill="url(#gb0)"/>
<circle cx="503.0" cy="139.7" r="6.3" fill="url(#gb0)"/>
<circle cx="144.0" cy="119.4" r="5.4" fill="url(#go0)"/>
<circle cx="181.0" cy="118.0" r="5.8" fill="url(#go0)"/>
<circle cx="226.7" cy="116.9" r="6.3" fill="url(#go0)"/>
<circle cx="277.5" cy="115.6" r="6.9" fill="url(#go0)"/>
<circle cx="336.5" cy="116.9" r="7.4" fill="url(#go0)"/>
<circle cx="401.3" cy="115.6" r="6.7" fill="url(#go0)"/>
<circle cx="452.0" cy="116.9" r="6.1" fill="url(#go0)"/>
<circle cx="497.8" cy="118.0" r="5.7" fill="url(#go0)"/>
<circle cx="534.7" cy="119.4" r="5.3" fill="url(#go0)"/>
<circle cx="144.0" cy="158.8" r="5.4" fill="url(#go0)"/>
<circle cx="182.0" cy="161.0" r="5.8" fill="url(#go0)"/>
<circle cx="226.7" cy="162.6" r="6.3" fill="url(#go0)"/>
<circle cx="277.5" cy="165.0" r="6.9" fill="url(#go0)"/>
<circle cx="337.8" cy="167.7" r="7.3" fill="url(#go0)"/>
<circle cx="401.3" cy="165.0" r="6.7" fill="url(#go0)"/>
<circle cx="452.0" cy="163.0" r="6.1" fill="url(#go0)"/>
<circle cx="497.8" cy="162.0" r="5.7" fill="url(#go0)"/>
<circle cx="534.7" cy="160.0" r="5.3" fill="url(#go0)"/>
<circle cx="161.9" cy="217.2" r="6.4" fill="url(#gb0)"/>
<circle cx="201.3" cy="221.0" r="6.8" fill="url(#gb0)"/>
<circle cx="247.0" cy="228.7" r="7.4" fill="url(#gb0)"/>
<circle cx="297.8" cy="236.3" r="8.0" fill="url(#gb0)"/>
<circle cx="358.0" cy="243.9" r="8.1" fill="url(#gb0)"/>
<circle cx="415.3" cy="236.3" r="7.4" fill="url(#gb0)"/>
<circle cx="461.0" cy="230.0" r="6.8" fill="url(#gb0)"/>
<circle cx="503.0" cy="223.6" r="6.3" fill="url(#gb0)"/>
<circle cx="131.4" cy="198.0" r="5.3" fill="url(#go0)"/>
<circle cx="168.0" cy="202.0" r="5.7" fill="url(#go0)"/>
<circle cx="210.0" cy="207.0" r="6.1" fill="url(#go0)"/>
<circle cx="259.7" cy="213.4" r="6.7" fill="url(#go0)"/>
<circle cx="318.0" cy="216.0" r="7.3" fill="url(#go0)"/>
<circle cx="381.0" cy="222.0" r="6.9" fill="url(#go0)"/>
<circle cx="434.3" cy="214.7" r="6.3" fill="url(#go0)"/>
<circle cx="482.6" cy="208.3" r="5.8" fill="url(#go0)"/>
<circle cx="523.3" cy="203.3" r="5.4" fill="url(#go0)"/>
<circle cx="131.4" cy="237.5" r="5.3" fill="url(#go0)"/>
<circle cx="168.0" cy="244.0" r="5.7" fill="url(#go0)"/>
<circle cx="210.0" cy="251.5" r="6.1" fill="url(#go0)"/>
<circle cx="259.7" cy="259.0" r="6.7" fill="url(#go0)"/>
<circle cx="318.0" cy="269.0" r="7.3" fill="url(#go0)"/>
<circle cx="381.0" cy="273.0" r="6.9" fill="url(#go0)"/>
<circle cx="434.3" cy="264.2" r="6.3" fill="url(#go0)"/>
<circle cx="482.6" cy="254.0" r="5.8" fill="url(#go0)"/>
<circle cx="523.3" cy="246.4" r="5.4" fill="url(#go0)"/>
</g>
<circle cx="260" cy="102.5" r="6.6" fill="url(#grb)"/>
<circle cx="305" cy="105" r="6.6" fill="url(#grb)"/>
<circle cx="350" cy="100" r="6.6" fill="url(#grb)"/>
<circle cx="400" cy="101.5" r="6.6" fill="url(#grb)"/>
<circle cx="262.5" cy="175" r="6.6" fill="url(#grb)"/>
<circle cx="305" cy="177.5" r="6.6" fill="url(#grb)"/>
<circle cx="350" cy="177.5" r="6.6" fill="url(#grb)"/>
<circle cx="395" cy="177.5" r="6.6" fill="url(#grb)"/>
<circle cx="207.5" cy="100" r="7.2" fill="url(#gr)"/>
<circle cx="250" cy="97.5" r="7.2" fill="url(#gr)"/>
<circle cx="300" cy="95" r="7.2" fill="url(#gr)"/>
<circle cx="357.5" cy="92.5" r="7.2" fill="url(#gr)"/>
<circle cx="410" cy="95" r="7.2" fill="url(#gr)"/>
<circle cx="455" cy="97.5" r="7.2" fill="url(#gr)"/>
<circle cx="212.5" cy="177.5" r="7.2" fill="url(#gr)"/>
<circle cx="252.5" cy="180" r="7.2" fill="url(#gr)"/>
<circle cx="300" cy="185" r="7.2" fill="url(#gr)"/>
<circle cx="355" cy="187.5" r="7.2" fill="url(#gr)"/>
<circle cx="405" cy="185" r="7.2" fill="url(#gr)"/>
<circle cx="450" cy="180" r="7.2" fill="url(#gr)"/>
<rect x="166.5" y="96.5" width="17" height="17" rx="6" fill="#6fd3f6" filter="url(#blur2)"/><circle cx="175" cy="105" r="4.7" fill="url(#hp)"/>
<rect x="324.0" y="91.5" width="17" height="17" rx="6" fill="#6fd3f6" filter="url(#blur2)"/><circle cx="332.5" cy="100" r="4.7" fill="url(#hp)"/>
<rect x="484.0" y="91.5" width="17" height="17" rx="6" fill="#6fd3f6" filter="url(#blur2)"/><circle cx="492.5" cy="100" r="4.7" fill="url(#hp)"/>
<rect x="296.5" y="154.0" width="17" height="17" rx="6" fill="#6fd3f6" filter="url(#blur2)"/><circle cx="305" cy="162.5" r="4.7" fill="url(#hp)"/>
<rect x="154.0" y="176.5" width="17" height="17" rx="6" fill="#6fd3f6" filter="url(#blur2)"/><circle cx="162.5" cy="185" r="4.7" fill="url(#hp)"/>
<rect x="371.5" y="184.0" width="17" height="17" rx="6" fill="#6fd3f6" filter="url(#blur2)"/><circle cx="380" cy="192.5" r="4.7" fill="url(#hp)"/>
<rect x="481.5" y="184.0" width="17" height="17" rx="6" fill="#6fd3f6" filter="url(#blur2)"/><circle cx="490" cy="192.5" r="4.7" fill="url(#hp)"/>
<rect x="164.0" y="254.0" width="17" height="17" rx="6" fill="#6fd3f6" filter="url(#blur2)"/><circle cx="172.5" cy="262.5" r="4.7" fill="url(#hp)"/>
<rect x="224.0" y="254.0" width="17" height="17" rx="6" fill="#6fd3f6" filter="url(#blur2)"/><circle cx="232.5" cy="262.5" r="4.7" fill="url(#hp)"/>
<rect x="290.5" y="256.5" width="17" height="17" rx="6" fill="#6fd3f6" filter="url(#blur2)"/><circle cx="299" cy="265" r="4.7" fill="url(#hp)"/>
<rect x="345.5" y="268.0" width="17" height="17" rx="6" fill="#6fd3f6" filter="url(#blur2)"/><circle cx="354" cy="276.5" r="4.7" fill="url(#hp)"/>
<rect x="396.5" y="261.5" width="17" height="17" rx="6" fill="#6fd3f6" filter="url(#blur2)"/><circle cx="405" cy="270" r="4.7" fill="url(#hp)"/>
<rect x="441.5" y="249.0" width="17" height="17" rx="6" fill="#6fd3f6" filter="url(#blur2)"/><circle cx="450" cy="257.5" r="4.7" fill="url(#hp)"/>
<polygon points="104,98 123,116.5 113.5,116.5 113.5,384 104,375.5 95.5,384 95.5,116.5 86,116.5" fill="url(#arr)"/>
<polygon points="165,287 544,287 503.5,327.5 123.5,327.5" fill="url(#topf)"/>
<rect x="123.5" y="327.5" width="380" height="67" fill="url(#frontf)"/>
<rect x="123.5" y="394.3" width="380" height="33" fill="#f0dc9e"/>
<polygon points="503.5,327.5 544,287 544,354.5 503.5,394.3" fill="url(#sidef)"/>
<polygon points="503.5,394.3 544,354.5 544,387.2 503.5,427.3" fill="#c8b47e"/>
<ellipse cx="166.5" cy="310.0" rx="6" ry="4.5" fill="#1a4f7a" opacity="0.35" filter="url(#blur2)"/>
<circle cx="165.5" cy="305.6" r="5.1" fill="url(#hp)"/>
<ellipse cx="201.6" cy="310.0" rx="6" ry="4.5" fill="#1a4f7a" opacity="0.35" filter="url(#blur2)"/>
<circle cx="200.6" cy="305.6" r="5.1" fill="url(#hp)"/>
<ellipse cx="236.7" cy="310.0" rx="6" ry="4.5" fill="#1a4f7a" opacity="0.35" filter="url(#blur2)"/>
<circle cx="235.7" cy="305.6" r="5.1" fill="url(#hp)"/>
<ellipse cx="271.8" cy="310.0" rx="6" ry="4.5" fill="#1a4f7a" opacity="0.35" filter="url(#blur2)"/>
<circle cx="270.8" cy="305.6" r="5.1" fill="url(#hp)"/>
<ellipse cx="306.9" cy="310.0" rx="6" ry="4.5" fill="#1a4f7a" opacity="0.35" filter="url(#blur2)"/>
<circle cx="305.9" cy="305.6" r="5.1" fill="url(#hp)"/>
<ellipse cx="342.0" cy="310.0" rx="6" ry="4.5" fill="#1a4f7a" opacity="0.35" filter="url(#blur2)"/>
<circle cx="341.0" cy="305.6" r="5.1" fill="url(#hp)"/>
<ellipse cx="377.1" cy="310.0" rx="6" ry="4.5" fill="#1a4f7a" opacity="0.35" filter="url(#blur2)"/>
<circle cx="376.1" cy="305.6" r="5.1" fill="url(#hp)"/>
<ellipse cx="412.0" cy="310.0" rx="6" ry="4.5" fill="#1a4f7a" opacity="0.35" filter="url(#blur2)"/>
<circle cx="411.0" cy="305.6" r="5.1" fill="url(#hp)"/>
<ellipse cx="446.5" cy="310.0" rx="6" ry="4.5" fill="#1a4f7a" opacity="0.35" filter="url(#blur2)"/>
<circle cx="445.5" cy="305.6" r="5.1" fill="url(#hp)"/>
<ellipse cx="481.5" cy="310.0" rx="6" ry="4.5" fill="#1a4f7a" opacity="0.35" filter="url(#blur2)"/>
<circle cx="480.5" cy="305.6" r="5.1" fill="url(#hp)"/>
<path d="M210,307 C210,292 198,284 196.5,269" fill="none" stroke="#1414ee" stroke-width="2.6" stroke-dasharray="6 3.5"/>
<polygon points="0,0 -10,-5 -7.5,0 -10,5" fill="#1414ee" transform="translate(195.9,261.5) rotate(-100)"/>
<path d="M324,308 C324,292 336,288 336.7,272" fill="none" stroke="#1414ee" stroke-width="2.6" stroke-dasharray="6 3.5"/>
<polygon points="0,0 -10,-5 -7.5,0 -10,5" fill="#1414ee" transform="translate(336.8,264.5) rotate(-85)"/>
<path d="M462.5,307 C462.5,292 453,285 452.5,272" fill="none" stroke="#1414ee" stroke-width="2.6" stroke-dasharray="6 3.5"/>
<polygon points="0,0 -10,-5 -7.5,0 -10,5" fill="#1414ee" transform="translate(452.2,264.5) rotate(-95)"/>
<text x="313.5" y="369.5" font-family="Liberation Sans" font-weight="bold" font-size="23" fill="#3a3a3a" text-anchor="middle">Proton conductor</text>
<text x="313.5" y="418.5" font-family="Liberation Sans" font-weight="bold" font-size="23.5" fill="#3a3a3a" text-anchor="middle">Pt</text>
<text x="469.2" y="352" font-family="Liberation Sans" font-weight="bold" font-size="26.5" fill="#111">H<tspan font-size="18" dx="-0.5" dy="-8.5">+</tspan></text>
<path d="M531,385.4 H570.5 V271 M570.5,227 V173.7 M545,173.7 H594.6" fill="none" stroke="#716b6b" stroke-width="4.6"/>
<ellipse cx="570.5" cy="248.8" rx="21.4" ry="19.2" fill="none" stroke="#716b6b" stroke-width="4.6"/>
<path d="M561,238.5 L570.5,262 L580,238.5" fill="none" stroke="#716b6b" stroke-width="2"/>
<rect x="592" y="153" width="5.2" height="40.7" fill="#716b6b"/>
<rect x="600" y="161" width="4.8" height="25.7" fill="#716b6b"/>
<rect x="609" y="165.4" width="5" height="15.8" fill="#716b6b"/>
<polygon points="958.5,92.5 958.5,92.3 962.3,91.8 966.1,91.4 970.0,91.0 973.9,90.6 977.7,90.2 981.6,89.8 985.5,89.5 989.3,89.1 993.2,88.8 997.0,88.4 1000.9,88.0 1004.7,87.5 1008.5,87.1 1012.2,86.6 1016.0,86.0 1019.7,85.4 1023.4,84.7 1027.0,84.0 1030.7,83.3 1034.3,82.5 1037.9,81.8 1041.5,81.0 1045.1,80.1 1048.8,79.3 1052.5,78.5 1056.2,77.8 1060.0,77.0 1063.9,76.2 1068.0,75.5 1072.1,74.7 1076.3,74.0 1080.5,73.2 1084.8,72.4 1088.9,71.7 1093.0,70.9 1097.0,70.2 1100.9,69.4 1104.5,68.7 1108.0,68.0 1111.3,67.3 1114.4,66.6 1117.5,65.8 1120.4,65.1 1123.2,64.4 1125.9,63.7 1128.5,63.0 1131.0,62.3 1133.4,61.7 1135.7,61.1 1137.9,60.5 1140.0,60.0 1142.0,59.5 1143.9,59.0 1145.6,58.6 1147.3,58.2 1148.8,57.8 1150.2,57.4 1151.6,57.1 1153.0,56.8 1154.2,56.6 1155.5,56.3 1156.8,56.1 1158.0,56.0 1159.2,55.9 1160.4,55.8 1161.5,55.8 1162.6,55.8 1163.6,55.8 1164.6,55.9 1165.6,56.0 1166.5,56.1 1167.4,56.3 1168.3,56.5 1169.2,56.7 1170.0,57.0 1170.8,57.3 1171.6,57.6 1172.3,57.9 1173.0,58.2 1173.7,58.6 1174.4,59.0 1175.0,59.5 1175.6,60.0 1176.2,60.6 1176.8,61.3 1177.4,62.1 1178.0,63.0 1178.6,64.0 1179.1,65.0 1179.7,66.1 1180.2,67.2 1180.7,68.4 1181.2,69.7 1181.7,71.1 1182.2,72.6 1182.7,74.2 1182.7,80.0" fill="#c09be0"/>
<polygon points="942.3,238.0 942.3,246.8 942.7,248.0 943.2,249.1 943.7,250.2 944.2,251.3 944.7,252.4 945.2,253.4 945.8,254.3 946.4,255.2 947.0,256.0 947.6,256.8 948.3,257.5 949.0,258.1 949.7,258.7 950.4,259.2 951.1,259.8 951.9,260.2 952.7,260.6 953.5,261.0 954.3,261.4 955.1,261.7 956.0,262.0 956.8,262.3 957.6,262.6 958.3,262.8 959.0,263.0 959.8,263.2 960.6,263.4 961.4,263.5 962.4,263.5 963.5,263.5 964.8,263.4 966.3,263.2 968.0,263.0 970.0,262.6 972.2,262.2 974.6,261.6 977.2,261.0 980.0,260.3 982.8,259.5 985.7,258.7 988.7,257.9 991.6,257.1 994.5,256.4 997.3,255.7 1000.0,255.0 1002.5,254.4 1004.9,253.8 1007.2,253.2 1009.4,252.7 1011.6,252.2 1013.8,251.6 1016.1,251.1 1018.6,250.5 1021.3,249.9 1024.2,249.3 1027.4,248.7 1031.0,248.0 1034.9,247.3 1039.2,246.5 1043.8,245.6 1048.7,244.8 1053.7,243.9 1058.9,243.0 1064.1,242.1 1069.4,241.2 1074.7,240.4 1080.0,239.5 1085.1,238.7 1090.0,238.0 1094.8,237.3 1099.7,236.7 1104.5,236.0 1109.3,235.4 1114.1,234.9 1118.9,234.3 1123.6,233.8 1128.4,233.2 1133.1,232.7 1137.8,232.1 1142.4,231.6 1147.0,231.0 1151.7,230.4 1156.7,229.8 1161.8,229.1 1161.8,227.2" fill="#c09be0"/>
<polygon points="962.2,303.8 962.2,303.7 966.1,303.4 970.0,303.0 973.9,302.6 977.7,302.2 981.5,301.9 985.2,301.5 989.0,301.1 992.7,300.7 996.4,300.3 1000.1,299.9 1003.8,299.4 1007.5,299.0 1011.3,298.5 1015.0,298.0 1018.7,297.5 1022.5,297.0 1026.2,296.4 1029.9,295.9 1033.6,295.3 1037.3,294.7 1041.0,294.1 1044.8,293.5 1048.5,292.9 1052.3,292.2 1056.1,291.6 1060.0,291.0 1063.9,290.4 1068.0,289.7 1072.2,289.0 1076.4,288.3 1080.6,287.6 1084.8,286.9 1089.0,286.2 1093.1,285.5 1097.1,284.8 1100.9,284.2 1104.6,283.6 1108.0,283.0 1111.3,282.5 1114.4,282.0 1117.4,281.5 1120.3,281.0 1123.1,280.6 1125.8,280.2 1128.4,279.8 1130.9,279.4 1133.3,279.0 1135.6,278.7 1137.8,278.3 1140.0,278.0 1142.1,277.7 1144.0,277.4 1145.8,277.1 1147.5,276.8 1149.1,276.5 1150.7,276.2 1152.2,276.0 1153.6,275.8 1155.0,275.7 1156.3,275.6 1157.7,275.5 1159.0,275.5 1160.3,275.5 1161.6,275.6 1162.8,275.8 1164.0,276.0 1165.2,276.2 1166.3,276.5 1167.3,276.7 1168.4,277.1 1169.3,277.4 1170.3,277.8 1171.2,278.1 1172.0,278.5 1172.8,278.9 1173.5,279.2 1174.1,279.6 1174.7,279.9 1175.2,280.3 1175.7,280.7 1176.1,281.2 1176.6,281.7 1177.0,282.3 1177.5,283.0 1178.0,283.8 1178.5,284.7 1179.0,285.7 1179.6,286.8 1179.6,294.0" fill="#c09be0"/>
<polygon points="944.5,418.0 944.5,427.0 945.1,427.8 945.7,428.6 946.2,429.2 946.8,429.8 947.4,430.3 948.0,430.8 948.6,431.2 949.3,431.6 949.9,431.9 950.6,432.3 951.3,432.6 952.0,433.0 952.7,433.3 953.5,433.7 954.3,434.0 955.0,434.3 955.8,434.5 956.7,434.8 957.5,435.0 958.4,435.2 959.2,435.3 960.1,435.4 961.1,435.5 962.0,435.6 962.9,435.6 963.9,435.6 964.8,435.6 965.7,435.5 966.6,435.5 967.6,435.3 968.6,435.2 969.7,435.0 970.8,434.8 972.1,434.6 973.5,434.3 975.0,434.0 976.6,433.7 978.4,433.2 980.3,432.8 982.2,432.3 984.3,431.8 986.4,431.2 988.6,430.7 990.8,430.1 993.0,429.5 995.3,429.0 997.7,428.5 1000.0,428.0 1002.3,427.6 1004.5,427.1 1006.7,426.7 1008.9,426.3 1011.1,425.9 1013.4,425.6 1015.8,425.2 1018.4,424.8 1021.1,424.4 1024.1,423.9 1027.4,423.5 1031.0,423.0 1034.9,422.5 1039.2,421.9 1043.8,421.3 1048.7,420.7 1053.7,420.1 1058.9,419.5 1064.1,418.9 1069.4,418.3 1074.7,417.7 1080.0,417.1 1085.1,416.5 1090.0,416.0 1094.8,415.5 1099.6,415.1 1104.4,414.6 1109.1,414.2 1113.9,413.8 1118.6,413.4 1123.4,413.1 1128.1,412.7 1132.8,412.3 1137.5,411.9 1142.3,411.4 1147.0,411.0 1147.0,409.5" fill="#c09be0"/>
<polygon points="1007.4,469.2 1007.4,469.2 1011.6,468.8 1015.8,468.4 1020.0,468.0 1024.2,467.6 1028.4,467.1 1032.7,466.6 1037.0,466.1 1041.3,465.6 1045.6,465.1 1049.9,464.6 1054.1,464.1 1058.2,463.5 1062.2,463.0 1066.2,462.5 1070.0,462.0 1073.7,461.5 1077.4,461.0 1080.9,460.5 1084.4,460.0 1087.9,459.4 1091.2,458.9 1094.5,458.4 1097.8,457.9 1100.9,457.4 1104.0,456.9 1107.0,456.5 1110.0,456.0 1112.9,455.5 1115.7,455.1 1118.4,454.6 1121.0,454.2 1123.6,453.7 1126.1,453.3 1128.6,452.9 1131.0,452.4 1133.3,452.1 1135.6,451.7 1137.8,451.3 1140.0,451.0 1142.1,450.7 1144.2,450.4 1146.3,450.1 1148.3,449.8 1150.2,449.6 1152.1,449.3 1153.9,449.1 1155.7,448.9 1157.4,448.8 1159.0,448.7 1160.5,448.6 1162.0,448.5 1163.4,448.5 1164.6,448.5 1165.8,448.5 1167.0,448.6 1168.0,448.7 1169.0,448.8 1169.9,448.9 1170.8,449.1 1171.7,449.3 1172.5,449.5 1173.2,449.7 1174.0,450.0 1174.7,450.3 1175.4,450.5 1175.9,450.8 1176.5,451.0 1177.0,451.3 1177.4,451.7 1177.9,452.0 1178.3,452.5 1178.7,453.0 1179.1,453.5 1179.6,454.2 1180.0,455.0 1180.5,455.9 1180.9,456.7 1181.3,457.7 1181.3,462.7" fill="#c09be0"/>
<polygon points="944.6,567.9 944.6,573.9 945.2,574.5 945.8,575.1 946.4,575.6 947.0,576.1 947.7,576.6 948.3,577.0 949.0,577.3 949.7,577.6 950.4,577.9 951.2,578.1 951.9,578.3 952.7,578.5 953.4,578.7 954.2,578.8 955.0,579.0 955.8,579.2 956.5,579.3 957.3,579.4 958.1,579.5 958.8,579.6 959.6,579.6 960.5,579.7 961.3,579.7 962.3,579.7 963.3,579.6 964.4,579.6 965.6,579.5 966.8,579.4 968.0,579.3 969.2,579.2 970.4,579.1 971.7,578.9 973.1,578.7 974.6,578.5 976.2,578.3 978.1,578.0 980.1,577.7 982.4,577.4 985.0,577.0 987.9,576.6 991.0,576.1 994.3,575.6 997.9,575.0 1001.6,574.4 1005.5,573.8 1009.6,573.1 1013.7,572.5 1018.0,571.9 1022.3,571.2 1026.6,570.6 1031.0,570.0 1035.5,569.4 1040.1,568.8 1044.9,568.2 1049.8,567.6 1054.8,567.0 1059.8,566.4 1064.9,565.8 1070.0,565.3 1075.1,564.7 1080.1,564.1 1085.1,563.5 1090.0,563.0 1094.8,562.5 1099.6,561.9 1099.6,560.2" fill="#c09be0"/>
<polygon points="1020.0,608.9 1020.0,608.0 1024.2,607.6 1028.4,607.2 1032.7,606.8 1037.0,606.4 1041.3,606.0 1045.6,605.6 1049.9,605.1 1054.1,604.7 1058.2,604.3 1062.2,603.8 1066.2,603.4 1070.0,603.0 1073.7,602.6 1077.3,602.2 1080.8,601.7 1084.3,601.3 1087.6,600.9 1090.9,600.4 1094.2,600.0 1097.4,599.6 1100.6,599.2 1103.7,598.8 1106.9,598.4 1110.0,598.0 1113.1,597.6 1116.3,597.2 1119.4,596.9 1122.6,596.5 1125.6,596.1 1128.7,595.8 1131.7,595.4 1134.6,595.1 1137.4,594.8 1140.0,594.5 1142.6,594.2 1145.0,594.0 1147.3,593.8 1149.4,593.6 1151.5,593.4 1153.4,593.3 1155.3,593.1 1157.1,593.0 1158.7,592.9 1160.3,592.8 1161.9,592.7 1163.3,592.7 1164.7,592.7 1166.0,592.7 1167.2,592.7 1168.4,592.8 1169.4,592.9 1170.3,593.0 1171.2,593.1 1172.0,593.2 1172.7,593.4 1173.4,593.6 1174.1,593.8 1174.8,594.0 1175.4,594.2 1176.0,594.5 1176.6,594.7 1177.1,595.0 1177.6,595.2 1178.0,595.4 1178.4,595.6 1178.8,595.9 1179.2,596.2 1179.5,596.5 1179.9,597.0 1180.2,597.6 1180.6,598.2 1181.0,599.0 1181.0,605.0" fill="#c09be0"/>
<polygon points="942.5,700.2 942.5,705.0 943.0,705.4 943.6,705.9 944.2,706.3 944.8,706.7 945.4,707.0 946.0,707.4 946.7,707.7 947.4,708.0 948.0,708.3 948.7,708.5 949.3,708.8 950.0,709.0 950.6,709.2 951.2,709.4 951.8,709.6 952.3,709.7 952.8,709.8 953.4,709.9 954.0,710.0 954.6,710.1 955.4,710.1 956.1,710.2 957.0,710.2 958.0,710.2 959.0,710.2 959.9,710.2 960.7,710.2 961.6,710.2 962.5,710.2 963.5,710.2 964.7,710.1 966.1,710.0 967.8,709.8 969.8,709.6 972.2,709.3 975.0,709.0 978.3,708.6 982.0,708.0 986.2,707.4 990.7,706.7 995.4,706.0 1000.4,705.2 1005.5,704.5 1010.7,703.7 1015.9,702.9 1021.0,702.2 1026.1,701.6 1031.0,701.0 1035.8,700.5 1040.7,700.0 1045.6,699.5 1050.5,699.1 1055.5,698.6 1060.4,698.2 1065.4,697.8 1070.4,697.4 1075.3,697.1 1080.2,696.7 1080.2,695.0" fill="#c09be0"/>
<polygon points="1031.0,738.9 1031.0,736.0 1036.0,735.7 1041.2,735.4 1046.3,735.0 1051.5,734.7 1056.7,734.4 1061.8,734.0 1066.9,733.6 1071.8,733.3 1076.6,733.0 1081.3,732.6 1085.8,732.3 1090.0,732.0 1094.0,731.7 1097.8,731.4 1101.4,731.2 1104.9,730.9 1108.2,730.7 1111.4,730.4 1114.6,730.2 1117.7,729.9 1120.7,729.7 1123.8,729.5 1126.9,729.2 1130.0,729.0 1133.2,728.7 1136.5,728.5 1139.9,728.2 1143.2,727.9 1146.5,727.6 1149.8,727.3 1153.0,727.1 1156.0,726.8 1158.9,726.6 1161.5,726.4 1163.9,726.3 1166.0,726.2 1167.8,726.2 1169.3,726.1 1170.6,726.2 1171.7,726.2 1172.6,726.3 1173.4,726.4 1174.0,726.5 1174.6,726.7 1175.2,726.9 1175.7,727.1 1176.3,727.3 1177.0,727.5 1177.7,727.7 1178.3,728.0 1178.9,728.2 1179.4,728.4 1179.9,728.7 1180.4,729.0 1180.8,729.4 1181.3,729.8 1181.7,730.2 1182.1,730.7 1182.6,731.3 1183.0,732.0 1183.0,736.2" fill="#c09be0"/>
<polygon points="939.1,804.4 939.1,808.8 939.5,809.3 940.0,809.7 940.6,810.2 941.2,810.6 941.9,811.1 942.6,811.5 943.3,811.8 944.1,812.2 944.9,812.5 945.7,812.8 946.5,813.1 947.4,813.3 948.2,813.6 949.1,813.8 950.0,814.0 950.9,814.2 951.8,814.3 952.6,814.5 953.5,814.6 954.4,814.7 955.3,814.7 956.3,814.8 957.3,814.8 958.3,814.9 959.4,814.9 960.6,814.8 961.8,814.8 963.0,814.8 964.1,814.7 965.1,814.6 966.2,814.5 967.3,814.4 968.4,814.3 969.8,814.1 971.3,813.9 973.0,813.7 975.0,813.5 977.3,813.3 980.0,813.0 983.1,812.7 986.5,812.3 990.3,812.0 994.3,811.5 998.5,811.1 1003.0,810.6 1007.5,810.2 1012.2,809.7 1016.9,809.3 1021.7,808.8 1026.4,808.4 1031.0,808.0 1035.6,807.6 1040.4,807.3 1045.2,806.9 1050.1,806.6 1055.1,806.2 1060.1,805.9 1065.2,805.5 1070.2,805.2 1075.2,804.9 1080.2,804.6 1085.1,804.3 1090.0,804.0 1094.8,803.7 1099.6,803.4 1104.3,803.1 1109.1,802.9 1113.8,802.6 1118.5,802.4 1123.2,802.1 1127.9,801.9 1132.7,801.6 1132.7,800.5" fill="#c09be0"/>
<polygon points="1050.2,835.4 1050.2,835.4 1055.5,835.0 1060.7,834.7 1066.0,834.3 1071.2,834.0 1076.4,833.6 1081.5,833.3 1086.4,832.9 1091.2,832.6 1095.7,832.3 1100.0,832.0 1104.1,831.7 1107.9,831.5 1111.6,831.2 1115.2,831.0 1118.6,830.8 1121.9,830.6 1125.1,830.4 1128.1,830.2 1131.2,830.0 1134.1,829.8 1137.1,829.7 1140.0,829.5 1142.9,829.4 1145.8,829.2 1148.7,829.1 1151.5,829.0 1154.2,828.9 1156.9,828.8 1159.4,828.7 1161.9,828.6 1164.1,828.5 1166.3,828.5 1168.2,828.5 1170.0,828.5 1171.5,828.5 1172.9,828.6 1174.0,828.6 1175.0,828.6 1175.8,828.7 1176.5,828.8 1177.1,828.9 1177.7,829.1 1178.2,829.2 1178.8,829.5 1179.4,829.7 1180.0,830.0 1180.6,830.3 1181.3,830.7 1181.8,831.0 1182.4,831.4 1182.9,831.9 1183.4,832.3 1183.4,832.6" fill="#c09be0"/>
<polygon points="940.8,890.9 940.8,895.7 941.5,895.9 942.1,896.1 942.7,896.3 943.4,896.4 944.0,896.6 944.7,896.7 945.4,896.9 946.0,897.0 946.6,897.1 947.1,897.2 947.6,897.3 948.1,897.4 948.6,897.5 949.1,897.6 949.7,897.7 950.3,897.7 951.1,897.7 951.9,897.8 952.9,897.8 954.0,897.8 955.2,897.8 956.3,897.8 957.5,897.8 958.7,897.7 960.1,897.7 961.5,897.6 963.1,897.6 964.9,897.5 967.0,897.4 969.3,897.3 972.0,897.1 975.0,897.0 978.4,896.8 982.3,896.6 986.5,896.4 991.0,896.2 995.7,895.9 1000.6,895.7 1005.7,895.4 1010.8,895.1 1016.0,894.8 1021.1,894.6 1026.1,894.3 1031.0,894.0 1035.8,893.7 1040.7,893.4 1045.6,893.1 1050.5,892.9 1055.5,892.6 1060.4,892.2 1065.4,891.9 1065.4,889.1" fill="#c09be0"/>
<polygon points="1060.7,917.5 1060.7,915.7 1066.0,915.4 1071.2,915.0 1076.4,914.6 1081.5,914.3 1086.4,914.0 1091.2,913.6 1095.7,913.3 1100.0,913.0 1104.1,912.7 1108.0,912.4 1111.8,912.1 1115.5,911.8 1119.0,911.6 1122.4,911.3 1125.6,911.0 1128.7,910.8 1131.7,910.6 1134.6,910.3 1137.4,910.2 1140.0,910.0 1142.5,909.9 1144.8,909.7 1147.0,909.6 1149.0,909.6 1150.9,909.5 1152.8,909.4 1154.5,909.4 1156.1,909.4 1157.6,909.4 1159.1,909.4 1160.6,909.4 1162.0,909.4 1163.4,909.4 1164.6,909.5 1165.8,909.5 1166.9,909.6 1167.9,909.7 1168.9,909.7 1169.8,909.8 1170.7,910.0 1171.6,910.1 1172.4,910.2 1173.2,910.3 1174.0,910.5 1174.8,910.7 1175.5,910.8 1176.2,911.0 1176.9,911.1 1177.5,911.3 1178.1,911.5 1178.7,911.7 1179.2,911.9 1179.8,912.2 1180.3,912.5 1180.9,912.8 1181.4,913.2 1181.9,913.6 1182.5,914.0 1183.0,914.5 1183.5,915.0 1183.9,915.5 1184.4,916.0 1184.9,916.6 1184.9,917.5" fill="#c09be0"/>
<polygon points="943.1,964.0 943.1,969.3 944.0,969.5 945.0,969.8 946.0,970.0 947.1,970.2 948.2,970.4 949.4,970.5 950.7,970.6 952.0,970.7 953.3,970.8 954.7,970.8 956.1,970.9 957.5,970.9 959.0,971.0 960.4,971.0 961.8,971.0 963.1,971.0 964.3,971.0 965.4,971.1 966.5,971.1 967.6,971.0 968.7,971.0 970.0,971.0 971.4,970.9 973.1,970.9 975.0,970.8 977.3,970.7 980.0,970.5 983.1,970.3 986.5,970.1 990.3,969.8 994.3,969.5 998.5,969.2 1003.0,968.9 1007.5,968.6 1012.2,968.2 1016.9,967.9 1021.7,967.6 1026.4,967.3 1031.0,967.0 1035.6,966.7 1035.6,965.0" fill="#c09be0"/>
<polyline points="812.0,102.7 814.8,102.3 816.6,103.0 818.4,102.0 820.5,102.6 822.5,102.3 824.1,101.7 825.7,102.3 827.2,101.5 828.9,102.1 830.6,101.4 832.3,101.4 834.1,101.8 835.9,102.4 837.7,101.1 839.5,101.2 841.4,101.8 843.3,102.2 845.1,101.5 847.0,101.1 848.9,101.9 850.8,100.4 852.6,101.6 854.5,100.6 856.3,100.2 858.1,100.1 860.0,100.3 861.7,101.0 863.4,99.9 865.2,100.4 866.8,100.4 868.4,99.9 870.0,100.1 871.5,99.2 873.1,99.1 874.6,99.2 876.1,99.9 877.7,99.4 879.2,99.1 880.7,99.4 882.2,99.1 883.7,98.8 885.2,99.5 886.8,99.2 888.3,98.4 890.5,98.7 892.7,98.5 895.0,98.9 897.2,98.5 899.4,97.6 901.6,98.6 903.8,97.0 906.0,97.3 908.1,97.7 910.3,96.5 912.4,96.9 914.6,96.0 916.7,96.8 918.8,96.8 920.9,96.3 923.0,96.6 925.1,95.5 927.1,95.9 929.2,95.6 931.2,95.4 933.2,95.0 935.2,95.4 937.2,95.3 939.1,94.4 941.1,94.5 943.1,93.3 945.0,94.1 946.9,93.8 948.9,94.1 950.8,93.6 952.7,92.6 954.6,92.5 956.5,92.8 958.5,91.5 960.4,92.0 962.3,91.3 964.2,91.0 966.1,90.7 968.1,91.6 970.0,90.4 971.9,90.4 973.9,90.4 975.8,91.0 977.7,89.5 979.7,89.9 981.6,89.9 983.5,90.3 985.5,90.0 987.4,89.9 989.3,88.8 991.3,88.8 993.2,88.5 995.1,89.2 997.0,89.1 998.9,87.6 1000.9,87.4 1002.8,87.3 1004.7,87.1 1006.6,87.3 1008.5,87.2 1010.4,86.4 1012.2,85.8 1014.1,86.1 1016.0,85.8 1017.9,85.8 1019.7,86.1 1021.6,85.4 1023.4,84.8 1025.2,84.6 1027.0,84.3 1028.9,83.0 1030.7,83.9 1032.5,83.4 1034.3,83.1 1036.1,82.6 1037.9,81.6 1039.7,81.2 1041.5,80.3 1043.3,80.8 1045.1,79.4 1046.9,79.1 1048.8,78.9 1050.6,78.4 1052.5,78.3 1054.3,77.4 1056.2,77.0 1058.1,76.8 1060.0,76.4 1062.0,76.4 1063.9,75.5 1065.9,76.5 1068.0,75.7 1070.0,74.5 1072.1,74.3 1074.2,74.1 1076.3,73.7 1078.4,73.0 1080.5,73.8 1082.6,73.6 1084.8,72.4 1086.8,72.0 1088.9,71.0 1091.0,70.7 1093.0,70.7 1095.0,70.2 1097.0,70.7 1099.0,69.3 1100.9,68.7 1102.7,69.8 1104.5,68.8 1106.3,67.8 1108.0,68.1 1109.6,66.9 1111.3,67.3 1112.8,67.7 1114.4,67.1 1115.9,66.5 1117.5,65.5 1118.9,65.3 1120.4,64.6 1123.2,64.8 1125.9,63.7 1128.5,63.4 1131.0,62.1 1133.4,61.3 1135.7,61.6 1137.9,61.3 1140.0,60.6 1142.0,60.0 1143.9,59.6 1145.6,59.0 1147.3,57.7 1148.8,57.8 1150.2,57.2 1151.6,56.4 1153.0,56.1 1154.2,56.2 1155.5,55.9 1156.8,56.5 1158.0,56.7 1159.2,55.8 1160.4,56.5 1161.5,56.6 1162.6,56.5 1163.6,55.6 1164.6,55.4 1165.6,55.5 1166.5,55.6 1167.4,55.8 1168.3,56.7 1169.2,57.4 1170.0,57.5 1170.8,57.3 1171.6,57.8 1172.3,58.4 1173.0,57.6 1173.7,58.8 1174.4,59.7 1175.0,59.9 1175.6,60.4 1176.2,60.6 1176.8,60.8 1177.4,62.6 1178.0,62.7 1178.6,64.5 1179.1,65.7 1179.7,65.9 1180.2,67.0 1180.7,69.1 1181.2,70.0 1181.7,70.6 1182.2,72.0 1182.7,73.7 1183.1,76.6 1183.6,78.4 1184.0,79.4 1184.4,82.8 1184.8,85.4 1185.1,87.5 1185.5,89.7 1185.8,92.9 1186.1,95.2 1186.3,96.5 1186.4,99.5 1186.6,100.6 1186.7,102.0 1186.9,104.2 1187.0,105.0 1187.2,107.3 1187.4,108.9 1187.5,109.6 1187.7,111.3 1187.8,113.0 1188.0,114.6 1188.2,116.8 1188.3,118.0 1188.5,120.1 1188.7,121.4 1188.8,124.5 1189.0,125.4 1189.2,127.5 1189.3,129.6 1189.5,132.0 1189.7,133.2 1189.8,135.9 1190.0,137.2 1190.2,139.2 1190.3,141.1 1190.5,142.3 1190.7,144.9 1190.8,146.4 1191.0,148.1 1191.2,151.2 1191.3,152.1 1191.5,154.5 1191.7,156.8 1191.8,158.3 1192.0,159.7 1192.2,161.8 1192.3,163.7 1192.5,165.9 1192.7,166.6 1192.9,169.2 1193.0,170.5 1193.2,172.4 1193.4,175.0 1193.5,176.4 1193.7,178.3 1193.9,180.4 1194.1,182.5 1194.2,183.5 1194.4,185.5 1194.6,187.0 1194.7,188.6 1194.9,190.5 1195.1,191.7 1195.4,194.8 1195.7,197.5 1196.0,200.7 1196.3,202.5 1196.5,204.8 1196.8,206.6 1197.0,207.1 1197.3,208.9 1197.5,210.8 1197.7,211.7 1198.0,211.6 1198.2,212.6 1198.5,214.0 1198.7,214.4 1199.0,215.6 1199.2,216.2 1199.1,218.1 1198.9,219.1 1198.7,220.0 1198.4,219.5 1198.2,221.0 1198.2,221.5 1198.4,221.2 1199.0,222.8 1199.8,223.3 1201.2,222.3 1203.0,223.7 1205.4,222.9 1208.2,223.1 1209.8,223.8 1211.4,223.5 1213.2,222.3 1214.9,222.6 1216.9,222.6 1218.8,222.2 1220.8,221.8 1222.9,221.8 1225.0,222.3 1227.2,221.0 1229.4,221.6 1231.6,221.3 1233.1,220.5 1234.7,220.8 1236.2,221.2 1237.7,220.9 1239.3,220.0 1240.8,221.4 1242.3,221.0 1243.9,221.1 1245.4,219.6 1246.9,219.8 1248.5,219.4 1250.0,220.4 1251.6,219.5 1253.2,219.2 1254.8,219.6 1256.6,220.3 1258.4,220.1 1260.2,219.1 1262.1,218.8 1264.0,219.9 1265.9,219.3 1267.9,219.4 1269.9,218.3 1271.9,218.2 1273.4,219.1 1274.9,218.6 1276.4,218.0 1277.9,219.3 1279.4,218.7 1280.9,218.9 1282.4,217.7 1283.9,218.9 1285.9,217.5 1287.8,218.7 1289.8,218.0 1291.7,217.7 1293.5,217.9 1295.4,218.5 1297.1,217.3 1298.8,217.0 1300.5,217.6 1302.0,217.0 1303.6,216.8 1305.1,216.8 1307.0,216.5 1309.0,216.7 1310.5,216.8 1312.0,217.0" fill="none" stroke="#f81c2a" stroke-width="4.2" stroke-linejoin="round" stroke-linecap="round"/>
<polyline points="923.0,95.7 923.2,98.5 923.5,100.3 923.7,102.2 923.9,103.2 924.1,105.1 924.3,106.3 924.5,108.5 924.7,109.9 925.0,113.0 925.2,114.7 925.4,116.2 925.7,118.7 925.9,121.5 926.1,122.3 926.4,125.6 926.6,127.2 926.9,129.4 927.1,132.1 927.3,133.5 927.6,135.9 927.8,138.2 928.0,140.8 928.2,141.9 928.4,144.8 928.6,146.8 928.8,148.9 929.0,150.1 929.1,151.5 929.3,152.6 929.4,154.3 929.6,155.8 929.7,158.5 929.8,159.3 930.0,160.8 930.1,162.3 930.3,165.1 930.4,166.8 930.6,168.1 930.7,169.1 930.8,170.6 931.0,172.3 931.1,174.1 931.3,175.2 931.4,177.2 931.5,178.5 931.7,181.1 931.8,182.6 932.0,184.1 932.2,185.8 932.4,189.0 932.6,190.0 932.8,191.9 933.0,193.2 933.2,195.5 933.4,197.4 933.5,199.0 933.7,200.2 933.9,202.2 934.1,202.9 934.4,206.1 934.7,208.5 935.1,211.6 935.4,213.4 935.7,215.7 936.0,218.4 936.3,220.4 936.7,223.1 937.0,225.0 937.3,227.4 937.6,229.1 938.0,230.9 938.3,232.8 938.6,233.5 938.9,234.8 939.2,237.3 939.5,237.3 939.9,239.5 940.2,240.7 940.6,241.0 941.0,243.5 941.4,244.9 941.8,245.7 942.3,247.1 942.7,248.5 943.2,248.5 943.7,250.3 944.2,251.3 944.7,252.9 945.2,253.8 945.8,254.8 946.4,255.3 947.0,256.6 947.6,257.1 948.3,257.8 949.0,257.7 949.7,258.0 950.4,258.7 951.1,259.5 951.9,259.6 952.7,261.2 953.5,261.1 954.3,261.6 955.1,261.9 956.0,262.3 956.8,262.3 957.6,261.8 958.3,263.3 959.0,263.4 959.8,263.2 960.6,263.4 961.4,263.7 962.4,262.8 963.5,263.9 964.8,263.0 966.3,262.6 968.0,262.6 970.0,263.0 972.2,261.7 974.6,262.0 977.2,261.7 980.0,260.2 982.8,259.3 984.3,259.1 985.7,259.0 987.2,258.7 988.7,258.1 990.1,257.8 991.6,256.5 994.5,255.8 997.3,255.3 1000.0,255.4 1002.5,254.1 1004.9,253.9 1007.2,252.5 1009.4,252.0 1011.6,251.8 1013.8,251.9 1016.1,251.4 1018.6,250.8 1021.3,249.6 1024.2,249.4 1025.8,249.0 1027.4,248.6 1029.2,247.7 1031.0,248.6 1033.0,247.1 1034.9,248.0 1037.1,247.6 1039.2,245.7 1040.8,246.1 1042.3,246.4 1043.8,246.4 1045.4,245.3 1047.1,244.7 1048.7,244.3 1050.3,245.2 1052.0,243.7 1053.7,244.0 1055.4,243.0 1057.1,243.3 1058.9,243.7 1060.6,242.1 1062.4,242.9 1064.1,242.1 1065.9,242.4 1067.7,241.8 1069.4,240.8 1071.2,241.6 1073.0,240.6 1074.7,239.6 1076.5,239.3 1078.2,239.8 1080.0,239.4 1081.7,238.9 1083.4,238.4 1085.1,238.5 1086.7,238.2 1088.4,238.8 1090.0,237.2 1091.6,238.2 1093.2,238.1 1094.8,236.7 1096.4,237.8 1098.1,237.2 1099.7,237.3 1101.3,236.1 1102.9,236.0 1104.5,235.9 1106.1,236.6 1107.7,235.8 1109.3,235.2 1110.9,235.1 1112.5,234.7 1114.1,234.1 1115.7,234.0 1117.3,235.0 1118.9,234.0 1120.5,234.8 1122.0,233.5 1123.6,233.4 1125.2,233.6 1126.8,232.9 1128.4,233.0 1129.9,233.8 1131.5,233.5 1133.1,233.2 1134.6,232.7 1136.2,233.0 1137.8,232.8 1139.3,232.0 1140.8,232.1 1142.4,230.9 1143.9,231.8 1145.5,231.1 1147.0,231.4 1148.6,231.0 1150.2,230.3 1151.7,229.7 1153.4,230.9 1155.0,229.4 1156.7,229.7 1158.4,229.3 1160.1,229.0 1161.8,229.5 1163.5,229.6 1165.2,228.2 1166.9,228.7 1168.6,227.9 1170.3,228.0 1172.1,227.6 1173.7,227.0 1175.4,226.7 1177.1,226.6 1178.7,227.5 1180.3,226.6 1181.9,226.0 1183.4,226.9 1184.9,226.8 1186.4,225.7 1188.5,225.0 1190.6,224.8 1192.4,224.4 1194.3,224.5 1195.9,223.9 1197.5,223.9 1200.0,224.0" fill="none" stroke="#f81c2a" stroke-width="4.2" stroke-linejoin="round" stroke-linecap="round"/>
<polyline points="813.0,311.6 815.8,312.0 817.5,312.4 819.3,312.1 821.3,311.5 823.4,311.4 824.9,311.5 826.4,311.2 828.0,311.1 829.6,310.6 831.3,310.9 833.0,311.9 834.7,310.5 836.5,311.0 838.2,311.1 840.1,311.4 841.9,310.3 843.7,310.3 845.6,310.2 847.4,310.3 849.3,310.3 851.1,311.1 852.9,310.8 854.8,310.8 856.6,309.3 858.3,309.3 860.1,310.3 861.8,310.5 863.5,309.7 865.2,309.9 866.8,308.8 868.4,309.4 870.0,310.2 871.5,310.0 873.0,309.9 874.5,310.1 876.8,308.8 879.0,308.5 881.2,308.5 883.4,308.9 885.6,309.1 887.9,309.4 890.0,309.0 892.2,308.8 894.4,308.9 896.6,308.3 898.7,308.3 900.9,307.4 903.0,308.5 905.1,307.5 907.3,308.5 909.4,308.0 911.5,307.3 913.6,306.9 915.7,307.0 917.8,307.5 919.9,307.4 922.0,306.4 924.1,306.2 926.1,306.8 928.2,306.7 930.3,306.3 932.3,305.8 934.4,306.3 936.4,305.2 938.4,305.5 940.4,305.6 942.4,306.2 944.4,305.6 946.4,305.8 948.4,304.9 950.4,304.4 952.4,304.2 954.4,305.2 956.3,304.6 958.3,303.8 960.3,303.2 962.2,303.7 964.2,303.8 966.1,303.2 968.1,302.8 970.0,303.3 971.9,303.5 973.9,302.2 975.8,301.7 977.7,302.0 979.6,301.9 981.5,302.2 983.3,301.2 985.2,302.0 987.1,301.7 989.0,301.1 990.8,300.4 992.7,301.4 994.5,300.2 996.4,300.8 998.3,299.6 1000.1,299.4 1002.0,300.0 1003.8,299.1 1005.7,299.9 1007.5,299.0 1009.4,298.2 1011.3,298.0 1013.1,298.1 1015.0,298.3 1016.9,298.5 1018.7,296.9 1020.6,297.1 1022.5,296.5 1024.3,297.4 1026.2,295.8 1028.0,295.4 1029.9,295.1 1031.7,295.4 1033.6,295.9 1035.5,295.6 1037.3,295.1 1039.2,295.2 1041.0,294.8 1042.9,293.5 1044.8,293.0 1046.7,293.9 1048.5,293.3 1050.4,291.8 1052.3,292.5 1054.2,291.7 1056.1,291.4 1058.1,291.0 1060.0,290.5 1062.0,289.9 1063.9,290.0 1066.0,289.8 1068.0,290.4 1070.1,288.7 1072.2,289.7 1074.3,288.2 1076.4,288.1 1078.5,288.5 1080.6,288.1 1082.7,287.1 1084.8,286.2 1086.9,286.5 1089.0,286.0 1091.0,286.5 1093.1,285.0 1095.1,284.9 1097.1,285.4 1099.0,283.7 1100.9,284.0 1102.7,284.4 1104.6,284.0 1106.3,282.5 1108.0,282.3 1109.6,282.0 1111.3,283.1 1112.8,281.8 1114.4,282.4 1115.9,282.4 1117.4,281.2 1120.3,280.7 1123.1,281.3 1125.8,280.3 1128.4,279.4 1130.9,279.7 1133.3,278.7 1135.6,278.3 1137.8,277.5 1140.0,278.4 1142.1,278.4 1144.0,277.6 1145.8,277.8 1147.5,276.0 1149.1,276.1 1150.7,276.2 1152.2,276.8 1153.6,276.6 1155.0,275.5 1156.3,275.2 1157.7,275.4 1159.0,275.5 1160.3,276.2 1161.6,275.1 1162.8,276.3 1164.0,276.4 1165.2,276.7 1166.3,276.9 1167.3,276.9 1168.4,276.8 1169.3,277.1 1170.3,277.5 1171.2,278.6 1172.0,277.8 1172.8,278.4 1173.5,279.6 1174.1,279.2 1174.7,279.2 1175.2,279.5 1175.7,280.8 1176.1,280.9 1176.6,282.5 1177.0,282.9 1177.5,283.8 1178.0,283.4 1178.5,284.0 1179.0,285.1 1179.6,286.8 1180.1,288.3 1180.7,289.1 1181.2,290.1 1181.8,291.7 1182.3,293.5 1182.8,295.2 1183.3,296.9 1183.8,298.8 1184.3,300.3 1184.7,301.4 1185.1,304.6 1185.5,305.9 1185.8,308.7 1186.2,310.8 1186.5,313.9 1186.8,315.7 1187.1,318.4 1187.3,321.0 1187.6,323.6 1187.9,327.4 1188.3,329.5 1188.6,331.7 1189.0,334.4 1189.3,337.9 1189.7,339.7 1190.1,341.9 1190.5,345.4 1190.8,347.7 1191.2,350.9 1191.6,352.1 1192.0,355.3 1192.3,358.4 1192.7,361.0 1193.0,363.7 1193.3,364.9 1193.6,368.0 1193.8,370.4 1194.1,373.3 1194.3,377.4 1194.5,379.5 1194.8,382.7 1195.0,384.3 1195.3,387.5 1195.6,389.1 1195.9,390.8 1196.3,393.4 1196.7,395.3 1197.0,395.2 1197.4,397.2 1197.8,398.2 1198.2,398.4 1198.6,399.4 1199.0,399.6 1199.6,400.3 1200.2,400.9 1200.8,401.9 1201.6,402.5 1202.5,402.2 1203.4,402.4 1204.3,403.3 1205.2,404.2 1206.1,403.7 1207.2,404.1 1208.3,404.1 1209.5,405.2 1210.9,404.9 1212.6,404.2 1214.4,404.3 1216.6,404.8 1219.0,405.1 1221.8,405.2 1223.4,404.3 1225.0,404.3 1226.7,405.1 1228.4,404.6 1230.3,404.3 1232.2,404.2 1234.1,405.1 1236.1,404.0 1238.1,404.3 1240.2,403.8 1242.3,403.8 1244.4,404.3 1246.5,404.4 1248.6,403.3 1250.7,402.9 1252.8,403.6 1254.9,402.6 1257.0,402.2 1259.1,403.5 1261.1,402.6 1263.0,403.1 1265.0,402.3 1267.0,403.0 1269.0,402.2 1271.0,401.7 1273.1,401.3 1275.3,402.1 1277.5,402.1 1279.7,402.5 1281.9,401.0 1284.1,401.8 1286.3,401.3 1288.5,401.4 1290.6,400.7 1292.7,400.9 1294.8,401.1 1296.8,401.7 1298.7,400.3 1300.5,400.8 1302.3,401.3 1303.9,401.4 1305.6,400.1 1308.3,399.9 1310.5,400.4" fill="none" stroke="#f5501e" stroke-width="4.2" stroke-linejoin="round" stroke-linecap="round"/>
<polyline points="922.0,307.7 922.2,309.3 922.5,310.4 922.9,311.9 923.3,315.8 923.7,317.6 924.1,321.3 924.4,322.4 924.6,324.2 924.8,324.8 925.1,327.3 925.3,328.1 925.6,330.0 925.8,332.3 926.1,334.0 926.3,334.6 926.5,336.3 926.8,338.2 927.0,340.0 927.2,341.5 927.5,342.8 927.7,344.8 928.0,347.4 928.2,349.6 928.5,350.1 928.7,352.9 929.0,355.2 929.2,356.1 929.5,359.4 929.7,360.2 930.0,363.0 930.3,365.0 930.5,367.1 930.8,368.6 931.0,370.8 931.3,372.9 931.5,374.6 931.8,376.8 932.0,378.3 932.3,380.0 932.5,381.1 932.8,383.6 933.0,385.0 933.4,387.5 933.9,391.1 934.3,393.7 934.7,395.7 935.1,397.6 935.5,400.3 935.9,401.9 936.3,404.0 936.7,406.4 937.1,407.7 937.5,410.1 938.0,412.0 938.5,413.0 939.0,415.5 939.5,416.1 940.0,418.6 940.6,420.0 941.1,420.8 941.6,421.3 942.2,423.1 942.8,424.0 943.3,425.9 943.9,425.5 944.5,427.6 945.1,428.6 945.7,428.9 946.2,429.7 946.8,429.3 947.4,431.1 948.0,430.8 948.6,431.9 949.3,432.3 949.9,431.4 950.6,432.8 951.3,433.3 952.0,432.3 952.7,433.1 953.5,434.1 954.3,433.4 955.0,434.9 955.8,434.2 956.7,435.3 957.5,434.4 958.4,435.2 959.2,436.0 960.1,435.0 961.1,435.2 962.0,435.6 962.9,435.3 963.9,434.9 964.8,435.1 965.7,435.0 966.6,436.2 967.6,435.6 968.6,435.8 969.7,434.5 970.8,435.3 972.1,434.0 973.5,434.3 975.0,434.2 976.6,433.4 978.4,433.8 980.3,432.9 982.2,432.4 984.3,432.4 986.4,430.6 988.6,431.4 990.8,430.3 993.0,429.4 995.3,429.5 997.7,428.1 1000.0,428.8 1002.3,427.7 1004.5,426.9 1006.7,427.1 1008.9,426.2 1011.1,425.4 1013.4,426.0 1015.8,424.5 1018.4,425.3 1021.1,424.0 1022.6,424.4 1024.1,424.7 1025.8,423.8 1027.4,423.7 1029.2,422.9 1031.0,422.2 1033.0,422.0 1034.9,421.9 1037.1,422.4 1039.2,421.8 1040.8,421.8 1042.3,422.2 1043.8,420.8 1045.4,420.7 1047.1,421.2 1048.7,420.0 1050.3,419.7 1052.0,420.1 1053.7,419.5 1055.4,419.7 1057.1,419.3 1058.9,419.6 1060.6,419.4 1062.4,418.6 1064.1,419.1 1065.9,418.6 1067.7,417.9 1069.4,419.0 1071.2,417.6 1073.0,417.3 1074.7,417.0 1076.5,417.7 1078.2,417.9 1080.0,417.5 1081.7,416.7 1083.4,416.3 1085.1,415.7 1086.7,416.6 1088.4,416.3 1090.0,415.8 1091.6,416.1 1093.2,415.6 1094.8,416.2 1096.4,415.7 1098.0,414.8 1099.6,415.7 1101.2,414.2 1102.8,414.8 1104.4,414.5 1106.0,414.1 1107.6,413.7 1109.1,414.7 1110.7,413.3 1112.3,414.0 1113.9,414.5 1115.5,413.1 1117.0,413.1 1118.6,413.6 1120.2,413.3 1121.8,413.4 1123.4,413.6 1124.9,412.4 1126.5,412.5 1128.1,412.3 1129.6,411.8 1131.2,413.0 1132.8,412.7 1134.4,412.5 1135.9,411.2 1137.5,412.4 1139.1,412.1 1140.7,411.5 1142.3,411.8 1143.8,411.2 1145.4,410.7 1147.0,410.4 1148.6,410.4 1150.3,409.9 1151.9,410.3 1153.7,410.7 1155.4,410.5 1157.2,410.5 1159.0,410.1 1160.8,409.2 1162.6,409.5 1164.4,409.1 1166.3,409.5 1168.1,408.9 1170.0,408.3 1171.8,408.7 1173.6,409.0 1175.4,407.6 1177.3,408.5 1179.1,406.9 1180.8,407.1 1182.5,406.9 1184.3,407.5 1185.9,407.7 1187.6,407.2 1189.2,406.3 1190.7,407.0 1192.2,406.0 1193.8,405.7 1195.8,406.5 1197.8,405.9 1199.5,405.8 1201.2,405.6 1204.0,405.0" fill="none" stroke="#f5501e" stroke-width="4.2" stroke-linejoin="round" stroke-linecap="round"/>
<polyline points="813.5,477.4 816.2,476.5 818.0,477.1 819.7,476.8 821.7,477.0 823.7,476.3 825.2,476.7 826.8,476.4 828.3,476.0 829.9,475.8 831.6,476.4 833.2,475.5 835.0,476.8 836.7,475.6 838.4,475.3 840.2,475.4 842.0,476.7 843.8,475.7 845.7,475.4 847.5,475.2 849.3,475.2 851.2,476.2 853.0,476.0 854.8,476.1 856.6,476.1 858.4,475.0 860.1,475.8 861.8,475.4 863.5,476.1 865.2,476.1 866.8,476.2 868.4,474.8 870.0,476.1 871.5,476.1 873.0,476.2 874.6,474.8 876.1,474.9 877.6,474.8 879.1,474.6 880.6,475.9 882.1,475.8 883.6,475.5 885.1,475.8 886.6,475.5 888.1,474.9 890.4,474.6 892.6,474.6 894.9,475.6 897.1,474.7 899.3,474.9 901.5,475.0 903.7,474.4 905.9,474.7 908.1,474.7 910.3,475.4 912.4,474.8 914.6,474.7 916.7,475.6 918.8,474.8 920.9,475.3 923.0,474.9 925.1,473.9 927.1,474.4 929.1,474.4 931.1,474.8 933.1,474.0 935.1,474.5 937.1,474.1 939.0,473.5 940.9,474.5 942.9,473.1 944.8,474.2 946.7,473.0 948.6,472.6 950.5,472.8 952.4,473.6 954.3,473.8 956.3,472.1 958.2,472.8 960.1,472.7 962.1,473.0 964.0,471.9 966.0,472.3 968.0,471.9 970.0,472.5 972.0,471.5 974.1,472.4 976.1,471.2 978.2,471.0 980.2,471.6 982.3,471.1 984.4,470.4 986.4,471.1 988.5,470.0 990.6,471.0 992.7,470.7 994.8,470.7 996.9,470.2 999.0,469.6 1001.1,469.5 1003.2,469.4 1005.3,470.0 1007.4,468.5 1009.5,469.6 1011.6,468.0 1013.7,468.1 1015.8,468.0 1017.9,468.8 1020.0,468.0 1022.1,467.6 1024.2,468.2 1026.3,466.9 1028.4,467.1 1030.6,466.9 1032.7,467.0 1034.9,466.8 1037.0,466.4 1039.2,465.7 1041.3,465.4 1043.5,464.8 1045.6,465.7 1047.8,465.1 1049.9,465.0 1052.0,463.8 1054.1,464.0 1056.1,464.2 1058.2,463.7 1060.2,462.7 1062.2,463.0 1064.2,463.4 1066.2,462.1 1068.1,461.8 1070.0,461.7 1071.9,462.1 1073.7,462.0 1075.5,460.7 1077.4,460.4 1079.1,460.3 1080.9,460.2 1082.7,460.3 1084.4,459.4 1086.2,459.4 1087.9,459.0 1089.6,460.0 1091.2,459.3 1092.9,458.0 1094.5,459.2 1096.2,457.5 1097.8,457.7 1099.4,458.5 1100.9,457.9 1102.5,457.6 1104.0,456.8 1105.5,456.2 1107.0,456.7 1110.0,455.4 1112.9,455.1 1115.7,454.9 1118.4,453.9 1121.0,454.0 1123.6,454.2 1126.1,453.6 1128.6,452.9 1131.0,452.7 1133.3,452.0 1135.6,451.1 1137.8,451.5 1140.0,450.8 1142.1,451.1 1144.2,451.0 1146.3,450.0 1148.3,450.0 1150.2,450.0 1152.1,449.2 1153.9,448.7 1155.7,449.3 1157.4,449.4 1159.0,449.1 1160.5,448.9 1162.0,449.1 1163.4,448.8 1164.6,448.7 1165.8,448.4 1167.0,448.3 1168.0,448.9 1169.0,448.1 1169.9,448.8 1170.8,449.5 1171.7,449.6 1172.5,449.7 1173.2,449.3 1174.0,449.9 1174.7,450.2 1175.4,450.7 1175.9,450.6 1176.5,451.3 1177.0,452.0 1177.4,451.1 1177.9,452.3 1178.3,452.9 1178.7,452.8 1179.1,453.5 1179.6,455.0 1180.0,454.3 1180.5,455.9 1180.9,456.2 1181.3,458.1 1181.7,459.4 1182.2,459.8 1182.6,460.3 1183.0,462.3 1183.4,463.6 1183.8,465.3 1184.2,466.5 1184.6,468.4 1185.0,470.5 1185.4,472.0 1185.8,474.0 1186.2,477.2 1186.7,478.4 1187.1,481.7 1187.5,483.9 1187.9,487.2 1188.3,488.8 1188.8,492.9 1189.2,494.6 1189.6,496.7 1190.0,499.6 1190.4,502.4 1190.9,504.4 1191.3,507.7 1191.7,510.4 1192.2,513.5 1192.6,515.6 1193.1,518.0 1193.5,520.5 1193.9,523.8 1194.3,526.5 1194.7,528.0 1195.0,529.6 1195.3,532.4 1195.6,533.6 1195.8,535.0 1196.0,536.5 1196.2,539.1 1196.4,540.6 1196.6,541.7 1196.9,542.7 1197.1,544.0 1197.3,544.6 1197.7,546.8 1198.0,546.8 1198.4,548.0 1198.7,549.0 1199.1,549.6 1199.4,549.5 1199.8,549.6 1200.2,550.4 1200.6,549.9 1201.1,551.3 1201.7,550.7 1202.4,551.7 1203.1,550.9 1204.0,551.3 1204.9,551.3 1205.8,551.7 1206.6,551.4 1207.5,551.2 1208.5,552.4 1209.6,551.7 1210.8,551.7 1212.1,551.8 1213.7,552.0 1215.5,551.9 1217.6,552.2 1220.0,552.3 1222.7,551.7 1224.3,552.6 1225.8,552.5 1227.5,551.2 1229.2,552.4 1231.0,552.5 1232.8,552.2 1234.8,551.2 1236.7,552.2 1238.7,551.9 1240.7,550.8 1242.7,550.8 1244.7,552.2 1246.8,551.7 1248.9,551.0 1251.0,550.7 1253.0,550.7 1255.1,550.8 1257.1,551.6 1259.1,550.9 1261.1,550.5 1263.1,551.7 1265.0,551.5 1267.0,550.4 1268.9,551.5 1271.0,551.0 1273.1,551.2 1275.2,551.0 1277.4,551.3 1279.6,551.1 1281.8,551.1 1284.0,550.0 1286.2,550.8 1288.4,550.4 1290.6,550.7 1292.7,550.2 1294.7,550.8 1296.7,550.3 1298.7,549.7 1300.5,549.6 1302.3,549.4 1303.9,550.0 1305.5,549.2 1308.3,549.8 1310.5,549.8" fill="none" stroke="#f29222" stroke-width="4.2" stroke-linejoin="round" stroke-linecap="round"/>
<polyline points="923.0,474.1 923.2,476.1 923.5,477.9 923.9,480.0 924.3,482.8 924.7,483.9 925.1,487.9 925.6,490.1 926.1,493.2 926.3,494.8 926.6,496.6 926.8,497.3 927.1,498.9 927.3,501.3 927.5,501.4 928.0,505.2 928.2,506.7 928.5,507.3 928.7,509.9 928.9,511.6 929.2,513.7 929.4,514.5 929.7,517.3 929.9,518.3 930.2,520.1 930.4,522.6 930.7,523.0 930.9,525.9 931.2,527.6 931.4,528.9 931.7,531.5 932.0,532.5 932.2,534.4 932.5,536.1 932.7,538.1 933.0,538.9 933.2,540.7 933.5,542.2 934.0,545.1 934.5,548.0 935.0,549.4 935.5,552.4 936.0,553.7 936.5,555.7 937.0,557.0 937.5,559.0 938.0,561.3 938.5,562.2 939.0,563.8 939.5,564.4 940.0,565.7 940.5,566.9 941.0,568.5 941.5,569.6 942.0,570.7 942.5,570.4 943.0,572.3 943.6,573.2 944.1,573.4 944.6,573.2 945.2,574.2 945.8,574.3 946.4,575.1 947.0,576.8 947.7,576.7 948.3,577.2 949.0,577.8 949.7,578.3 950.4,578.0 951.2,578.3 951.9,578.5 952.7,578.8 953.4,578.8 954.2,579.1 955.0,578.5 955.8,579.4 956.5,579.2 957.3,579.8 958.1,578.9 958.8,579.1 959.6,578.9 960.5,580.1 961.3,580.3 962.3,579.9 963.3,579.4 964.4,580.1 965.6,580.0 966.8,579.5 968.0,578.9 969.2,578.9 970.4,578.9 971.7,578.6 973.1,578.6 974.6,578.7 976.2,579.0 978.1,577.3 980.1,577.8 982.4,576.6 985.0,576.4 987.9,577.1 989.4,576.5 991.0,576.8 992.7,575.7 994.3,574.8 996.1,575.1 997.9,575.1 999.8,575.4 1001.6,575.2 1003.6,574.1 1005.5,573.6 1007.5,572.8 1009.6,573.4 1011.6,572.4 1013.7,571.9 1015.8,571.4 1018.0,571.1 1020.1,571.8 1022.3,570.6 1024.5,571.7 1026.6,569.9 1028.8,570.9 1031.0,569.4 1032.5,569.0 1034.0,570.0 1035.5,569.0 1037.0,569.6 1038.6,568.5 1040.1,568.1 1041.7,569.1 1043.3,568.8 1044.9,568.8 1046.5,568.4 1048.1,567.2 1049.8,567.8 1051.4,567.8 1053.1,567.2 1054.8,567.7 1056.4,566.4 1058.1,567.4 1059.8,566.8 1061.5,565.5 1063.2,565.3 1064.9,566.1 1066.6,566.2 1068.3,564.8 1070.0,565.0 1071.7,565.4 1073.4,564.3 1075.1,565.3 1076.8,564.5 1078.4,563.6 1080.1,563.9 1081.8,564.0 1083.5,563.6 1085.1,563.8 1086.7,562.8 1088.4,563.7 1090.0,562.8 1091.6,563.1 1093.2,562.8 1094.8,562.3 1096.4,562.1 1098.0,562.6 1099.6,562.6 1101.2,562.2 1102.8,561.7 1104.4,561.1 1106.0,560.5 1107.6,561.8 1109.1,561.2 1110.7,561.3 1112.3,560.3 1113.9,560.6 1115.5,561.0 1117.0,560.6 1118.6,560.1 1120.2,559.4 1121.8,559.5 1123.4,560.0 1124.9,559.1 1126.5,559.4 1128.1,559.1 1129.6,559.4 1131.2,559.1 1132.8,558.1 1134.4,557.5 1135.9,557.7 1137.5,557.8 1139.1,557.9 1140.7,558.1 1142.3,558.1 1143.8,556.6 1145.4,557.7 1147.0,557.5 1148.6,557.4 1150.3,556.8 1151.9,556.1 1153.7,556.9 1155.4,556.7 1157.2,556.3 1159.0,556.5 1160.8,555.4 1162.6,554.8 1164.4,555.4 1166.3,555.6 1168.1,554.4 1170.0,555.1 1171.8,555.3 1173.6,554.0 1175.4,554.4 1177.3,554.3 1179.1,553.8 1180.8,553.2 1182.5,553.2 1184.3,553.8 1185.9,553.7 1187.6,553.0 1189.2,552.2 1190.7,553.3 1192.2,553.1 1193.8,552.0 1195.8,552.4 1197.8,552.7 1199.5,552.5 1201.2,551.8 1204.0,551.5" fill="none" stroke="#f29222" stroke-width="4.2" stroke-linejoin="round" stroke-linecap="round"/>
<polyline points="813.5,617.8 816.2,617.9 818.0,617.2 819.7,617.1 821.7,617.0 823.7,617.8 825.2,617.2 826.8,617.5 828.3,617.2 829.9,617.3 831.6,616.6 833.2,616.4 835.0,617.9 836.7,616.8 838.4,616.4 840.2,617.1 842.0,617.3 843.8,616.3 845.7,616.9 847.5,616.4 849.3,616.7 851.2,615.8 853.0,615.8 854.8,617.2 856.6,617.0 858.4,616.3 860.1,616.4 861.8,615.9 863.5,616.6 865.2,616.0 866.8,616.8 868.4,616.5 870.0,616.5 871.5,616.7 873.0,615.5 874.6,615.1 876.1,615.4 877.6,615.3 879.1,615.1 880.6,615.0 882.1,615.8 883.6,616.3 885.1,615.6 886.6,616.3 888.1,616.2 890.4,614.8 892.6,615.7 894.9,615.3 897.1,614.8 899.3,616.1 901.5,614.9 903.7,615.4 905.9,615.4 908.1,615.9 910.3,615.4 912.4,614.9 914.6,614.9 916.7,614.4 918.8,615.6 920.9,615.6 923.0,614.3 925.1,613.9 927.1,614.1 929.1,614.2 931.1,615.0 933.1,614.9 935.1,614.7 937.1,613.3 939.0,614.4 940.9,614.2 942.9,614.0 944.8,614.4 946.7,612.8 948.6,612.8 950.5,613.7 952.4,613.9 954.3,613.3 956.3,612.6 958.2,612.9 960.1,613.1 962.1,611.9 964.0,612.1 966.0,611.9 968.0,611.5 970.0,612.0 972.0,611.3 974.1,611.3 976.1,611.0 978.2,611.7 980.2,610.5 982.3,611.5 984.4,610.5 986.4,610.1 988.5,611.3 990.6,610.0 992.7,611.0 994.8,610.7 996.9,610.6 999.0,609.2 1001.1,609.5 1003.2,608.8 1005.3,610.0 1007.4,609.6 1009.5,609.1 1011.6,608.7 1013.7,608.3 1015.8,608.9 1017.9,608.2 1020.0,608.2 1022.1,607.2 1024.2,607.2 1026.3,606.7 1028.4,607.6 1030.6,607.1 1032.7,606.3 1034.9,607.2 1037.0,606.0 1039.2,606.1 1041.3,605.4 1043.5,605.4 1045.6,606.1 1047.8,605.1 1049.9,604.6 1052.0,604.9 1054.1,604.4 1056.1,605.1 1058.2,603.7 1060.2,604.8 1062.2,603.1 1064.2,604.3 1066.2,603.7 1068.1,602.7 1070.0,603.0 1071.8,602.4 1073.7,602.2 1075.5,601.9 1077.3,601.9 1079.1,602.7 1080.8,602.5 1082.5,602.2 1084.3,600.7 1085.9,600.7 1087.6,601.5 1089.3,599.9 1090.9,600.8 1092.6,599.9 1094.2,600.8 1095.8,599.0 1097.4,600.1 1099.0,599.1 1100.6,598.6 1102.2,598.2 1103.7,599.3 1105.3,598.6 1106.9,597.9 1108.4,598.1 1110.0,598.7 1111.6,597.4 1113.1,597.7 1114.7,596.9 1116.3,596.7 1117.9,597.5 1119.4,597.2 1121.0,596.2 1122.6,595.8 1124.1,595.6 1125.6,596.3 1127.2,595.9 1128.7,595.4 1131.7,595.0 1134.6,595.3 1137.4,595.1 1140.0,595.0 1142.6,594.4 1145.0,593.5 1147.3,593.1 1149.4,594.0 1151.5,593.3 1153.4,593.6 1155.3,592.4 1157.1,593.5 1158.7,592.6 1160.3,593.4 1161.9,593.3 1163.3,592.7 1164.7,591.9 1166.0,593.4 1167.2,592.7 1168.4,593.4 1169.4,592.5 1170.3,592.5 1171.2,593.6 1172.0,593.0 1172.7,592.9 1173.4,593.4 1174.1,593.9 1174.8,593.2 1175.4,594.3 1176.0,594.4 1176.6,594.8 1177.1,594.4 1177.6,595.5 1178.0,595.9 1178.4,596.2 1178.8,595.6 1179.2,596.5 1179.5,596.4 1179.9,597.4 1180.2,596.9 1180.6,598.8 1181.0,599.7 1181.4,599.9 1181.8,600.9 1182.2,601.9 1182.7,603.0 1183.1,603.4 1183.5,606.2 1183.9,606.3 1184.3,607.7 1184.8,609.1 1185.2,611.0 1185.6,613.6 1186.0,614.2 1186.4,616.4 1186.8,619.5 1187.2,621.0 1187.7,623.2 1188.1,626.7 1188.5,629.2 1188.9,631.8 1189.3,634.8 1189.8,636.5 1190.2,640.4 1190.6,642.8 1191.0,644.3 1191.4,647.0 1191.9,650.2 1192.3,652.9 1192.7,655.3 1193.2,657.8 1193.6,661.0 1194.1,663.2 1194.5,666.5 1194.9,669.3 1195.3,670.5 1195.7,673.2 1196.0,675.4 1196.3,676.1 1196.6,678.7 1196.8,680.2 1197.0,680.5 1197.2,681.6 1197.4,683.2 1197.6,683.6 1197.9,684.2 1198.1,685.8 1198.3,686.2 1198.7,686.1 1199.0,686.6 1199.2,687.3 1199.3,688.0 1199.1,689.3 1199.0,689.3 1198.8,689.8 1198.8,689.9 1198.9,690.1 1199.3,689.0 1200.0,689.8 1201.1,690.6 1202.8,690.6 1205.0,689.6 1207.9,689.9 1209.6,690.2 1211.4,689.7 1213.4,690.0 1215.4,689.2 1217.6,689.7 1219.9,689.7 1221.5,688.9 1223.1,689.0 1224.7,690.3 1226.4,689.9 1228.0,690.1 1229.7,689.5 1231.5,689.7 1233.2,689.8 1234.9,689.7 1236.7,688.3 1238.4,689.2 1240.2,688.5 1241.9,689.1 1243.7,688.3 1245.4,688.7 1247.1,689.2 1248.8,688.7 1250.5,688.0 1252.2,688.4 1253.8,688.1 1255.4,688.9 1256.9,687.8 1258.5,687.7 1260.0,688.2 1261.5,687.3 1263.0,688.0 1264.5,688.6 1266.1,687.8 1267.7,687.3 1269.3,687.6 1270.9,687.6 1272.5,687.0 1274.1,686.9 1275.8,686.8 1277.4,687.0 1279.0,687.1 1280.7,686.9 1282.3,686.7 1283.9,686.4 1285.5,687.1 1287.1,687.5 1288.7,687.1 1290.2,686.9 1291.7,687.0 1293.3,686.2 1295.4,686.9 1297.6,686.5 1299.6,686.5 1301.5,686.5 1303.3,686.2 1305.1,685.9 1306.6,685.7 1308.1,685.7 1310.5,686.0" fill="none" stroke="#ebb823" stroke-width="4.2" stroke-linejoin="round" stroke-linecap="round"/>
<polyline points="923.0,614.7 923.2,616.0 923.5,618.1 923.9,619.3 924.3,622.1 924.7,625.5 925.2,627.2 925.7,630.6 926.1,633.4 926.6,636.0 927.1,640.1 927.6,641.9 928.0,645.4 928.4,647.3 928.8,650.1 929.0,652.9 929.2,653.7 929.5,654.7 929.7,656.8 929.9,658.4 930.1,660.5 930.3,661.1 930.5,662.8 930.7,665.6 930.9,666.8 931.1,667.3 931.3,669.2 931.8,672.1 932.2,675.4 932.6,677.8 933.0,680.6 933.4,682.6 933.8,684.1 934.3,686.3 934.7,688.1 935.1,689.7 935.5,690.7 936.0,692.6 936.4,693.8 936.8,695.3 937.2,695.2 937.6,697.5 938.0,697.2 938.4,699.4 938.7,700.0 939.1,700.6 939.4,702.0 939.8,702.0 940.1,702.2 940.4,703.3 940.8,703.9 941.2,703.9 941.6,703.9 942.0,704.5 942.5,704.9 943.0,705.8 943.6,705.5 944.2,706.1 944.8,706.7 945.4,706.8 946.0,707.1 946.7,708.1 947.4,708.5 948.0,708.3 948.7,708.4 949.3,708.3 950.0,708.7 950.6,708.6 951.2,709.5 951.8,709.7 952.3,709.0 952.8,710.5 953.4,709.6 954.0,710.6 954.6,710.6 955.4,710.9 956.1,709.7 957.0,710.1 958.0,710.9 959.0,709.4 959.9,709.5 960.7,710.3 961.6,710.2 962.5,710.9 963.5,710.6 964.7,710.2 966.1,710.8 967.8,709.9 969.8,709.6 972.2,709.6 975.0,708.8 976.6,708.6 978.3,708.7 980.2,708.1 982.0,708.7 984.1,708.0 986.2,707.4 987.7,706.5 989.2,706.8 990.7,706.6 992.2,706.6 993.8,706.4 995.4,706.6 997.1,706.5 998.7,705.5 1000.4,705.1 1002.1,705.2 1003.8,705.5 1005.5,704.2 1007.2,704.3 1008.9,704.5 1010.7,703.2 1012.4,703.2 1014.1,704.0 1015.9,703.5 1017.6,702.7 1019.3,701.9 1021.0,702.9 1022.7,702.3 1024.4,702.3 1026.1,702.4 1027.7,702.0 1029.4,701.1 1031.0,700.5 1032.6,700.5 1034.2,700.7 1035.8,700.5 1037.4,699.8 1039.1,699.6 1040.7,700.2 1042.3,700.0 1044.0,699.4 1045.6,700.3 1047.2,699.6 1048.9,698.5 1050.5,698.9 1052.2,699.4 1053.8,698.5 1055.5,698.9 1057.1,697.7 1058.8,698.0 1060.4,698.8 1062.1,698.2 1063.8,698.2 1065.4,697.3 1067.1,697.7 1068.7,697.7 1070.4,697.1 1072.0,697.6 1073.7,697.2 1075.3,697.9 1077.0,697.1 1078.6,696.7 1080.2,696.1 1081.9,696.0 1083.5,696.9 1085.1,695.7 1086.8,695.6 1088.4,695.6 1090.0,696.0 1091.6,696.4 1093.2,695.9 1094.8,696.1 1096.4,694.8 1098.0,694.6 1099.6,695.8 1101.2,694.9 1102.8,695.4 1104.4,694.8 1105.9,694.4 1107.5,694.4 1109.1,694.0 1110.7,695.2 1112.3,694.6 1113.8,694.1 1115.4,694.2 1117.0,694.0 1118.6,693.4 1120.1,694.6 1121.7,694.0 1123.3,694.5 1124.9,693.6 1126.4,693.8 1128.0,693.1 1129.6,692.7 1131.2,694.0 1132.7,693.8 1134.3,692.9 1135.9,693.7 1137.5,693.5 1139.1,692.6 1140.6,693.0 1142.2,693.5 1143.8,692.7 1145.4,693.3 1147.0,692.1 1148.7,692.2 1150.3,692.7 1152.0,691.8 1153.7,691.9 1155.5,692.7 1157.3,692.0 1159.1,692.4 1161.0,691.4 1162.8,691.2 1164.7,691.4 1166.5,691.1 1168.4,692.3 1170.3,691.1 1172.2,691.4 1174.0,690.6 1175.9,691.2 1177.7,690.9 1179.6,690.9 1181.3,690.3 1183.1,690.3 1184.9,691.3 1186.6,690.5 1188.2,690.3 1189.9,690.1 1191.5,690.2 1193.0,690.1 1194.6,689.7 1196.6,690.6 1198.7,690.0 1200.4,689.6 1202.2,690.4 1205.0,690.0" fill="none" stroke="#ebb823" stroke-width="4.2" stroke-linejoin="round" stroke-linecap="round"/>
<polyline points="813.5,745.1 816.2,745.3 818.0,746.2 819.7,744.9 821.7,745.4 823.7,745.9 825.3,745.8 826.8,744.7 828.3,745.0 829.9,745.5 831.6,744.9 833.2,745.7 835.0,744.4 836.7,745.6 838.5,744.8 840.3,744.3 842.1,744.5 843.9,744.0 845.7,744.8 847.5,744.0 849.4,745.0 851.2,744.4 853.0,744.0 854.8,743.7 856.6,744.2 858.4,743.5 860.2,744.5 861.9,743.2 863.6,743.8 865.3,743.8 866.8,743.3 868.4,744.0 870.0,743.3 871.5,743.7 873.0,743.5 874.5,743.0 876.0,743.1 877.5,742.6 879.0,742.7 881.3,743.7 883.5,742.7 885.8,743.2 888.0,742.2 890.2,742.9 892.4,742.5 894.6,742.6 896.8,742.2 899.0,741.8 901.2,742.1 903.4,741.9 905.5,741.7 907.7,742.5 909.8,741.8 912.0,741.9 914.1,742.6 916.2,742.3 918.3,742.4 920.4,742.3 922.5,741.0 924.5,741.1 926.6,740.7 928.6,741.6 930.5,741.5 932.5,740.9 934.4,740.9 936.3,741.2 938.2,741.1 940.1,740.3 942.0,741.1 943.8,740.2 945.7,740.6 947.6,739.7 949.5,739.5 951.4,740.7 953.4,740.3 955.3,740.1 957.3,739.0 959.3,738.8 961.4,738.9 963.5,738.9 965.6,738.9 967.8,738.9 970.0,738.3 971.5,738.6 973.1,739.1 974.6,738.3 976.2,739.2 977.8,738.7 979.4,738.9 981.1,738.1 982.7,738.3 984.3,738.6 986.0,738.0 987.7,737.3 989.4,738.6 991.1,738.4 992.8,737.6 994.6,737.1 996.3,738.3 998.0,737.8 999.8,736.9 1001.5,737.1 1003.3,736.8 1005.0,737.8 1006.8,736.8 1008.6,737.8 1010.3,737.5 1012.1,736.3 1013.8,737.2 1015.6,736.7 1017.3,737.1 1019.1,737.2 1020.8,736.2 1022.5,735.8 1024.2,737.1 1025.9,736.2 1027.6,736.9 1029.3,736.4 1031.0,736.4 1032.7,736.4 1034.4,736.0 1036.0,735.6 1037.8,734.9 1039.5,735.8 1041.2,735.3 1042.9,735.3 1044.6,735.8 1046.3,734.5 1048.1,735.4 1049.8,734.1 1051.5,735.0 1053.2,735.1 1055.0,734.1 1056.7,734.4 1058.4,735.0 1060.1,734.3 1061.8,734.1 1063.5,733.5 1065.2,733.1 1066.9,733.4 1068.5,733.4 1070.2,732.9 1071.8,733.0 1073.4,732.6 1075.0,733.4 1076.6,733.2 1078.2,732.4 1079.7,732.3 1081.3,732.6 1083.5,732.4 1085.8,733.0 1087.9,731.9 1090.0,731.7 1092.0,732.5 1094.0,731.1 1095.9,731.7 1097.8,731.2 1099.6,731.8 1101.4,731.3 1103.2,731.5 1104.9,730.4 1106.6,731.1 1108.2,730.8 1109.8,730.5 1111.4,730.9 1113.0,730.8 1114.6,729.6 1116.1,729.7 1117.7,729.7 1119.2,729.4 1120.7,729.0 1122.3,729.2 1123.8,729.0 1125.3,729.7 1126.9,729.2 1128.4,728.5 1130.0,728.7 1131.6,728.8 1133.2,728.5 1134.9,728.1 1136.5,727.8 1138.2,727.5 1139.9,729.0 1141.5,728.4 1143.2,727.2 1144.9,728.1 1146.5,728.4 1148.2,727.6 1149.8,726.7 1151.4,727.2 1153.0,727.0 1154.5,726.4 1156.0,726.9 1158.9,725.8 1161.5,727.1 1163.9,726.5 1166.0,726.4 1167.8,726.9 1169.3,726.4 1170.6,725.8 1171.7,725.8 1172.6,725.7 1173.4,725.6 1174.0,727.0 1174.6,727.2 1175.2,726.5 1175.7,726.5 1176.3,727.5 1177.0,728.1 1177.7,728.4 1178.3,727.4 1178.9,728.7 1179.4,729.0 1179.9,729.1 1180.4,728.7 1180.8,728.9 1181.3,730.3 1181.7,729.9 1182.1,730.5 1182.6,731.4 1183.0,731.8 1183.5,733.3 1183.9,733.2 1184.3,733.8 1184.8,735.6 1185.2,736.7 1185.6,738.0 1186.0,739.0 1186.4,740.5 1186.8,741.8 1187.2,742.3 1187.6,743.6 1188.0,744.5 1188.4,746.1 1188.7,748.0 1189.1,748.8 1189.4,751.4 1189.7,752.2 1190.1,754.3 1190.4,756.9 1190.7,757.3 1191.0,759.0 1191.3,761.4 1191.7,762.7 1192.0,765.4 1192.3,766.0 1192.7,769.2 1193.0,771.2 1193.3,773.1 1193.7,774.5 1194.0,776.2 1194.3,778.8 1194.7,780.4 1195.0,782.1 1195.3,783.7 1195.7,785.4 1196.0,787.3 1196.3,788.9 1196.6,790.2 1197.0,790.2 1197.3,791.5 1197.6,792.8 1197.9,793.9 1198.2,794.4 1198.5,795.0 1198.9,795.5 1199.2,796.6 1199.6,797.4 1200.0,798.8 1200.3,799.1 1200.3,799.4 1200.2,799.9 1200.1,800.0 1199.9,799.6 1199.9,800.0 1200.0,798.8 1200.4,799.8 1201.1,799.7 1202.2,799.1 1203.8,799.5 1206.0,800.1 1208.8,799.3 1210.5,799.6 1212.3,799.0 1214.2,799.0 1216.2,799.8 1218.4,798.3 1220.6,798.5 1222.1,799.2 1223.7,798.8 1225.3,798.2 1226.9,799.0 1228.6,798.5 1230.2,798.8 1231.9,798.5 1233.6,798.6 1235.3,798.6 1237.0,798.2 1238.8,797.7 1240.5,797.8 1242.2,798.8 1243.9,798.2 1245.6,797.4 1247.3,798.6 1249.0,797.5 1250.6,797.2 1252.3,797.8 1253.9,797.3 1255.5,797.7 1257.0,797.7 1258.5,797.1 1260.0,797.6 1262.2,796.8 1264.5,797.4 1266.1,797.4 1267.6,796.5 1269.2,797.0 1270.8,796.4 1272.4,796.9 1274.1,797.5 1275.7,797.0 1277.3,797.2 1279.0,797.2 1280.6,796.1 1282.2,797.4 1283.8,796.9 1285.4,795.9 1287.0,797.0 1288.6,796.2 1290.2,795.8 1291.7,797.0 1293.2,796.3 1295.4,796.5 1297.5,795.4 1299.5,796.4 1301.5,795.2 1303.3,795.4 1305.0,795.5 1306.6,794.9 1308.1,795.7 1310.5,795.5" fill="none" stroke="#d8c229" stroke-width="4.2" stroke-linejoin="round" stroke-linecap="round"/>
<polyline points="922.5,741.1 922.7,742.4 923.0,744.5 923.3,745.6 923.6,748.2 924.0,749.8 924.4,752.3 924.9,754.1 925.3,756.9 925.7,759.1 926.2,760.2 926.6,763.3 927.0,764.7 927.4,767.5 927.8,769.5 928.2,771.9 928.7,773.1 929.1,775.7 929.5,778.5 930.0,781.1 930.4,782.9 930.8,783.8 931.2,786.7 931.6,787.7 932.0,790.1 932.4,792.0 932.7,792.3 933.1,794.9 933.4,795.7 933.7,796.2 934.0,797.1 934.3,798.5 934.7,800.1 935.0,800.6 935.3,800.7 935.6,801.4 936.0,802.4 936.3,804.3 936.7,804.1 937.0,805.4 937.3,805.6 937.6,806.9 938.0,807.0 938.3,807.2 938.7,808.9 939.1,808.8 939.5,809.6 940.0,810.2 940.6,810.9 941.2,809.9 941.9,810.8 942.6,810.9 943.3,811.8 944.1,812.8 944.9,813.0 945.7,812.1 946.5,812.6 947.4,813.8 948.2,813.9 949.1,813.6 950.0,814.0 950.9,813.6 951.8,814.9 952.6,814.3 953.5,815.2 954.4,814.9 955.3,814.1 956.3,814.5 957.3,814.4 958.3,815.5 959.4,815.0 960.6,814.1 961.8,814.3 963.0,814.5 964.1,814.6 965.1,814.7 966.2,814.3 967.3,814.2 968.4,813.5 969.8,814.2 971.3,813.7 973.0,813.0 975.0,813.5 977.3,814.0 980.0,812.3 981.5,812.3 983.1,813.0 984.8,812.2 986.5,812.0 988.4,812.1 990.3,811.6 992.3,811.9 994.3,811.6 996.4,812.0 998.5,811.9 1000.7,810.1 1003.0,810.7 1004.5,810.9 1006.0,810.9 1007.5,810.6 1009.1,810.2 1010.6,810.1 1012.2,809.5 1013.8,809.2 1015.3,809.9 1016.9,809.9 1018.5,809.8 1020.1,809.3 1021.7,808.5 1023.2,809.1 1024.8,808.9 1026.4,808.4 1027.9,808.5 1029.5,807.9 1031.0,808.1 1032.5,807.7 1034.1,807.0 1035.6,807.4 1037.2,807.2 1038.8,808.2 1040.4,807.2 1042.0,806.9 1043.6,806.6 1045.2,806.5 1046.9,806.5 1048.5,806.1 1050.1,805.8 1051.8,807.0 1053.5,806.3 1055.1,806.1 1056.8,806.2 1058.5,805.7 1060.1,805.3 1061.8,805.1 1063.5,805.3 1065.2,805.2 1066.8,805.8 1068.5,805.4 1070.2,805.9 1071.9,804.9 1073.5,805.7 1075.2,805.0 1076.9,804.1 1078.5,804.2 1080.2,804.7 1081.8,805.3 1083.5,804.2 1085.1,804.7 1086.8,804.1 1088.4,804.7 1090.0,803.3 1091.6,803.9 1093.2,804.4 1094.8,803.4 1096.4,803.2 1098.0,802.8 1099.6,802.9 1101.2,803.0 1102.8,803.6 1104.3,802.7 1105.9,802.9 1107.5,802.5 1109.1,803.0 1110.6,803.4 1112.2,802.9 1113.8,802.1 1115.4,802.9 1116.9,803.2 1118.5,802.5 1120.1,801.6 1121.6,802.7 1123.2,802.7 1124.8,801.8 1126.4,801.4 1127.9,801.4 1129.5,801.8 1131.1,802.3 1132.7,801.9 1134.2,802.2 1135.8,801.0 1137.4,801.1 1139.0,801.7 1140.6,801.5 1142.2,801.0 1143.8,801.4 1145.4,800.8 1147.0,800.3 1148.7,800.8 1150.4,800.1 1152.0,801.0 1153.8,800.5 1155.6,800.7 1157.4,800.8 1159.3,800.2 1161.1,800.5 1163.0,799.7 1164.9,801.1 1166.8,800.5 1168.7,801.1 1170.6,799.5 1172.5,800.4 1174.4,800.5 1176.3,799.8 1178.2,799.4 1180.1,799.5 1181.9,799.4 1183.7,800.4 1185.5,799.2 1187.2,800.3 1188.9,799.7 1190.6,799.8 1192.2,799.9 1193.8,799.8 1195.4,799.9 1197.5,799.8 1199.6,799.3 1201.4,799.9 1203.1,799.1 1206.0,799.4" fill="none" stroke="#d8c229" stroke-width="4.2" stroke-linejoin="round" stroke-linecap="round"/>
<polyline points="813.5,845.0 816.2,845.0 818.0,845.0 819.7,844.2 821.7,844.9 823.7,845.2 825.3,844.3 826.8,843.9 828.3,844.3 829.9,844.9 831.6,843.6 833.2,843.3 835.0,844.0 836.7,844.2 838.5,844.4 840.3,843.7 842.1,844.6 843.9,843.3 845.7,844.1 847.5,843.0 849.4,842.9 851.2,843.0 853.0,842.8 854.8,843.4 856.6,843.5 858.4,842.8 860.2,844.0 861.9,843.0 863.6,842.6 865.3,842.6 866.8,843.5 868.4,843.7 870.0,842.5 871.5,842.2 873.0,843.4 874.5,842.5 876.7,843.6 878.9,842.8 881.1,842.9 883.3,842.4 885.5,843.1 887.6,842.5 889.8,842.2 891.9,843.1 894.0,841.8 896.2,842.7 898.3,841.6 900.5,842.5 902.6,842.0 904.8,842.7 906.9,841.4 909.1,842.1 911.3,841.8 913.5,842.6 915.7,842.5 918.0,842.0 919.5,841.3 921.0,841.3 922.5,841.2 924.0,841.4 925.6,841.1 927.1,841.0 928.7,841.8 930.2,841.5 931.8,840.9 933.3,842.0 934.9,840.7 936.5,841.2 938.0,840.4 939.6,841.5 941.2,841.4 942.8,840.4 944.4,841.1 946.0,841.1 947.6,840.2 949.2,840.2 950.8,840.4 952.4,840.9 954.0,839.7 955.6,840.5 957.2,840.3 958.8,839.9 960.5,840.1 962.1,840.5 963.7,839.3 965.3,840.3 967.0,839.4 968.6,840.0 970.2,840.1 971.8,838.9 973.5,839.9 975.1,840.0 976.7,838.8 978.4,838.3 980.0,838.4 981.6,839.7 983.3,838.1 984.9,839.4 986.6,838.1 988.2,839.0 989.9,837.9 991.5,837.9 993.2,838.7 994.8,837.6 996.5,838.0 998.2,838.8 999.8,838.4 1001.5,838.6 1003.2,838.7 1004.8,837.1 1006.5,837.3 1008.2,838.1 1009.8,837.9 1011.5,836.8 1013.2,837.4 1014.9,836.9 1016.6,837.1 1018.2,836.5 1019.9,836.3 1021.6,837.8 1023.3,836.6 1024.9,837.4 1026.6,836.1 1028.3,836.6 1030.0,836.0 1031.6,836.4 1033.3,835.9 1035.0,836.6 1036.7,835.6 1038.3,836.5 1040.0,836.0 1041.7,835.3 1043.4,835.6 1045.1,835.7 1046.8,836.3 1048.5,835.2 1050.2,834.9 1052.0,836.0 1053.7,835.8 1055.5,835.4 1057.2,834.6 1059.0,834.3 1060.7,834.3 1062.5,833.9 1064.3,833.7 1066.0,834.3 1067.8,834.1 1069.5,834.2 1071.2,833.7 1073.0,833.1 1074.7,834.0 1076.4,833.9 1078.1,833.6 1079.8,833.5 1081.5,833.6 1083.1,833.9 1084.8,833.6 1086.4,833.3 1088.0,832.6 1089.6,832.4 1091.2,832.5 1092.7,833.2 1094.2,832.2 1095.7,832.1 1097.9,832.0 1100.0,831.4 1102.0,832.7 1104.1,830.9 1106.0,831.8 1107.9,832.2 1109.8,831.0 1111.6,831.4 1113.4,830.9 1115.2,830.6 1116.9,830.4 1118.6,830.2 1120.2,831.2 1121.9,831.0 1123.5,831.1 1125.1,829.6 1126.6,830.6 1128.1,829.9 1129.7,830.3 1131.2,830.1 1134.1,829.5 1137.1,830.4 1140.0,828.7 1142.9,829.8 1145.8,829.8 1148.7,829.1 1151.5,829.1 1154.2,829.6 1156.9,828.3 1159.4,828.9 1161.9,829.0 1164.1,828.3 1166.3,828.8 1168.2,828.3 1170.0,828.5 1171.5,828.7 1172.9,828.8 1174.0,828.3 1175.0,828.9 1175.8,828.8 1176.5,828.4 1177.1,829.1 1177.7,828.7 1178.2,829.9 1178.8,829.4 1179.4,830.1 1180.0,830.0 1180.6,830.3 1181.3,830.2 1181.8,830.5 1182.4,832.1 1182.9,831.9 1183.4,832.4 1183.8,832.9 1184.3,833.9 1184.7,833.6 1185.2,834.1 1185.6,835.8 1186.0,835.9 1186.4,837.0 1186.8,838.1 1187.1,839.1 1187.5,840.0 1187.8,839.6 1188.1,841.1 1188.4,842.9 1188.7,843.9 1189.0,843.9 1189.4,845.1 1189.7,846.4 1190.0,847.4 1190.3,849.0 1190.7,851.1 1191.0,852.0 1191.3,853.3 1191.7,854.2 1192.0,856.2 1192.3,858.7 1192.7,859.7 1193.0,860.8 1193.3,862.2 1193.7,864.1 1194.0,865.4 1194.3,865.7 1194.7,867.9 1195.0,868.7 1195.3,870.3 1195.6,871.1 1195.9,872.5 1196.3,873.7 1196.6,874.9 1196.9,875.4 1197.3,876.7 1197.6,878.3 1198.0,878.3 1198.2,879.2 1198.2,880.8 1198.0,880.7 1197.7,881.3 1197.4,881.6 1197.2,883.0 1197.2,882.1 1197.4,883.3 1198.1,884.0 1199.1,883.1 1200.8,883.7 1203.0,884.5 1206.0,884.3 1207.8,884.0 1209.6,883.5 1211.7,884.1 1213.7,884.0 1215.3,884.5 1216.8,883.8 1218.4,884.0 1220.1,884.3 1221.7,884.6 1223.4,883.8 1225.1,883.8 1226.9,884.1 1228.7,884.6 1230.5,883.4 1232.3,884.6 1234.1,884.1 1235.9,883.5 1237.7,883.9 1239.6,883.3 1241.4,882.9 1243.2,883.9 1245.0,883.2 1246.8,883.4 1248.5,883.3 1250.3,883.9 1252.0,883.6 1253.6,882.4 1255.3,883.3 1256.9,883.0 1258.4,883.0 1260.0,883.5 1261.5,882.8 1263.1,882.9 1264.6,883.5 1266.2,882.7 1267.8,882.8 1269.4,882.8 1271.0,883.2 1272.6,882.9 1274.3,883.0 1275.9,882.4 1277.5,881.7 1279.2,882.7 1280.8,882.5 1282.4,882.7 1284.1,882.7 1285.6,881.6 1287.2,881.7 1288.8,881.4 1290.3,882.5 1291.8,881.3 1293.4,881.3 1295.5,882.3 1297.6,881.9 1299.6,881.0 1301.6,881.9 1303.3,881.9 1305.1,881.5 1306.6,880.7 1308.1,881.7 1310.5,881.3" fill="none" stroke="#93a526" stroke-width="4.2" stroke-linejoin="round" stroke-linecap="round"/>
<polyline points="922.5,841.5 922.7,842.6 923.0,844.4 923.3,845.4 923.6,846.9 924.0,847.3 924.4,849.3 924.9,851.3 925.3,852.3 925.7,855.6 926.2,856.3 926.6,858.0 927.0,859.7 927.4,861.3 927.8,863.9 928.3,865.2 928.7,866.9 929.1,868.6 929.6,869.8 930.0,872.0 930.5,874.6 930.9,876.1 931.3,877.8 931.7,878.3 932.0,879.5 932.3,880.5 932.6,882.4 932.9,883.1 933.1,884.2 933.4,885.1 933.6,886.1 933.8,886.5 934.0,887.9 934.2,887.6 934.5,889.4 934.7,889.5 935.0,889.3 935.3,890.3 935.5,891.2 935.8,891.5 936.0,892.2 936.3,892.2 936.6,892.5 936.9,893.7 937.2,893.2 937.5,894.2 937.9,894.6 938.3,894.6 938.7,894.6 939.2,895.7 939.7,895.2 940.3,896.1 940.8,895.0 941.5,895.8 942.1,896.3 942.7,895.5 943.4,897.0 944.0,895.9 944.7,896.9 945.4,896.4 946.0,897.7 946.6,897.2 947.1,897.7 947.6,897.3 948.1,897.7 948.6,897.8 949.1,897.3 949.7,897.2 950.3,898.2 951.1,897.2 951.9,898.4 952.9,897.3 954.0,897.2 955.2,897.1 956.3,898.2 957.5,898.5 958.7,897.6 960.1,897.9 961.5,897.2 963.1,898.2 964.9,897.8 967.0,896.8 969.3,896.6 972.0,897.5 973.5,896.3 975.0,897.5 976.7,896.6 978.4,896.4 980.4,896.9 982.3,896.3 984.4,896.6 986.5,895.9 988.0,897.0 989.5,896.0 991.0,896.7 992.5,895.5 994.1,896.5 995.7,896.7 997.3,895.7 999.0,895.0 1000.6,895.5 1002.3,895.8 1004.0,895.0 1005.7,895.5 1007.4,894.7 1009.1,895.2 1010.8,895.5 1012.5,894.9 1014.3,895.2 1016.0,894.2 1017.7,895.3 1019.4,894.0 1021.1,895.2 1022.8,895.3 1024.4,895.1 1026.1,894.3 1027.7,893.8 1029.4,893.8 1031.0,894.4 1032.6,893.9 1034.2,894.5 1035.8,893.1 1037.4,893.6 1039.1,894.1 1040.7,893.6 1042.3,893.4 1044.0,892.6 1045.6,892.6 1047.2,892.7 1048.9,893.6 1050.5,893.4 1052.2,892.3 1053.8,893.3 1055.5,891.8 1057.1,892.6 1058.8,893.1 1060.4,892.0 1062.1,892.9 1063.8,892.3 1065.4,891.2 1067.1,891.6 1068.7,891.7 1070.4,891.2 1072.0,891.9 1073.7,890.9 1075.3,891.8 1077.0,890.9 1078.6,890.5 1080.2,891.2 1081.9,890.3 1083.5,891.0 1085.1,891.2 1086.8,890.8 1088.4,890.5 1090.0,889.8 1091.6,890.4 1093.2,889.7 1094.8,890.5 1096.4,889.6 1098.0,890.2 1099.6,889.7 1101.2,889.7 1102.8,890.1 1104.4,889.2 1106.0,889.1 1107.6,890.3 1109.2,889.2 1110.8,889.9 1112.4,889.9 1113.9,889.2 1115.5,888.6 1117.1,888.4 1118.7,889.6 1120.3,888.3 1121.8,888.8 1123.4,888.8 1125.0,888.1 1126.6,888.5 1128.1,888.0 1129.7,888.5 1131.3,888.4 1132.9,888.1 1134.4,887.7 1136.0,888.0 1137.6,887.5 1139.2,887.3 1140.7,887.4 1142.3,888.4 1143.9,887.7 1145.4,888.2 1147.0,886.7 1148.6,888.1 1150.3,887.3 1151.9,887.7 1153.6,887.2 1155.3,887.3 1157.0,886.5 1158.8,887.2 1160.6,886.1 1162.4,886.2 1164.2,885.7 1166.0,886.2 1167.8,886.3 1169.6,885.8 1171.4,886.6 1173.2,885.2 1175.0,885.9 1176.8,885.2 1178.6,885.7 1180.3,885.9 1182.0,885.7 1183.7,884.5 1185.3,884.7 1186.9,885.2 1188.5,885.7 1190.7,884.0 1193.0,884.8 1194.9,884.8 1196.9,884.9 1198.6,884.0 1200.3,884.7 1203.0,884.0" fill="none" stroke="#93a526" stroke-width="4.2" stroke-linejoin="round" stroke-linecap="round"/>
<polyline points="813.5,922.5 816.2,922.8 818.0,922.1 819.7,922.8 821.7,922.4 823.7,922.3 825.3,922.1 826.8,922.2 828.3,922.5 829.9,922.5 831.6,922.1 833.2,922.2 835.0,922.0 836.7,922.1 838.5,922.1 840.3,922.1 842.1,922.6 843.9,922.6 845.7,922.4 847.5,922.2 849.4,922.2 851.2,922.3 853.0,922.4 854.8,922.3 856.6,922.2 858.4,921.9 860.2,922.2 861.9,922.3 863.6,922.3 865.3,921.8 866.8,922.2 868.4,921.9 870.0,921.8 872.2,922.3 874.5,922.1 876.7,922.1 878.9,921.7 881.1,922.2 883.3,922.2 885.5,922.2 887.6,922.1 889.8,922.2 891.9,922.1 894.0,922.0 896.2,921.9 898.3,922.1 900.5,922.1 902.6,922.2 904.8,921.8 906.9,922.2 909.1,921.9 911.3,922.2 913.5,921.6 915.7,922.1 918.0,922.0 919.5,921.6 921.0,922.0 922.5,921.5 924.0,921.5 925.6,921.6 927.1,921.4 928.7,921.6 930.2,921.8 931.8,921.6 933.3,921.6 934.9,921.4 936.5,921.6 938.0,921.6 939.6,921.5 941.2,921.6 942.8,921.5 944.4,921.1 946.0,920.9 947.6,921.2 949.2,921.3 950.8,920.9 952.4,921.0 954.0,921.2 955.6,921.1 957.2,920.5 958.8,920.8 960.5,920.4 962.1,920.4 963.7,920.8 965.3,920.5 967.0,920.6 968.6,920.4 970.2,920.3 971.8,920.1 973.5,920.2 975.1,920.4 976.7,920.2 978.4,919.9 980.0,919.7 981.6,919.8 983.3,920.0 984.9,919.8 986.6,919.8 988.2,919.9 989.9,919.3 991.5,919.6 993.2,919.1 994.8,919.6 996.5,919.1 998.2,919.1 999.8,919.5 1001.5,919.0 1003.2,918.8 1004.8,919.2 1006.5,918.9 1008.2,919.0 1009.8,918.6 1011.5,918.6 1013.2,918.8 1014.9,918.4 1016.6,918.6 1018.2,918.0 1019.9,918.4 1021.6,917.8 1023.3,918.0 1024.9,917.5 1026.6,917.5 1028.3,918.0 1030.0,917.5 1031.6,917.7 1033.3,917.2 1035.0,917.2 1036.7,916.9 1038.3,917.1 1040.0,917.3 1041.7,916.9 1043.4,916.7 1045.1,917.0 1046.8,916.9 1048.5,916.6 1050.2,916.1 1052.0,916.4 1053.7,916.1 1055.5,916.4 1057.2,915.8 1059.0,915.9 1060.7,915.8 1062.5,915.5 1064.3,915.5 1066.0,915.5 1067.8,915.5 1069.5,915.1 1071.2,914.9 1073.0,915.2 1074.7,914.5 1076.4,914.9 1078.1,914.7 1079.8,914.5 1081.5,914.3 1083.1,914.4 1084.8,914.3 1086.4,914.1 1088.0,914.0 1089.6,913.4 1091.2,913.5 1092.7,913.3 1094.2,913.7 1095.7,913.6 1097.9,912.9 1100.0,913.1 1102.0,912.9 1104.1,912.4 1106.1,912.5 1108.0,912.6 1109.9,912.4 1111.8,912.0 1113.7,912.2 1115.5,911.7 1117.2,911.7 1119.0,911.5 1120.7,911.8 1122.4,911.4 1124.0,911.4 1125.6,911.2 1127.2,910.8 1128.7,911.1 1130.2,910.8 1131.7,910.7 1134.6,910.2 1137.4,909.9 1140.0,910.1 1142.5,910.1 1144.8,909.9 1147.0,909.5 1149.0,909.3 1150.9,909.5 1152.8,909.7 1154.5,909.2 1156.1,909.6 1157.6,909.1 1159.1,909.2 1160.6,909.1 1162.0,909.3 1163.4,909.3 1164.6,909.8 1165.8,909.8 1166.9,909.4 1167.9,909.5 1168.9,910.1 1169.8,909.6 1170.7,909.8 1171.6,910.0 1172.4,909.9 1173.2,910.2 1174.0,910.4 1174.8,910.6 1175.5,911.1 1176.2,910.8 1176.9,910.9 1177.5,911.6 1178.1,911.5 1178.7,911.9 1179.2,912.0 1179.8,912.4 1180.3,912.4 1180.9,912.6 1181.4,913.4 1181.9,913.6 1182.5,914.1 1183.0,914.6 1183.5,915.1 1183.9,915.3 1184.4,915.9 1184.9,916.9 1185.3,917.2 1185.8,917.7 1186.2,918.6 1186.6,919.1 1187.0,920.2 1187.4,920.5 1187.8,921.9 1188.1,922.6 1188.5,923.4 1188.8,924.8 1189.1,925.4 1189.4,926.4 1189.7,927.4 1190.0,928.8 1190.4,930.0 1190.7,931.0 1191.0,931.9 1191.3,933.3 1191.7,934.0 1192.0,935.3 1192.3,936.8 1192.7,938.2 1193.0,939.2 1193.3,940.5 1193.7,941.7 1194.0,942.7 1194.3,944.2 1194.7,945.1 1195.0,945.9 1195.3,946.9 1195.7,948.2 1196.0,948.9 1196.3,949.7 1196.7,951.1 1197.0,951.8 1197.3,952.6 1197.7,953.5 1198.0,954.4 1198.3,954.6 1198.7,955.3 1199.0,955.7 1199.2,956.4 1199.1,956.9 1198.8,957.4 1198.4,957.6 1198.0,957.7 1197.7,957.7 1197.6,958.0 1197.7,957.9 1198.3,958.3 1199.3,958.4 1200.8,958.5 1203.0,958.1 1205.9,958.5 1207.7,958.5 1209.5,958.4 1211.6,958.7 1213.7,958.7 1215.2,958.5 1216.8,958.6 1218.3,958.5 1220.0,958.6 1221.7,958.1 1223.3,958.4 1225.1,958.4 1226.8,958.3 1228.6,958.1 1230.4,957.9 1232.2,958.3 1234.0,958.4 1235.9,958.0 1237.7,957.9 1239.5,957.9 1241.3,957.8 1243.1,958.2 1245.0,958.3 1246.7,958.2 1248.5,957.9 1250.3,958.1 1251.9,957.6 1253.6,958.1 1255.3,957.7 1256.9,957.5 1258.4,957.9 1260.0,957.5 1261.5,957.6 1263.1,957.5 1264.6,957.7 1266.2,957.8 1267.8,957.9 1269.4,957.4 1271.0,957.9 1272.6,957.4 1274.3,957.4 1275.9,957.7 1277.5,957.5 1279.2,957.4 1280.8,957.6 1282.4,957.3 1284.1,957.7 1285.6,957.3 1287.2,957.7 1288.8,957.6 1290.3,957.4 1291.8,957.0 1293.4,957.5 1295.5,957.0 1297.6,957.3 1299.6,957.2 1301.6,956.9 1303.3,957.3 1305.1,957.3 1308.1,957.2 1310.5,957.1" fill="none" stroke="#336c22" stroke-width="4.2" stroke-linejoin="round" stroke-linecap="round"/>
<polyline points="922.5,921.6 922.7,922.3 922.9,923.2 923.1,923.9 923.4,925.3 923.7,926.6 924.0,927.6 924.3,929.0 924.7,929.8 925.0,931.6 925.3,932.2 925.7,933.8 926.0,934.7 926.3,936.2 926.6,937.6 927.0,938.9 927.3,940.0 927.7,941.3 928.0,942.5 928.4,944.0 928.7,945.2 929.1,946.3 929.4,947.9 929.7,948.9 930.0,950.0 930.3,950.8 930.5,952.1 930.8,952.7 931.0,953.7 931.3,954.8 931.5,955.7 931.8,956.7 932.0,957.3 932.2,958.2 932.5,958.9 932.7,959.5 933.0,960.2 933.3,960.3 933.5,961.0 933.7,961.5 934.0,962.6 934.2,963.0 934.5,963.5 934.7,963.7 935.0,964.2 935.4,964.5 935.8,965.3 936.2,965.9 936.7,965.9 937.3,966.1 937.9,966.6 938.5,967.1 939.1,967.9 939.8,968.2 940.6,968.3 941.4,968.4 942.2,968.7 943.1,969.0 944.0,969.7 945.0,969.8 946.0,970.3 947.1,970.5 948.2,970.6 949.4,970.5 950.7,970.8 952.0,970.4 953.3,970.5 954.7,970.9 956.1,970.9 957.5,970.7 959.0,970.8 960.4,970.6 961.8,971.3 963.1,971.2 964.3,971.3 965.4,971.4 966.5,971.0 967.6,971.2 968.7,971.0 970.0,971.2 971.4,971.2 973.1,970.6 975.0,970.4 977.3,970.5 980.0,970.6 981.5,970.3 983.1,970.0 984.8,970.4 986.5,970.3 988.4,969.9 990.3,969.5 992.3,970.0 994.3,969.6 996.4,969.1 998.5,969.1 1000.7,969.2 1003.0,969.2 1004.5,968.8 1006.0,968.8 1007.5,968.4 1009.1,968.3 1010.6,968.6 1012.2,968.2 1013.8,967.9 1015.3,968.1 1016.9,967.6 1018.5,967.6 1020.1,967.7 1021.7,967.6 1023.2,967.6 1024.8,967.5 1026.4,967.2 1027.9,966.9 1029.5,967.3 1031.0,966.7 1032.5,966.9 1034.1,966.8 1035.6,966.9 1037.2,966.8 1038.8,966.4 1040.4,966.6 1042.0,966.5 1043.6,966.3 1045.2,966.0 1046.9,966.4 1048.5,966.1 1050.1,965.7 1051.8,965.7 1053.5,966.1 1055.1,965.5 1056.8,965.6 1058.5,965.8 1060.1,965.7 1061.8,965.5 1063.5,965.5 1065.2,964.9 1066.8,964.9 1068.5,965.4 1070.2,965.2 1071.9,964.6 1073.5,964.5 1075.2,964.6 1076.9,965.0 1078.5,964.4 1080.2,964.6 1081.8,964.7 1083.5,964.4 1085.1,964.5 1086.8,964.0 1088.4,963.8 1090.0,963.7 1091.6,964.1 1093.2,963.6 1094.8,964.1 1096.4,963.8 1098.0,963.4 1099.6,963.7 1101.2,963.2 1102.8,963.3 1104.4,963.0 1106.0,963.4 1107.6,963.3 1109.2,963.3 1110.8,962.6 1112.4,963.1 1113.9,962.8 1115.5,962.9 1117.1,962.6 1118.7,962.6 1120.3,962.5 1121.8,962.5 1123.4,961.9 1125.0,961.8 1126.6,962.1 1128.1,961.8 1129.7,961.8 1131.3,961.5 1132.9,961.9 1134.4,961.3 1136.0,961.8 1137.6,961.7 1139.2,961.4 1140.7,961.1 1142.3,961.3 1143.9,961.0 1145.4,961.0 1147.0,960.7 1148.6,961.3 1150.3,960.9 1151.9,960.7 1153.6,960.4 1155.3,960.7 1157.0,960.7 1158.8,960.7 1160.6,960.0 1162.4,960.1 1164.2,960.0 1166.0,960.2 1167.8,959.7 1169.6,960.0 1171.4,960.1 1173.2,959.9 1175.0,959.3 1176.8,959.2 1178.6,959.2 1180.3,959.5 1182.0,959.4 1183.7,959.2 1185.3,959.1 1186.9,959.0 1188.5,959.1 1190.7,959.0 1193.0,959.1 1194.9,958.8 1196.9,958.8 1198.6,958.8 1200.3,958.7 1203.0,958.3" fill="none" stroke="#336c22" stroke-width="4.2" stroke-linejoin="round" stroke-linecap="round"/>
<text x="816.2" y="144.5" class="s" font-size="30.5">-5.2 V</text>
<text x="824.2" y="358.5" class="s" font-size="30.5">-4.8 V</text>
<text x="817.7" y="524.5" class="s" font-size="30.5">-4.68 V</text>
<text x="824.2" y="655.5" class="s" font-size="30.5">-4.5 V</text>
<text x="825.2" y="785.5" class="s" font-size="30.5">-4.1 V</text>
<text x="825.2" y="883.5" class="s" font-size="30.5">-3.8 V</text>
<text x="844.7" y="972.5" class="s" font-size="30.5">0 V</text>
<rect x="777.5" y="14" width="569.0" height="997.5" fill="none" stroke="#000" stroke-width="2"/>
<line x1="795.2" y1="1011.5" x2="795.2" y2="1007.5" stroke="#000" stroke-width="2"/>
<line x1="795.2" y1="14" x2="795.2" y2="18" stroke="#000" stroke-width="2"/>
<line x1="848.5" y1="1011.5" x2="848.5" y2="1004.0" stroke="#000" stroke-width="2"/>
<line x1="848.5" y1="14" x2="848.5" y2="21.5" stroke="#000" stroke-width="2"/>
<text x="848.5" y="1047.5" class="s" font-size="34" text-anchor="middle">-6</text>
<line x1="901.9" y1="1011.5" x2="901.9" y2="1007.5" stroke="#000" stroke-width="2"/>
<line x1="901.9" y1="14" x2="901.9" y2="18" stroke="#000" stroke-width="2"/>
<line x1="955.3" y1="1011.5" x2="955.3" y2="1004.0" stroke="#000" stroke-width="2"/>
<line x1="955.3" y1="14" x2="955.3" y2="21.5" stroke="#000" stroke-width="2"/>
<text x="955.3" y="1047.5" class="s" font-size="34" text-anchor="middle">-3</text>
<line x1="1008.6" y1="1011.5" x2="1008.6" y2="1007.5" stroke="#000" stroke-width="2"/>
<line x1="1008.6" y1="14" x2="1008.6" y2="18" stroke="#000" stroke-width="2"/>
<line x1="1062.0" y1="1011.5" x2="1062.0" y2="1004.0" stroke="#000" stroke-width="2"/>
<line x1="1062.0" y1="14" x2="1062.0" y2="21.5" stroke="#000" stroke-width="2"/>
<text x="1062.0" y="1047.5" class="s" font-size="34" text-anchor="middle">0</text>
<line x1="1115.4" y1="1011.5" x2="1115.4" y2="1007.5" stroke="#000" stroke-width="2"/>
<line x1="1115.4" y1="14" x2="1115.4" y2="18" stroke="#000" stroke-width="2"/>
<line x1="1168.7" y1="1011.5" x2="1168.7" y2="1004.0" stroke="#000" stroke-width="2"/>
<line x1="1168.7" y1="14" x2="1168.7" y2="21.5" stroke="#000" stroke-width="2"/>
<text x="1168.7" y="1047.5" class="s" font-size="34" text-anchor="middle">3</text>
<line x1="1222.1" y1="1011.5" x2="1222.1" y2="1007.5" stroke="#000" stroke-width="2"/>
<line x1="1222.1" y1="14" x2="1222.1" y2="18" stroke="#000" stroke-width="2"/>
<line x1="1275.5" y1="1011.5" x2="1275.5" y2="1004.0" stroke="#000" stroke-width="2"/>
<line x1="1275.5" y1="14" x2="1275.5" y2="21.5" stroke="#000" stroke-width="2"/>
<text x="1275.5" y="1047.5" class="s" font-size="34" text-anchor="middle">6</text>
<line x1="1328.8" y1="1011.5" x2="1328.8" y2="1007.5" stroke="#000" stroke-width="2"/>
<line x1="1328.8" y1="14" x2="1328.8" y2="18" stroke="#000" stroke-width="2"/>
<text x="1075" y="1092" class="s" font-size="36" text-anchor="middle">Magnetic field (T)</text>
<line x1="1320" y1="44" x2="1320" y2="126" stroke="#000" stroke-width="2.6"/>
<line x1="1315" y1="45" x2="1325.5" y2="45" stroke="#000" stroke-width="2.6"/>
<line x1="1315" y1="125.5" x2="1325.5" y2="125.5" stroke="#000" stroke-width="2.6"/>
<text x="1204" y="90.5" font-size="31.5"><tspan class="r">5&#956;&#937;</tspan><tspan class="s">&#8226;cm</tspan></text>
<text transform="translate(725.5,603) rotate(-90)" font-size="34"><tspan class="s" font-size="27">&#961;</tspan><tspan class="sb" font-size="23" dx="1.7" dy="12.5">xy</tspan><tspan class="s" dx="1.6" dy="-12.5">(</tspan><tspan class="r">&#956;&#937;</tspan><tspan class="s">&#8226;cm)</tspan></text>
<g transform="translate(290 500) scale(0.22691)">
<defs><clipPath id="ic"><rect x="55" y="62" width="1133" height="996"/></clipPath><linearGradient id="tg" x1="0" y1="0" x2="1" y2="1"><stop offset="0" stop-color="#4fab97"/><stop offset="0.6" stop-color="#4fa2a5"/><stop offset="1" stop-color="#52a89b"/></linearGradient></defs>
<filter id="ib" x="-5%" y="-5%" width="110%" height="110%"><feGaussianBlur stdDeviation="4"/></filter>
<g clip-path="url(#ic)"><g filter="url(#ib)">
<rect x="55" y="62" width="1133" height="996" fill="url(#tg)"/>
<polygon points="230,205 870,200 880,215 880,815 300,828 300,640 240,600 230,465 55,465 55,330 230,330" fill="#e9e1d1"/>
<polygon points="455,240 660,215 660,350 680,430 700,510 712,615 515,640 500,560 465,500 460,400" fill="#a0b3b7"/>
<polygon points="470,250 640,230 650,330 480,360" fill="#aaa6c0" opacity="0.6"/>
<polygon points="245,62 655,62 680,185 660,215 275,245" fill="#f9df7d" stroke="#6a7898" stroke-width="4"/>
<polygon points="410,352 880,290 1188,268 1188,380 880,335 420,395" fill="#f9df7d" stroke="#6a7898" stroke-width="4"/>
<polygon points="548,495 555,510 548,527 470,540 300,640 290,1058 190,1058 240,600 470,505" fill="#f9df7d" stroke="#6a7898" stroke-width="4"/>
<polygon points="605,490 872,454 989,545 1188,736 1188,928 1021,736 880,564 797,509 615,525" fill="#f9df7d" stroke="#6a7898" stroke-width="4"/>
<polygon points="415,648 794,613 814,748 858,863 916,1058 758,1058 682,826 450,800 430,720" fill="#f9df7d" stroke="#6a7898" stroke-width="4"/>
<path d="M440,175 L480,140 L525,145 L560,170 L600,185 L650,180 L660,215 L655,290 L665,350 L680,430 L700,510 L712,615 L722,720 L620,715 L530,720 L520,640 L500,560 L470,500 L460,400 L455,300 L445,220 Z" fill="none" stroke="#6a7898" stroke-width="8"/>
</g></g>
<text x="78" y="464" font-family="Liberation Sans" font-weight="bold" font-size="122" fill="#f01010">Pt</text>
<text x="995" y="170" font-family="Liberation Sans" font-weight="bold" font-size="118" fill="#f01010" textLength="176" lengthAdjust="spacingAndGlyphs">SIC</text>
<text x="77" y="977" font-family="Liberation Sans" font-weight="bold" font-size="108" fill="#000">10um</text>
<line x1="68" y1="1025" x2="360" y2="1025" stroke="#000" stroke-width="12"/>
</g>
<line x1="88.5" y1="1008.5" x2="570" y2="1008.5" stroke="#000" stroke-width="2"/>
<line x1="88.5" y1="504" x2="88.5" y2="1008.5" stroke="#000" stroke-width="2"/>
<line x1="88.5" y1="504" x2="570" y2="504" stroke="#0000ff" stroke-width="2"/>
<line x1="570" y1="504" x2="570" y2="1008.5" stroke="#0000ff" stroke-width="2"/>
<text x="88.9" y="1043" class="s" font-size="34.5" text-anchor="middle">-6</text>
<line x1="125.9" y1="1008.5" x2="125.9" y2="1004.5" stroke="#000" stroke-width="2"/>
<line x1="125.9" y1="504" x2="125.9" y2="508" stroke="#0000ff" stroke-width="2"/>
<line x1="162.9" y1="1008.5" x2="162.9" y2="1002.0" stroke="#000" stroke-width="2"/>
<line x1="162.9" y1="504" x2="162.9" y2="510.5" stroke="#0000ff" stroke-width="2"/>
<text x="162.9" y="1043" class="s" font-size="34.5" text-anchor="middle">-5</text>
<line x1="199.9" y1="1008.5" x2="199.9" y2="1004.5" stroke="#000" stroke-width="2"/>
<line x1="199.9" y1="504" x2="199.9" y2="508" stroke="#0000ff" stroke-width="2"/>
<line x1="236.9" y1="1008.5" x2="236.9" y2="1002.0" stroke="#000" stroke-width="2"/>
<line x1="236.9" y1="504" x2="236.9" y2="510.5" stroke="#0000ff" stroke-width="2"/>
<text x="236.9" y="1043" class="s" font-size="34.5" text-anchor="middle">-4</text>
<line x1="273.9" y1="1008.5" x2="273.9" y2="1004.5" stroke="#000" stroke-width="2"/>
<line x1="273.9" y1="504" x2="273.9" y2="508" stroke="#0000ff" stroke-width="2"/>
<line x1="310.9" y1="1008.5" x2="310.9" y2="1002.0" stroke="#000" stroke-width="2"/>
<line x1="310.9" y1="504" x2="310.9" y2="510.5" stroke="#0000ff" stroke-width="2"/>
<text x="310.9" y="1043" class="s" font-size="34.5" text-anchor="middle">-3</text>
<line x1="347.9" y1="1008.5" x2="347.9" y2="1004.5" stroke="#000" stroke-width="2"/>
<line x1="347.9" y1="504" x2="347.9" y2="508" stroke="#0000ff" stroke-width="2"/>
<line x1="384.9" y1="1008.5" x2="384.9" y2="1002.0" stroke="#000" stroke-width="2"/>
<line x1="384.9" y1="504" x2="384.9" y2="510.5" stroke="#0000ff" stroke-width="2"/>
<text x="384.9" y="1043" class="s" font-size="34.5" text-anchor="middle">-2</text>
<line x1="421.9" y1="1008.5" x2="421.9" y2="1004.5" stroke="#000" stroke-width="2"/>
<line x1="421.9" y1="504" x2="421.9" y2="508" stroke="#0000ff" stroke-width="2"/>
<line x1="458.9" y1="1008.5" x2="458.9" y2="1002.0" stroke="#000" stroke-width="2"/>
<line x1="458.9" y1="504" x2="458.9" y2="510.5" stroke="#0000ff" stroke-width="2"/>
<text x="458.9" y="1043" class="s" font-size="34.5" text-anchor="middle">-1</text>
<line x1="495.9" y1="1008.5" x2="495.9" y2="1004.5" stroke="#000" stroke-width="2"/>
<line x1="495.9" y1="504" x2="495.9" y2="508" stroke="#0000ff" stroke-width="2"/>
<line x1="532.9" y1="1008.5" x2="532.9" y2="1002.0" stroke="#000" stroke-width="2"/>
<line x1="532.9" y1="504" x2="532.9" y2="510.5" stroke="#0000ff" stroke-width="2"/>
<text x="532.9" y="1043" class="s" font-size="34.5" text-anchor="middle">0</text>
<line x1="88.5" y1="968.3" x2="92.5" y2="968.3" stroke="#000" stroke-width="2"/>
<line x1="88.5" y1="890.8" x2="95.0" y2="890.8" stroke="#000" stroke-width="2"/>
<text x="80.5" y="901.1" class="s" font-size="34.5" text-anchor="end">2</text>
<line x1="88.5" y1="813.3" x2="92.5" y2="813.3" stroke="#000" stroke-width="2"/>
<line x1="88.5" y1="735.8" x2="95.0" y2="735.8" stroke="#000" stroke-width="2"/>
<text x="80.5" y="746.1" class="s" font-size="34.5" text-anchor="end">4</text>
<line x1="88.5" y1="658.3" x2="92.5" y2="658.3" stroke="#000" stroke-width="2"/>
<line x1="88.5" y1="580.8" x2="95.0" y2="580.8" stroke="#000" stroke-width="2"/>
<text x="80.5" y="591.1" class="s" font-size="34.5" text-anchor="end">6</text>
<text x="577" y="1017.6" class="s" font-size="33" fill="#0000ff">-0.5</text>
<line x1="570" y1="948.2" x2="566" y2="948.2" stroke="#0000ff" stroke-width="2"/>
<line x1="570" y1="888.1" x2="564" y2="888.1" stroke="#0000ff" stroke-width="2"/>
<text x="577" y="897.4" class="s" font-size="33" fill="#0000ff">0.0</text>
<line x1="570" y1="828.0" x2="566" y2="828.0" stroke="#0000ff" stroke-width="2"/>
<line x1="570" y1="767.9" x2="564" y2="767.9" stroke="#0000ff" stroke-width="2"/>
<text x="577" y="777.2" class="s" font-size="33" fill="#0000ff">0.5</text>
<line x1="570" y1="707.8" x2="566" y2="707.8" stroke="#0000ff" stroke-width="2"/>
<line x1="570" y1="647.7" x2="564" y2="647.7" stroke="#0000ff" stroke-width="2"/>
<text x="577" y="657.0" class="s" font-size="33" fill="#0000ff">1.0</text>
<line x1="570" y1="587.6" x2="566" y2="587.6" stroke="#0000ff" stroke-width="2"/>
<line x1="570" y1="527.5" x2="564" y2="527.5" stroke="#0000ff" stroke-width="2"/>
<text x="577" y="536.8" class="s" font-size="33" fill="#0000ff">1.5</text>
<line x1="152.2" y1="703.8" x2="171.5" y2="757.4" stroke="#000" stroke-width="2.2"/>
<line x1="179.5" y1="786.2" x2="183.7" y2="807.9" stroke="#000" stroke-width="2.2"/>
<line x1="206.6" y1="852.3" x2="221.3" y2="877.6" stroke="#000" stroke-width="2.2"/>
<line x1="236.9" y1="903.2" x2="242.9" y2="912.5" stroke="#000" stroke-width="2.2"/>
<line x1="265.9" y1="926.0" x2="517.7" y2="938.6" stroke="#000" stroke-width="2.2"/>
<line x1="151.8" y1="561.5" x2="172.5" y2="638.5" stroke="#0000ff" stroke-width="2.2"/>
<line x1="179.0" y1="669.8" x2="183.4" y2="699.2" stroke="#0000ff" stroke-width="2.2"/>
<line x1="209.5" y1="754.7" x2="217.6" y2="763.3" stroke="#0000ff" stroke-width="2.2"/>
<line x1="238.1" y1="787.8" x2="242.1" y2="793.2" stroke="#0000ff" stroke-width="2.2"/>
<line x1="267.7" y1="806.8" x2="516.7" y2="819.5" stroke="#0000ff" stroke-width="2.2"/>
<rect x="139.5" y="682.1" width="15.2" height="15.2" fill="none" stroke="#000" stroke-width="2.5"/>
<rect x="169.0" y="763.9" width="15.2" height="15.2" fill="none" stroke="#000" stroke-width="2.5"/>
<rect x="179.0" y="815.0" width="15.2" height="15.2" fill="none" stroke="#000" stroke-width="2.5"/>
<rect x="191.4" y="831.8" width="15.2" height="15.2" fill="none" stroke="#000" stroke-width="2.5"/>
<rect x="221.3" y="882.9" width="15.2" height="15.2" fill="none" stroke="#000" stroke-width="2.5"/>
<rect x="243.3" y="917.6" width="15.2" height="15.2" fill="none" stroke="#000" stroke-width="2.5"/>
<rect x="525.1" y="931.8" width="15.2" height="15.2" fill="none" stroke="#000" stroke-width="2.5"/>
<polygon points="147.7,536.5 159.7,555.8 135.7,555.8" fill="none" stroke="#0000ff" stroke-width="2.6" stroke-linejoin="miter"/>
<polygon points="176.6,644.5 188.6,663.8 164.6,663.8" fill="none" stroke="#0000ff" stroke-width="2.6" stroke-linejoin="miter"/>
<polygon points="185.8,705.5 197.8,724.8 173.8,724.8" fill="none" stroke="#0000ff" stroke-width="2.6" stroke-linejoin="miter"/>
<polygon points="198.6,733.5 210.6,752.8 186.6,752.8" fill="none" stroke="#0000ff" stroke-width="2.6" stroke-linejoin="miter"/>
<polygon points="228.5,765.5 240.5,784.8 216.5,784.8" fill="none" stroke="#0000ff" stroke-width="2.6" stroke-linejoin="miter"/>
<polygon points="251.7,796.5 263.7,815.8 239.7,815.8" fill="none" stroke="#0000ff" stroke-width="2.6" stroke-linejoin="miter"/>
<polygon points="532.7,810.8 544.7,830.1 520.7,830.1" fill="none" stroke="#0000ff" stroke-width="2.6" stroke-linejoin="miter"/>
<line x1="186" y1="898.4" x2="124" y2="898.4" stroke="#000" stroke-width="2.2"/>
<polygon points="111,898.4 130,893.8 126,898.4 130,903" fill="#000"/>
<line x1="420.4" y1="849.4" x2="515" y2="849.4" stroke="#0000ff" stroke-width="2.2"/>
<polygon points="531,849.4 510,844.8 514,849.4 510,854" fill="#0000ff"/>
<text x="329" y="1083" class="s" font-size="35" text-anchor="middle">Gate voltages (V)</text>
<text transform="translate(36,848) rotate(-90)" font-size="37"><tspan class="s" font-size="27">&#961;</tspan><tspan class="r" font-size="22" dx="2.7" dy="-14.2">A</tspan><tspan class="sb" font-size="27" dx="1.4" dy="24.2">xy</tspan><tspan class="s" dx="1.5" dy="-10">(</tspan><tspan class="r">&#956;&#937;</tspan><tspan class="s">&#8226;cm)</tspan></text>
<text transform="translate(644,646.5) rotate(90)" font-size="37" fill="#0000ff"><tspan class="s" font-size="27">&#961;</tspan><tspan class="r" font-size="24" dx="3" dy="-14">T</tspan><tspan class="sb" font-size="27" dx="-0.6" dy="24">xy</tspan><tspan class="s" dx="1" dy="-10">(</tspan><tspan class="r">&#956;&#937;</tspan><tspan class="s">&#8226;cm)</tspan></text>
<text x="0" y="39" class="sbf" font-size="48">a</text>
<text x="680" y="42" class="sbf" font-size="47">b</text>
<text x="1" y="525" class="sbf" font-size="47">c</text>
</svg>
</body></html>
